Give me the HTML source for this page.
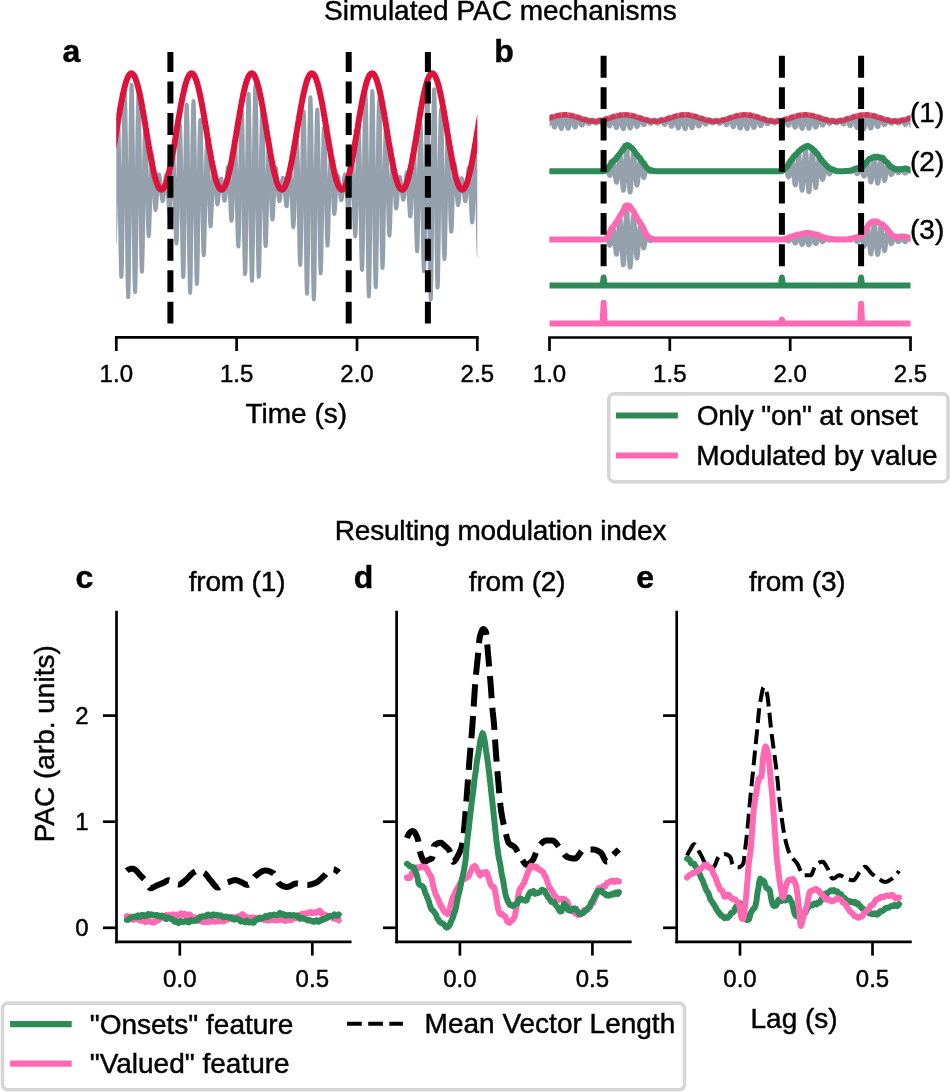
<!DOCTYPE html>
<html><head><meta charset="utf-8"><style>
html,body{margin:0;padding:0;background:#fff;}
svg{display:block;will-change:transform;}
text{font-family:"Liberation Sans", sans-serif;fill:#000;stroke:#000;stroke-width:0.45px;}
</style></head><body>
<svg width="950" height="1092" viewBox="0 0 950 1092">
<rect width="950" height="1092" fill="#fff"/>
<text x="324.1" y="20.2" font-size="28" font-weight="400" text-anchor="start" >Simulated PAC mechanisms</text>
<text x="334.7" y="539.8" font-size="28" font-weight="400" text-anchor="start"  textLength="331.7" lengthAdjust="spacing">Resulting modulation index</text>
<text x="62.6" y="62.2" font-size="32" font-weight="700" text-anchor="start" >a</text>
<text x="494.3" y="61.8" font-size="32" font-weight="700" text-anchor="start" >b</text>
<text x="75.5" y="587.8" font-size="32" font-weight="700" text-anchor="start" >c</text>
<text x="353.7" y="587.6" font-size="32" font-weight="700" text-anchor="start" >d</text>
<text x="636.2" y="587.8" font-size="32" font-weight="700" text-anchor="start" >e</text>
<defs><clipPath id="clipa"><rect x="116.3" y="40" width="361" height="300"/></clipPath><clipPath id="clipb"><rect x="549.5" y="40" width="361" height="300"/></clipPath></defs>
<g clip-path="url(#clipa)">
<path d="M113.9,232.6 L114.2,239.4 L114.6,241.8 L114.9,239.2 L115.2,231.5 L115.6,219.2 L115.9,203.2 L116.2,184.9 L116.6,166.2 L116.9,148.6 L117.2,133.9 L117.6,123.6 L117.9,119 L118.2,120.8 L118.6,129.1 L118.9,143.5 L119.2,162.8 L119.6,185.3 L119.9,209.9 L120.2,233.6 L120.6,254 L120.9,269 L121.2,276.9 L121.5,276.7 L121.9,268.2 L122.2,252 L122.5,229.2 L122.9,202 L123.2,173.6 L123.5,146.8 L123.9,123.1 L124.2,105 L124.5,94.3 L124.9,92.1 L125.2,98.9 L125.5,114.2 L125.9,136.7 L126.2,164.5 L126.5,195.2 L126.9,226.7 L127.2,255 L127.5,277.6 L127.9,292.2 L128.2,297.3 L128.5,292.4 L128.9,277.8 L129.2,254.8 L129.5,225.5 L129.9,192.6 L130.2,161.1 L130.5,132.2 L130.9,108.5 L131.2,92.2 L131.5,84.8 L131.9,86.9 L132.2,98.4 L132.5,118.1 L132.9,144.3 L133.2,174.4 L133.5,206.3 L133.9,236.8 L134.2,262.6 L134.5,281.4 L134.9,291.4 L135.2,291.9 L135.5,282.9 L135.9,265.3 L136.2,241 L136.5,212.2 L136.9,181.8 L137.2,152.9 L137.5,127.8 L137.9,108.8 L138.2,97.5 L138.5,94.7 L138.9,100.6 L139.2,114.4 L139.5,134.5 L139.9,159.1 L140.2,185.6 L140.5,212.5 L140.9,236.5 L141.2,255.3 L141.5,267.4 L141.9,271.9 L142.2,268.6 L142.5,258.2 L142.9,241.8 L143.2,221.2 L143.5,198.5 L143.9,176.6 L144.2,157.4 L144.5,141.8 L144.8,131.2 L145.2,126.3 L145.5,127.3 L145.8,133.8 L146.2,144.9 L146.5,159.4 L146.8,175.8 L147.2,192.5 L147.5,208.3 L147.8,221.4 L148.2,230.7 L148.5,235.6 L148.8,236 L149.2,232 L149.5,224.3 L149.8,213.9 L150.2,201.9 L150.5,189.6 L150.8,177.9 L151.2,168 L151.5,160.8 L151.8,156.6 L152.2,155.6 L152.5,157.7 L152.8,162.3 L153.2,169 L153.5,176.9 L153.8,185.1 L154.2,193.1 L154.5,200.1 L154.8,205.4 L155.2,208.7 L155.5,210 L155.8,209.2 L156.2,206.6 L156.5,202.6 L156.8,197.7 L157.2,192.4 L157.5,187.2 L157.8,182.4 L158.2,178.5 L158.5,175.8 L158.8,174.4 L159.2,174.5 L159.5,175.7 L159.8,178 L160.2,181.1 L160.5,184.6 L160.8,188.2 L161.2,192 L161.5,195.5 L161.8,198.3 L162.2,200.2 L162.5,201.2 L162.8,201 L163.2,199.7 L163.5,197.4 L163.8,194.2 L164.2,190.2 L164.5,186.5 L164.8,183 L165.2,179.8 L165.5,177.1 L165.8,175.3 L166.2,174.6 L166.5,175.2 L166.8,177.1 L167.2,180.4 L167.5,184.7 L167.8,190.1 L168.2,196.6 L168.5,202.9 L168.8,208.4 L169.1,212.4 L169.5,214.4 L169.8,214.1 L170.1,211.3 L170.5,205.9 L170.8,198.3 L171.1,189.2 L171.5,180.5 L171.8,172.1 L172.1,164.6 L172.5,158.8 L172.8,155.4 L173.1,155 L173.5,157.9 L173.8,163.9 L174.1,172.8 L174.5,183.7 L174.8,197.2 L175.1,211.6 L175.5,224.6 L175.8,235 L176.1,241.6 L176.5,243.4 L176.8,240.1 L177.1,231.6 L177.5,218.6 L177.8,202 L178.1,183.7 L178.5,166.4 L178.8,150.4 L179.1,137.2 L179.5,128.4 L179.8,124.8 L180.1,127.1 L180.5,135.4 L180.8,149 L181.1,166.8 L181.5,187.3 L181.8,212.1 L182.1,235.8 L182.5,255.7 L182.8,270 L183.1,277 L183.5,275.9 L183.8,266.5 L184.1,249.7 L184.5,226.6 L184.8,199.5 L185.1,173.4 L185.5,149.8 L185.8,129.4 L186.1,114.1 L186.5,105.5 L186.8,104.5 L187.1,111.2 L187.5,125.3 L187.8,145.4 L188.1,169.8 L188.5,197.5 L188.8,227.8 L189.1,254.8 L189.5,275.8 L189.8,288.9 L190.1,292.8 L190.5,287 L190.8,272.1 L191.1,249.5 L191.5,221.2 L191.8,189.8 L192.1,163.1 L192.4,139 L192.8,119.5 L193.1,106.4 L193.4,101 L193.8,103.7 L194.1,114.1 L194.4,131.3 L194.8,153.6 L195.1,178.9 L195.4,207.5 L195.8,235.6 L196.1,259 L196.4,275.6 L196.8,284 L197.1,283.4 L197.4,274.2 L197.8,257.3 L198.1,234.5 L198.4,207.9 L198.8,181.8 L199.1,160.5 L199.4,142.2 L199.8,128.7 L200.1,121.1 L200.4,119.7 L200.8,124.7 L201.1,135.4 L201.4,150.6 L201.8,168.7 L202.1,188 L202.4,209.7 L202.8,228.8 L203.1,243.4 L203.4,252.5 L203.8,255.4 L204.1,252.1 L204.4,243.2 L204.8,229.6 L205.1,213 L205.4,195 L205.8,178.4 L206.1,164.2 L206.4,153 L206.8,145.6 L207.1,142.5 L207.4,143.8 L207.8,149 L208.1,157.5 L208.4,168.3 L208.8,180.2 L209.1,192.8 L209.4,205.4 L209.8,215.7 L210.1,222.8 L210.4,226.3 L210.8,226.1 L211.1,222.5 L211.4,216.1 L211.8,207.7 L212.1,198.2 L212.4,188.6 L212.8,180.8 L213.1,174.3 L213.4,169.7 L213.8,167.1 L214.1,166.7 L214.4,168.3 L214.8,171.6 L215.1,176.1 L215.4,181.3 L215.7,186.7 L216.1,192.3 L216.4,197.4 L216.7,201.3 L217.1,203.6 L217.4,204.5 L217.7,203.8 L218.1,201.9 L218.4,198.9 L218.7,195.2 L219.1,191.2 L219.4,187.5 L219.7,184.6 L220.1,182.1 L220.4,180.1 L220.7,179 L221.1,178.6 L221.4,179.1 L221.7,180.5 L222.1,182.6 L222.4,185.3 L222.7,188.5 L223.1,191.8 L223.4,194.9 L223.7,197.6 L224.1,199.6 L224.4,200.8 L224.7,200.8 L225.1,199.7 L225.4,197.5 L225.7,194.2 L226.1,190 L226.4,185 L226.7,179.6 L227.1,174.7 L227.4,170.5 L227.7,167.8 L228.1,166.8 L228.4,167.9 L228.7,171.1 L229.1,176.3 L229.4,183.2 L229.7,191.2 L230.1,199.3 L230.4,207.1 L230.7,213.7 L231.1,218.5 L231.4,220.7 L231.7,219.9 L232.1,216.1 L232.4,209.1 L232.7,199.7 L233.1,188.4 L233.4,176.5 L233.7,164.8 L234.1,154.7 L234.4,147 L234.7,142.9 L235.1,143 L235.4,147.4 L235.7,156 L236.1,168.4 L236.4,183.4 L236.7,199.1 L237.1,214.5 L237.4,228.2 L237.7,238.8 L238.1,245.2 L238.4,246.5 L238.7,242.3 L239.1,232.8 L239.4,218.7 L239.7,201 L240,180.8 L240.4,159.2 L240.7,139.5 L241,123.7 L241.4,113.4 L241.7,109.8 L242,113.5 L242.4,124.4 L242.7,141.7 L243,163.9 L243.4,189.1 L243.7,213.5 L244,236.2 L244.4,255.1 L244.7,268.1 L245,274.1 L245.4,272.1 L245.7,262.3 L246,245.4 L246.4,222.9 L246.7,196.8 L247,169 L247.4,142.3 L247.7,119.5 L248,102.9 L248.4,94 L248.7,93.8 L249,102.4 L249.4,119 L249.7,142.2 L250,169.8 L250.4,198.8 L250.7,225.8 L251,249.5 L251.4,267.6 L251.7,278.4 L252,280.9 L252.4,274.9 L252.7,260.9 L253,240.3 L253.4,215 L253.7,187.3 L254,155.8 L254.4,127.6 L254.7,105.2 L255,90.7 L255.4,85.3 L255.7,89.5 L256,102.7 L256.4,123.6 L256.7,150.1 L257,179.7 L257.4,208.4 L257.7,234.3 L258,255.5 L258.4,270.1 L258.7,276.9 L259,275.5 L259.4,266.2 L259.7,250 L260,228.6 L260.4,204.2 L260.7,179 L261,155.3 L261.4,135.5 L261.7,121.1 L262,113.3 L262.4,112.7 L262.7,119 L263,131.4 L263.3,148.5 L263.7,168.5 L264,189.5 L264.3,208.4 L264.7,224.7 L265,237 L265.3,244.2 L265.7,246.1 L266,242.6 L266.3,234.4 L266.7,222.5 L267,208.1 L267.3,192.7 L267.7,176.3 L268,161.4 L268.3,149.8 L268.7,142.5 L269,139.7 L269.3,141.6 L269.7,147.6 L270,156.9 L270.3,168.4 L270.7,180.9 L271,193 L271.3,203.3 L271.7,211.5 L272,217 L272.3,219.5 L272.7,219 L273,215.8 L273.3,210.4 L273.7,203.4 L274,195.7 L274.3,188 L274.7,180.7 L275,174.7 L275.3,170.5 L275.7,168.2 L276,168 L276.3,169.7 L276.7,172.9 L277,177.2 L277.3,182.1 L277.7,187.2 L278,191.8 L278.3,195.7 L278.7,198.6 L279,200.5 L279.3,201.2 L279.7,200.8 L280,199.4 L280.3,197.1 L280.7,194.1 L281,190.6 L281.3,187.1 L281.7,184 L282,181.2 L282.3,179.2 L282.7,178 L283,177.7 L283.3,178.3 L283.7,179.9 L284,182.3 L284.3,185.3 L284.7,188.8 L285,193.3 L285.3,197.7 L285.7,201.6 L286,204.5 L286.3,206.2 L286.7,206.3 L287,204.7 L287.3,201.3 L287.6,196.4 L288,190.2 L288.3,184.7 L288.6,179.5 L289,174.7 L289.3,170.9 L289.6,168.4 L290,167.6 L290.3,168.8 L290.6,172.1 L291,177.3 L291.3,184.1 L291.6,192.6 L292,202.4 L292.3,211.7 L292.6,219.5 L293,224.9 L293.3,227.2 L293.6,225.8 L294,220.7 L294.3,212.2 L294.6,200.7 L295,187.3 L295.3,174.3 L295.6,161.9 L296,151.2 L296.3,143.4 L296.6,139.5 L297,140.1 L297.3,145.4 L297.6,155 L298,168.4 L298.3,184.4 L298.6,204.5 L299,224.9 L299.3,242.8 L299.6,256.4 L300,264.1 L300.3,265 L300.6,258.7 L301,245.5 L301.3,226.3 L301.6,202.9 L302,179.1 L302.3,157.7 L302.6,138.4 L303,123.3 L303.3,113.8 L303.6,111.1 L304,115.6 L304.3,127 L304.6,144.5 L305,166.5 L305.3,191.7 L305.6,222 L306,249.8 L306.3,272.4 L306.6,287.6 L307,293.9 L307.3,290.4 L307.6,277.4 L308,255.9 L308.3,228 L308.6,196 L309,167.3 L309.3,141.7 L309.6,120.2 L310,104.9 L310.3,97.2 L310.6,97.9 L310.9,107 L311.3,123.7 L311.6,146.4 L311.9,173 L312.3,203.7 L312.6,236.4 L312.9,264.5 L313.3,285.6 L313.6,297.6 L313.9,299.5 L314.3,291.2 L314.6,273.5 L314.9,248.1 L315.3,217.6 L315.6,185.6 L315.9,161.3 L316.3,139.9 L316.6,123.2 L316.9,112.8 L317.3,109.5 L317.6,113.4 L317.9,124.2 L318.3,140.7 L318.6,161.1 L318.9,183.7 L319.3,209.9 L319.6,234.6 L319.9,254.5 L320.3,267.7 L320.6,273.4 L320.9,271.2 L321.3,261.5 L321.6,245.4 L321.9,224.7 L322.3,201.4 L322.6,179.2 L322.9,160.2 L323.3,144.6 L323.6,133.5 L323.9,127.9 L324.3,128.1 L324.6,133.7 L324.9,144.1 L325.3,158 L325.6,174.1 L325.9,191.1 L326.3,210 L326.6,226 L326.9,237.8 L327.3,244.4 L327.6,245.6 L327.9,241.5 L328.3,232.9 L328.6,220.8 L328.9,206.5 L329.3,191.5 L329.6,179.4 L329.9,169.5 L330.3,162.1 L330.6,157.5 L330.9,156.1 L331.3,157.7 L331.6,162 L331.9,168.3 L332.3,176 L332.6,184.2 L332.9,193 L333.3,201.4 L333.6,208 L333.9,212.3 L334.2,214.1 L334.6,213.4 L334.9,210.5 L335.2,205.9 L335.6,200.1 L335.9,193.9 L336.2,187.8 L336.6,183.2 L336.9,179.4 L337.2,176.8 L337.6,175.5 L337.9,175.4 L338.2,176.5 L338.6,178.5 L338.9,181.3 L339.2,184.5 L339.6,187.9 L339.9,191.6 L340.2,195 L340.6,197.7 L340.9,199.4 L341.2,200.2 L341.6,199.9 L341.9,198.6 L342.2,196.5 L342.6,193.6 L342.9,190.3 L343.2,186.8 L343.6,183.2 L343.9,179.9 L344.2,177.2 L344.6,175.3 L344.9,174.6 L345.2,175.2 L345.6,177 L345.9,180.1 L346.2,184.3 L346.6,189.4 L346.9,195 L347.2,200.5 L347.6,205.4 L347.9,209.1 L348.2,211.2 L348.6,211.2 L348.9,208.9 L349.2,204.5 L349.6,198 L349.9,190 L350.2,182.1 L350.6,174.2 L350.9,167.1 L351.2,161.5 L351.6,158 L351.9,157.2 L352.2,159.4 L352.6,164.6 L352.9,172.6 L353.2,182.8 L353.6,194.6 L353.9,207 L354.2,218.6 L354.6,228 L354.9,234.2 L355.2,236.5 L355.6,234.2 L355.9,227.4 L356.2,216.5 L356.6,202.1 L356.9,185.6 L357.2,168.6 L357.6,152.5 L357.9,139 L358.2,129.5 L358.5,125.2 L358.9,126.6 L359.2,134.1 L359.5,147 L359.9,164.5 L360.2,185.1 L360.5,207.7 L360.9,229.6 L361.2,248.5 L361.5,262.5 L361.9,269.9 L362.2,270 L362.5,262.4 L362.9,247.5 L363.2,226.7 L363.5,201.6 L363.9,174.6 L364.2,148.3 L364.5,124.9 L364.9,107 L365.2,96.2 L365.5,93.9 L365.9,100.3 L366.2,115.1 L366.5,137 L366.9,164.2 L367.2,194.3 L367.5,225.6 L367.9,253.9 L368.2,276.5 L368.5,291.2 L368.9,296.6 L369.2,291.9 L369.5,277.6 L369.9,255 L370.2,226 L370.5,193.4 L370.9,163.4 L371.2,136.2 L371.5,113.7 L371.9,98.1 L372.2,90.9 L372.5,92.7 L372.9,103.3 L373.2,121.7 L373.5,146.2 L373.9,174.5 L374.2,204.7 L374.5,233.8 L374.9,258.6 L375.2,276.7 L375.5,286.5 L375.9,287.2 L376.2,278.8 L376.5,262.3 L376.9,239.2 L377.2,211.8 L377.5,183 L377.9,155.6 L378.2,131.9 L378.5,113.7 L378.9,102.9 L379.2,100 L379.5,105.4 L379.9,118.2 L380.2,137.1 L380.5,160.1 L380.9,185.1 L381.2,210.8 L381.5,233.7 L381.8,251.9 L382.2,263.6 L382.5,268.1 L382.8,265.2 L383.2,255.4 L383.5,239.9 L383.8,220.3 L384.2,198.6 L384.5,177.4 L384.8,158.4 L385.2,143.1 L385.5,132.5 L385.8,127.6 L386.2,128.4 L386.5,134.6 L386.8,145.4 L387.2,159.6 L387.5,175.6 L387.8,192 L388.2,207.8 L388.5,220.9 L388.8,230.2 L389.2,235.2 L389.5,235.6 L389.8,231.8 L390.2,224.3 L390.5,214 L390.8,202.2 L391.2,189.9 L391.5,179 L391.8,169.8 L392.2,162.9 L392.5,159 L392.8,158 L393.2,159.8 L393.5,164.1 L393.8,170.3 L394.2,177.5 L394.5,185.1 L394.8,192.6 L395.2,199.2 L395.5,204.3 L395.8,207.4 L396.2,208.6 L396.5,207.9 L396.8,205.5 L397.2,201.8 L397.5,197.3 L397.8,192.3 L398.2,187.6 L398.5,183.6 L398.8,180.5 L399.2,178.2 L399.5,177 L399.8,176.9 L400.2,177.8 L400.5,179.6 L400.8,182.1 L401.2,185 L401.5,188.2 L401.8,191.5 L402.2,194.5 L402.5,197 L402.8,198.8 L403.2,199.8 L403.5,199.7 L403.8,198.7 L404.2,196.6 L404.5,193.8 L404.8,190.2 L405.1,186.2 L405.5,182.2 L405.8,178.4 L406.1,175.3 L406.5,173.1 L406.8,172.3 L407.1,172.9 L407.5,175.1 L407.8,178.9 L408.1,184 L408.5,190.1 L408.8,197 L409.1,203.7 L409.5,209.6 L409.8,214 L410.1,216.2 L410.5,216 L410.8,213 L411.1,207.3 L411.5,199.3 L411.8,189.5 L412.1,178.8 L412.5,168.2 L412.8,158.7 L413.1,151.4 L413.5,147.1 L413.8,146.5 L414.1,150 L414.5,157.4 L414.8,168.5 L415.1,182.2 L415.5,198 L415.8,214.5 L416.1,229.5 L416.5,241.5 L416.8,249.1 L417.1,251.4 L417.5,247.7 L417.8,238.2 L418.1,223.4 L418.5,204.5 L418.8,184.1 L419.1,166.4 L419.5,149.9 L419.8,136.4 L420.1,127.1 L420.5,123.3 L420.8,125.6 L421.1,133.8 L421.5,147.6 L421.8,165.8 L422.1,186.7 L422.5,210 L422.8,232.2 L423.1,250.9 L423.5,264.4 L423.8,271.2 L424.1,270.4 L424.5,261.8 L424.8,246.2 L425.1,224.8 L425.5,199.5 L425.8,171.7 L426.1,144.2 L426.5,120.3 L426.8,102.3 L427.1,92 L427.5,90.6 L427.8,98.2 L428.1,114.4 L428.5,137.6 L428.8,165.9 L429.1,197.2 L429.4,229.5 L429.8,258.4 L430.1,281 L430.4,295.1 L430.8,299.5 L431.1,293.7 L431.4,278 L431.8,254.1 L432.1,224.1 L432.4,190.8 L432.8,160.4 L433.1,132.8 L433.4,110.5 L433.8,95.5 L434.1,89.1 L434.4,91.8 L434.8,103.5 L435.1,122.9 L435.4,148.1 L435.8,176.8 L436.1,207.4 L436.4,236.8 L436.8,261.3 L437.1,278.7 L437.4,287.6 L437.8,287.3 L438.1,278 L438.4,260.6 L438.8,237 L439.1,209.4 L439.4,181.4 L439.8,156.8 L440.1,135.6 L440.4,119.9 L440.8,110.8 L441.1,109.1 L441.4,114.7 L441.8,126.9 L442.1,144.2 L442.4,165.1 L442.8,187.3 L443.1,210.3 L443.4,230.5 L443.8,246.1 L444.1,255.9 L444.4,259.1 L444.8,255.7 L445.1,246.5 L445.4,232.3 L445.8,214.8 L446.1,195.8 L446.4,176.4 L446.8,158.6 L447.1,144.4 L447.4,135 L447.8,131 L448.1,132.4 L448.4,138.8 L448.8,149.4 L449.1,162.8 L449.4,177.8 L449.8,193 L450.1,207.5 L450.4,219.4 L450.8,227.6 L451.1,231.7 L451.4,231.6 L451.8,227.6 L452.1,220.3 L452.4,210.8 L452.7,199.9 L453.1,188.9 L453.4,179.9 L453.7,172.5 L454.1,167.1 L454.4,164.1 L454.7,163.6 L455.1,165.4 L455.4,169.1 L455.7,174.2 L456.1,180.1 L456.4,186.3 L456.7,192.3 L457.1,197.7 L457.4,201.7 L457.7,204.2 L458.1,205.1 L458.4,204.5 L458.7,202.5 L459.1,199.4 L459.4,195.6 L459.7,191.4 L460.1,187.5 L460.4,184.2 L460.7,181.5 L461.1,179.5 L461.4,178.4 L461.7,178.1 L462.1,178.8 L462.4,180.3 L462.7,182.5 L463.1,185.3 L463.4,188.4 L463.7,191.8 L464.1,195.1 L464.4,197.9 L464.7,200 L465.1,201.2 L465.4,201.3 L465.7,200.2 L466.1,197.9 L466.4,194.5 L466.7,190.2 L467.1,185.3 L467.4,180.2 L467.7,175.5 L468.1,171.5 L468.4,168.9 L468.7,167.9 L469.1,168.8 L469.4,171.8 L469.7,176.8 L470.1,183.3 L470.4,191.1 L470.7,199.7 L471.1,207.9 L471.4,215 L471.7,220.1 L472.1,222.5 L472.4,221.8 L472.7,217.8 L473.1,210.6 L473.4,200.6 L473.7,188.7 L474.1,176.1 L474.4,163.9 L474.7,153.1 L475.1,145 L475.4,140.6 L475.7,140.5 L476.1,145 L476.4,154 L476.7,166.9 L477,182.7 L477.4,200.5 L477.7,218.4 L478,234.5 L478.4,247.1 L478.7,254.7 L479,256.4 L479.4,251.7 L479.7,240.7" fill="none" stroke="#94a0ac" stroke-width="3.9" stroke-linejoin="round" stroke-linecap="round" />
<path d="M113.9,146 L114.2,144 L114.6,142 L114.9,140 L115.2,138 L115.6,136 L115.9,134 L116.2,132 L116.6,129.9 L116.9,127.9 L117.2,125.9 L117.6,123.9 L117.9,121.9 L118.2,119.9 L118.6,117.9 L118.9,116 L119.2,114 L119.6,112.1 L119.9,110.2 L120.2,108.3 L120.6,106.5 L120.9,104.7 L121.2,102.9 L121.5,101.2 L121.9,99.5 L122.2,97.8 L122.5,96.2 L122.9,94.6 L123.2,93 L123.5,91.5 L123.9,90.1 L124.2,88.7 L124.5,87.4 L124.9,86.1 L125.2,84.8 L125.5,83.6 L125.9,82.5 L126.2,81.5 L126.5,80.5 L126.9,79.5 L127.2,78.6 L127.5,77.8 L127.9,77.1 L128.2,76.4 L128.5,75.8 L128.9,75.2 L129.2,74.7 L129.5,74.3 L129.9,74 L130.2,73.7 L130.5,73.5 L130.9,73.4 L131.2,73.3 L131.5,73.3 L131.9,73.4 L132.2,73.5 L132.5,73.8 L132.9,74 L133.2,74.4 L133.5,74.8 L133.9,75.3 L134.2,75.9 L134.5,76.5 L134.9,77.2 L135.2,78 L135.5,78.8 L135.9,79.7 L136.2,80.6 L136.5,81.6 L136.9,82.7 L137.2,83.8 L137.5,85 L137.9,86.3 L138.2,87.6 L138.5,88.9 L138.9,90.3 L139.2,91.8 L139.5,93.3 L139.9,94.8 L140.2,96.4 L140.5,98.1 L140.9,99.7 L141.2,101.4 L141.5,103.2 L141.9,105 L142.2,106.8 L142.5,108.6 L142.9,110.5 L143.2,112.4 L143.5,114.3 L143.9,116.3 L144.2,118.2 L144.5,120.2 L144.8,122.2 L145.2,124.2 L145.5,126.2 L145.8,128.2 L146.2,130.3 L146.5,132.3 L146.8,134.3 L147.2,136.3 L147.5,138.3 L147.8,140.3 L148.2,142.3 L148.5,144.3 L148.8,146.3 L149.2,148.2 L149.5,150.2 L149.8,152.1 L150.2,153.9 L150.5,155.8 L150.8,157.6 L151.2,159.4 L151.5,161.2 L151.8,162.9 L152.2,164.6 L152.5,166.2 L152.8,167.8 L153.2,169.4 L153.5,170.9 L153.8,172.4 L154.2,173.8 L154.5,175.1 L154.8,176.5 L155.2,177.7 L155.5,178.9 L155.8,180.1 L156.2,181.1 L156.5,182.2 L156.8,183.1 L157.2,184 L157.5,184.9 L157.8,185.6 L158.2,186.4 L158.5,187 L158.8,187.6 L159.2,188.1 L159.5,188.5 L159.8,188.9 L160.2,189.2 L160.5,189.4 L160.8,189.6 L161.2,189.7 L161.5,189.7 L161.8,189.6 L162.2,189.5 L162.5,189.3 L162.8,189.1 L163.2,188.8 L163.5,188.4 L163.8,187.9 L164.2,187.4 L164.5,186.7 L164.8,186.1 L165.2,185.3 L165.5,184.5 L165.8,183.7 L166.2,182.8 L166.5,181.8 L166.8,180.7 L167.2,179.6 L167.5,178.4 L167.8,177.2 L168.2,175.9 L168.5,174.6 L168.8,173.2 L169.1,171.8 L169.5,170.3 L169.8,168.8 L170.1,167.2 L170.5,165.6 L170.8,163.9 L171.1,162.2 L171.5,160.5 L171.8,158.7 L172.1,156.9 L172.5,155.1 L172.8,153.2 L173.1,151.3 L173.5,149.4 L173.8,147.5 L174.1,145.5 L174.5,143.5 L174.8,141.5 L175.1,139.5 L175.5,137.5 L175.8,135.5 L176.1,133.5 L176.5,131.5 L176.8,129.5 L177.1,127.4 L177.5,125.4 L177.8,123.4 L178.1,121.4 L178.5,119.4 L178.8,117.5 L179.1,115.5 L179.5,113.6 L179.8,111.6 L180.1,109.8 L180.5,107.9 L180.8,106.1 L181.1,104.3 L181.5,102.5 L181.8,100.8 L182.1,99.1 L182.5,97.4 L182.8,95.8 L183.1,94.2 L183.5,92.7 L183.8,91.2 L184.1,89.8 L184.5,88.4 L184.8,87 L185.1,85.8 L185.5,84.5 L185.8,83.4 L186.1,82.3 L186.5,81.2 L186.8,80.2 L187.1,79.3 L187.5,78.4 L187.8,77.6 L188.1,76.9 L188.5,76.2 L188.8,75.6 L189.1,75.1 L189.5,74.6 L189.8,74.2 L190.1,73.9 L190.5,73.7 L190.8,73.5 L191.1,73.3 L191.5,73.3 L191.8,73.3 L192.1,73.4 L192.4,73.6 L192.8,73.8 L193.1,74.1 L193.4,74.5 L193.8,74.9 L194.1,75.4 L194.4,76 L194.8,76.7 L195.1,77.4 L195.4,78.1 L195.8,79 L196.1,79.9 L196.4,80.9 L196.8,81.9 L197.1,83 L197.4,84.1 L197.8,85.3 L198.1,86.6 L198.4,87.9 L198.8,89.3 L199.1,90.7 L199.4,92.1 L199.8,93.7 L200.1,95.2 L200.4,96.8 L200.8,98.5 L201.1,100.1 L201.4,101.9 L201.8,103.6 L202.1,105.4 L202.4,107.2 L202.8,109.1 L203.1,111 L203.4,112.9 L203.8,114.8 L204.1,116.8 L204.4,118.7 L204.8,120.7 L205.1,122.7 L205.4,124.7 L205.8,126.7 L206.1,128.7 L206.4,130.8 L206.8,132.8 L207.1,134.8 L207.4,136.8 L207.8,138.8 L208.1,140.8 L208.4,142.8 L208.8,144.8 L209.1,146.8 L209.4,148.7 L209.8,150.6 L210.1,152.5 L210.4,154.4 L210.8,156.2 L211.1,158.1 L211.4,159.8 L211.8,161.6 L212.1,163.3 L212.4,165 L212.8,166.6 L213.1,168.2 L213.4,169.8 L213.8,171.3 L214.1,172.7 L214.4,174.1 L214.8,175.5 L215.1,176.8 L215.4,178 L215.7,179.2 L216.1,180.3 L216.4,181.4 L216.7,182.4 L217.1,183.4 L217.4,184.2 L217.7,185.1 L218.1,185.8 L218.4,186.5 L218.7,187.1 L219.1,187.7 L219.4,188.2 L219.7,188.6 L220.1,189 L220.4,189.3 L220.7,189.5 L221.1,189.6 L221.4,189.7 L221.7,189.7 L222.1,189.6 L222.4,189.5 L222.7,189.3 L223.1,189 L223.4,188.7 L223.7,188.2 L224.1,187.8 L224.4,187.2 L224.7,186.6 L225.1,185.9 L225.4,185.2 L225.7,184.3 L226.1,183.5 L226.4,182.5 L226.7,181.5 L227.1,180.4 L227.4,179.3 L227.7,178.1 L228.1,176.9 L228.4,175.6 L228.7,174.3 L229.1,172.9 L229.4,171.4 L229.7,169.9 L230.1,168.4 L230.4,166.8 L230.7,165.2 L231.1,163.5 L231.4,161.8 L231.7,160 L232.1,158.3 L232.4,156.4 L232.7,154.6 L233.1,152.7 L233.4,150.8 L233.7,148.9 L234.1,147 L234.4,145 L234.7,143 L235.1,141.1 L235.4,139.1 L235.7,137 L236.1,135 L236.4,133 L236.7,131 L237.1,129 L237.4,126.9 L237.7,124.9 L238.1,122.9 L238.4,120.9 L238.7,118.9 L239.1,117 L239.4,115 L239.7,113.1 L240,111.2 L240.4,109.3 L240.7,107.4 L241,105.6 L241.4,103.8 L241.7,102.1 L242,100.3 L242.4,98.6 L242.7,97 L243,95.4 L243.4,93.8 L243.7,92.3 L244,90.8 L244.4,89.4 L244.7,88 L245,86.7 L245.4,85.5 L245.7,84.2 L246,83.1 L246.4,82 L246.7,81 L247,80 L247.4,79.1 L247.7,78.2 L248,77.5 L248.4,76.7 L248.7,76.1 L249,75.5 L249.4,75 L249.7,74.5 L250,74.2 L250.4,73.8 L250.7,73.6 L251,73.4 L251.4,73.3 L251.7,73.3 L252,73.3 L252.4,73.5 L252.7,73.6 L253,73.9 L253.4,74.2 L253.7,74.6 L254,75 L254.4,75.6 L254.7,76.2 L255,76.8 L255.4,77.6 L255.7,78.3 L256,79.2 L256.4,80.1 L256.7,81.1 L257,82.1 L257.4,83.2 L257.7,84.4 L258,85.6 L258.4,86.9 L258.7,88.2 L259,89.6 L259.4,91 L259.7,92.5 L260,94 L260.4,95.6 L260.7,97.2 L261,98.9 L261.4,100.6 L261.7,102.3 L262,104.1 L262.4,105.9 L262.7,107.7 L263,109.6 L263.3,111.4 L263.7,113.4 L264,115.3 L264.3,117.2 L264.7,119.2 L265,121.2 L265.3,123.2 L265.7,125.2 L266,127.2 L266.3,129.2 L266.7,131.3 L267,133.3 L267.3,135.3 L267.7,137.3 L268,139.3 L268.3,141.3 L268.7,143.3 L269,145.3 L269.3,147.2 L269.7,149.2 L270,151.1 L270.3,153 L270.7,154.9 L271,156.7 L271.3,158.5 L271.7,160.3 L272,162 L272.3,163.7 L272.7,165.4 L273,167 L273.3,168.6 L273.7,170.1 L274,171.6 L274.3,173.1 L274.7,174.4 L275,175.8 L275.3,177.1 L275.7,178.3 L276,179.5 L276.3,180.6 L276.7,181.7 L277,182.6 L277.3,183.6 L277.7,184.5 L278,185.3 L278.3,186 L278.7,186.7 L279,187.3 L279.3,187.8 L279.7,188.3 L280,188.7 L280.3,189 L280.7,189.3 L281,189.5 L281.3,189.6 L281.7,189.7 L282,189.7 L282.3,189.6 L282.7,189.4 L283,189.2 L283.3,188.9 L283.7,188.6 L284,188.1 L284.3,187.6 L284.7,187.1 L285,186.4 L285.3,185.7 L285.7,185 L286,184.1 L286.3,183.2 L286.7,182.3 L287,181.3 L287.3,180.2 L287.6,179 L288,177.8 L288.3,176.6 L288.6,175.3 L289,173.9 L289.3,172.5 L289.6,171.1 L290,169.6 L290.3,168 L290.6,166.4 L291,164.8 L291.3,163.1 L291.6,161.4 L292,159.6 L292.3,157.8 L292.6,156 L293,154.2 L293.3,152.3 L293.6,150.4 L294,148.4 L294.3,146.5 L294.6,144.5 L295,142.6 L295.3,140.6 L295.6,138.6 L296,136.6 L296.3,134.5 L296.6,132.5 L297,130.5 L297.3,128.5 L297.6,126.4 L298,124.4 L298.3,122.4 L298.6,120.4 L299,118.5 L299.3,116.5 L299.6,114.6 L300,112.6 L300.3,110.7 L300.6,108.8 L301,107 L301.3,105.2 L301.6,103.4 L302,101.6 L302.3,99.9 L302.6,98.2 L303,96.6 L303.3,95 L303.6,93.4 L304,91.9 L304.3,90.5 L304.6,89.1 L305,87.7 L305.3,86.4 L305.6,85.2 L306,84 L306.3,82.8 L306.6,81.7 L307,80.7 L307.3,79.8 L307.6,78.9 L308,78 L308.3,77.3 L308.6,76.6 L309,75.9 L309.3,75.4 L309.6,74.9 L310,74.4 L310.3,74.1 L310.6,73.8 L310.9,73.6 L311.3,73.4 L311.6,73.3 L311.9,73.3 L312.3,73.4 L312.6,73.5 L312.9,73.7 L313.3,74 L313.6,74.3 L313.9,74.7 L314.3,75.2 L314.6,75.7 L314.9,76.3 L315.3,77 L315.6,77.7 L315.9,78.5 L316.3,79.4 L316.6,80.4 L316.9,81.3 L317.3,82.4 L317.6,83.5 L317.9,84.7 L318.3,85.9 L318.6,87.2 L318.9,88.6 L319.3,89.9 L319.6,91.4 L319.9,92.9 L320.3,94.4 L320.6,96 L320.9,97.6 L321.3,99.3 L321.6,101 L321.9,102.7 L322.3,104.5 L322.6,106.3 L322.9,108.1 L323.3,110 L323.6,111.9 L323.9,113.8 L324.3,115.8 L324.6,117.7 L324.9,119.7 L325.3,121.7 L325.6,123.7 L325.9,125.7 L326.3,127.7 L326.6,129.7 L326.9,131.7 L327.3,133.8 L327.6,135.8 L327.9,137.8 L328.3,139.8 L328.6,141.8 L328.9,143.8 L329.3,145.8 L329.6,147.7 L329.9,149.6 L330.3,151.6 L330.6,153.4 L330.9,155.3 L331.3,157.1 L331.6,158.9 L331.9,160.7 L332.3,162.4 L332.6,164.1 L332.9,165.8 L333.3,167.4 L333.6,169 L333.9,170.5 L334.2,172 L334.6,173.4 L334.9,174.8 L335.2,176.1 L335.6,177.4 L335.9,178.6 L336.2,179.8 L336.6,180.9 L336.9,181.9 L337.2,182.9 L337.6,183.8 L337.9,184.7 L338.2,185.4 L338.6,186.2 L338.9,186.8 L339.2,187.4 L339.6,188 L339.9,188.4 L340.2,188.8 L340.6,189.1 L340.9,189.4 L341.2,189.5 L341.6,189.7 L341.9,189.7 L342.2,189.7 L342.6,189.6 L342.9,189.4 L343.2,189.2 L343.6,188.8 L343.9,188.5 L344.2,188 L344.6,187.5 L344.9,186.9 L345.2,186.3 L345.6,185.5 L345.9,184.8 L346.2,183.9 L346.6,183 L346.9,182 L347.2,181 L347.6,179.9 L347.9,178.8 L348.2,177.5 L348.6,176.3 L348.9,175 L349.2,173.6 L349.6,172.2 L349.9,170.7 L350.2,169.2 L350.6,167.6 L350.9,166 L351.2,164.4 L351.6,162.7 L351.9,160.9 L352.2,159.2 L352.6,157.4 L352.9,155.6 L353.2,153.7 L353.6,151.8 L353.9,149.9 L354.2,148 L354.6,146 L354.9,144.1 L355.2,142.1 L355.6,140.1 L355.9,138.1 L356.2,136.1 L356.6,134 L356.9,132 L357.2,130 L357.6,128 L357.9,126 L358.2,123.9 L358.5,121.9 L358.9,120 L359.2,118 L359.5,116 L359.9,114.1 L360.2,112.2 L360.5,110.3 L360.9,108.4 L361.2,106.6 L361.5,104.7 L361.9,103 L362.2,101.2 L362.5,99.5 L362.9,97.8 L363.2,96.2 L363.5,94.6 L363.9,93.1 L364.2,91.6 L364.5,90.1 L364.9,88.7 L365.2,87.4 L365.5,86.1 L365.9,84.9 L366.2,83.7 L366.5,82.6 L366.9,81.5 L367.2,80.5 L367.5,79.5 L367.9,78.7 L368.2,77.8 L368.5,77.1 L368.9,76.4 L369.2,75.8 L369.5,75.2 L369.9,74.8 L370.2,74.3 L370.5,74 L370.9,73.7 L371.2,73.5 L371.5,73.4 L371.9,73.3 L372.2,73.3 L372.5,73.4 L372.9,73.5 L373.2,73.7 L373.5,74 L373.9,74.4 L374.2,74.8 L374.5,75.3 L374.9,75.9 L375.2,76.5 L375.5,77.2 L375.9,77.9 L376.2,78.8 L376.5,79.6 L376.9,80.6 L377.2,81.6 L377.5,82.7 L377.9,83.8 L378.2,85 L378.5,86.2 L378.9,87.5 L379.2,88.9 L379.5,90.3 L379.9,91.7 L380.2,93.2 L380.5,94.8 L380.9,96.4 L381.2,98 L381.5,99.7 L381.8,101.4 L382.2,103.2 L382.5,104.9 L382.8,106.8 L383.2,108.6 L383.5,110.5 L383.8,112.4 L384.2,114.3 L384.5,116.2 L384.8,118.2 L385.2,120.2 L385.5,122.2 L385.8,124.2 L386.2,126.2 L386.5,128.2 L386.8,130.2 L387.2,132.2 L387.5,134.3 L387.8,136.3 L388.2,138.3 L388.5,140.3 L388.8,142.3 L389.2,144.3 L389.5,146.2 L389.8,148.2 L390.2,150.1 L390.5,152 L390.8,153.9 L391.2,155.8 L391.5,157.6 L391.8,159.4 L392.2,161.1 L392.5,162.9 L392.8,164.5 L393.2,166.2 L393.5,167.8 L393.8,169.3 L394.2,170.9 L394.5,172.3 L394.8,173.7 L395.2,175.1 L395.5,176.4 L395.8,177.7 L396.2,178.9 L396.5,180 L396.8,181.1 L397.2,182.1 L397.5,183.1 L397.8,184 L398.2,184.9 L398.5,185.6 L398.8,186.3 L399.2,187 L399.5,187.6 L399.8,188.1 L400.2,188.5 L400.5,188.9 L400.8,189.2 L401.2,189.4 L401.5,189.6 L401.8,189.7 L402.2,189.7 L402.5,189.7 L402.8,189.5 L403.2,189.3 L403.5,189.1 L403.8,188.8 L404.2,188.4 L404.5,187.9 L404.8,187.4 L405.1,186.8 L405.5,186.1 L405.8,185.4 L406.1,184.6 L406.5,183.7 L406.8,182.8 L407.1,181.8 L407.5,180.7 L407.8,179.6 L408.1,178.5 L408.5,177.2 L408.8,176 L409.1,174.6 L409.5,173.2 L409.8,171.8 L410.1,170.3 L410.5,168.8 L410.8,167.2 L411.1,165.6 L411.5,163.9 L411.8,162.2 L412.1,160.5 L412.5,158.7 L412.8,156.9 L413.1,155.1 L413.5,153.2 L413.8,151.4 L414.1,149.4 L414.5,147.5 L414.8,145.5 L415.1,143.6 L415.5,141.6 L415.8,139.6 L416.1,137.6 L416.5,135.6 L416.8,133.5 L417.1,131.5 L417.5,129.5 L417.8,127.5 L418.1,125.5 L418.5,123.5 L418.8,121.5 L419.1,119.5 L419.5,117.5 L419.8,115.5 L420.1,113.6 L420.5,111.7 L420.8,109.8 L421.1,107.9 L421.5,106.1 L421.8,104.3 L422.1,102.5 L422.5,100.8 L422.8,99.1 L423.1,97.4 L423.5,95.8 L423.8,94.2 L424.1,92.7 L424.5,91.2 L424.8,89.8 L425.1,88.4 L425.5,87.1 L425.8,85.8 L426.1,84.6 L426.5,83.4 L426.8,82.3 L427.1,81.2 L427.5,80.2 L427.8,79.3 L428.1,78.5 L428.5,77.7 L428.8,76.9 L429.1,76.3 L429.4,75.6 L429.8,75.1 L430.1,74.6 L430.4,74.2 L430.8,73.9 L431.1,73.7 L431.4,73.5 L431.8,73.4 L432.1,73.3 L432.4,73.3 L432.8,73.4 L433.1,73.6 L433.4,73.8 L433.8,74.1 L434.1,74.5 L434.4,74.9 L434.8,75.4 L435.1,76 L435.4,76.6 L435.8,77.4 L436.1,78.1 L436.4,79 L436.8,79.9 L437.1,80.8 L437.4,81.9 L437.8,82.9 L438.1,84.1 L438.4,85.3 L438.8,86.5 L439.1,87.9 L439.4,89.2 L439.8,90.6 L440.1,92.1 L440.4,93.6 L440.8,95.2 L441.1,96.8 L441.4,98.4 L441.8,100.1 L442.1,101.8 L442.4,103.6 L442.8,105.4 L443.1,107.2 L443.4,109.1 L443.8,110.9 L444.1,112.8 L444.4,114.8 L444.8,116.7 L445.1,118.7 L445.4,120.7 L445.8,122.7 L446.1,124.7 L446.4,126.7 L446.8,128.7 L447.1,130.7 L447.4,132.7 L447.8,134.8 L448.1,136.8 L448.4,138.8 L448.8,140.8 L449.1,142.8 L449.4,144.8 L449.8,146.7 L450.1,148.7 L450.4,150.6 L450.8,152.5 L451.1,154.4 L451.4,156.2 L451.8,158 L452.1,159.8 L452.4,161.6 L452.7,163.3 L453.1,164.9 L453.4,166.6 L453.7,168.2 L454.1,169.7 L454.4,171.2 L454.7,172.7 L455.1,174.1 L455.4,175.4 L455.7,176.7 L456.1,178 L456.4,179.2 L456.7,180.3 L457.1,181.4 L457.4,182.4 L457.7,183.3 L458.1,184.2 L458.4,185 L458.7,185.8 L459.1,186.5 L459.4,187.1 L459.7,187.7 L460.1,188.2 L460.4,188.6 L460.7,189 L461.1,189.2 L461.4,189.5 L461.7,189.6 L462.1,189.7 L462.4,189.7 L462.7,189.6 L463.1,189.5 L463.4,189.3 L463.7,189 L464.1,188.7 L464.4,188.3 L464.7,187.8 L465.1,187.2 L465.4,186.6 L465.7,185.9 L466.1,185.2 L466.4,184.4 L466.7,183.5 L467.1,182.5 L467.4,181.5 L467.7,180.5 L468.1,179.4 L468.4,178.2 L468.7,176.9 L469.1,175.6 L469.4,174.3 L469.7,172.9 L470.1,171.5 L470.4,170 L470.7,168.4 L471.1,166.8 L471.4,165.2 L471.7,163.5 L472.1,161.8 L472.4,160.1 L472.7,158.3 L473.1,156.5 L473.4,154.7 L473.7,152.8 L474.1,150.9 L474.4,149 L474.7,147 L475.1,145.1 L475.4,143.1 L475.7,141.1 L476.1,139.1 L476.4,137.1 L476.7,135.1 L477,133.1 L477.4,131 L477.7,129 L478,127 L478.4,125 L478.7,123 L479,121 L479.4,119 L479.7,117" fill="none" stroke="#dc143c" stroke-width="6" stroke-linejoin="round" stroke-linecap="round" />
</g>
<line x1="170.4" y1="323.6" x2="170.4" y2="52.1" stroke="#000" stroke-width="6" stroke-linecap="butt" stroke-dasharray="21.95 9.49"/>
<line x1="348.7" y1="323.6" x2="348.7" y2="52.1" stroke="#000" stroke-width="6" stroke-linecap="butt" stroke-dasharray="21.95 9.49"/>
<line x1="427.9" y1="323.6" x2="427.9" y2="52.1" stroke="#000" stroke-width="6" stroke-linecap="butt" stroke-dasharray="21.95 9.49"/>
<line x1="116.3" y1="337.4" x2="477.3" y2="337.4" stroke="#000" stroke-width="2.7" stroke-linecap="square" />
<line x1="116.3" y1="337.4" x2="116.3" y2="351" stroke="#000" stroke-width="2.7" stroke-linecap="butt" />
<text x="116.3" y="382" font-size="24" font-weight="400" text-anchor="middle" >1.0</text>
<line x1="236.6" y1="337.4" x2="236.6" y2="351" stroke="#000" stroke-width="2.7" stroke-linecap="butt" />
<text x="236.6" y="382" font-size="24" font-weight="400" text-anchor="middle" >1.5</text>
<line x1="357" y1="337.4" x2="357" y2="351" stroke="#000" stroke-width="2.7" stroke-linecap="butt" />
<text x="357" y="382" font-size="24" font-weight="400" text-anchor="middle" >2.0</text>
<line x1="477.3" y1="337.4" x2="477.3" y2="351" stroke="#000" stroke-width="2.7" stroke-linecap="butt" />
<text x="477.3" y="382" font-size="24" font-weight="400" text-anchor="middle" >2.5</text>
<text x="296.3" y="423.1" font-size="28" font-weight="400" text-anchor="middle" >Time (s)</text>
<g clip-path="url(#clipb)">
<path d="M547.1,124.9 L547.4,125.4 L547.8,125.5 L548.1,125.3 L548.4,124.7 L548.8,123.8 L549.1,122.6 L549.4,121.3 L549.8,120 L550.1,118.8 L550.4,117.7 L550.8,117 L551.1,116.7 L551.4,116.9 L551.8,117.5 L552.1,118.5 L552.4,119.8 L552.8,121.4 L553.1,123 L553.4,124.6 L553.8,125.9 L554.1,126.9 L554.4,127.4 L554.7,127.3 L555.1,126.8 L555.4,125.7 L555.7,124.2 L556.1,122.5 L556.4,120.6 L556.7,118.7 L557.1,117.1 L557.4,115.9 L557.7,115.2 L558.1,115.1 L558.4,115.5 L558.7,116.6 L559.1,118.1 L559.4,120 L559.7,122 L560.1,124.1 L560.4,125.9 L560.7,127.4 L561.1,128.3 L561.4,128.7 L561.7,128.3 L562.1,127.4 L562.4,125.9 L562.7,124 L563.1,121.9 L563.4,119.7 L563.7,117.7 L564.1,116.1 L564.4,114.9 L564.7,114.4 L565.1,114.6 L565.4,115.4 L565.7,116.7 L566.1,118.5 L566.4,120.6 L566.7,122.8 L567.1,124.8 L567.4,126.6 L567.7,127.8 L568.1,128.5 L568.4,128.5 L568.7,127.9 L569.1,126.8 L569.4,125.1 L569.7,123.2 L570.1,121.1 L570.4,119.2 L570.7,117.4 L571.1,116.1 L571.4,115.3 L571.7,115.1 L572.1,115.5 L572.4,116.5 L572.7,117.9 L573.1,119.6 L573.4,121.4 L573.7,123.2 L574.1,124.8 L574.4,126.1 L574.7,126.9 L575.1,127.3 L575.4,127.1 L575.7,126.4 L576.1,125.3 L576.4,123.9 L576.7,122.3 L577.1,120.7 L577.4,119.3 L577.7,118.1 L578,117.3 L578.4,116.9 L578.7,117 L579,117.4 L579.4,118.3 L579.7,119.4 L580,120.6 L580.4,121.9 L580.7,123.1 L581,124.1 L581.4,124.9 L581.7,125.3 L582,125.3 L582.4,125 L582.7,124.5 L583,123.7 L583.4,122.7 L583.7,121.7 L584,120.7 L584.4,119.9 L584.7,119.3 L585,118.9 L585.4,118.8 L585.7,118.9 L586,119.3 L586.4,119.8 L586.7,120.5 L587,121.3 L587.4,122 L587.7,122.7 L588,123.2 L588.4,123.6 L588.7,123.7 L589,123.7 L589.4,123.5 L589.7,123.1 L590,122.6 L590.4,122 L590.7,121.5 L591,120.9 L591.4,120.5 L591.7,120.1 L592,119.9 L592.4,119.9 L592.7,120 L593,120.2 L593.4,120.6 L593.7,121.1 L594,121.6 L594.4,122.1 L594.7,122.5 L595,122.9 L595.4,123.1 L595.7,123.3 L596,123.2 L596.4,123.1 L596.7,122.8 L597,122.3 L597.4,121.8 L597.7,121.3 L598,120.7 L598.4,120.3 L598.7,119.9 L599,119.7 L599.4,119.6 L599.7,119.8 L600,120.1 L600.4,120.5 L600.7,121.1 L601,121.8 L601.4,122.5 L601.7,123.1 L602,123.6 L602.3,124 L602.7,124.2 L603,124.1 L603.3,123.8 L603.7,123.3 L604,122.5 L604.3,121.7 L604.7,120.7 L605,119.9 L605.3,119.1 L605.7,118.5 L606,118.2 L606.3,118.2 L606.7,118.5 L607,119.2 L607.3,120 L607.7,121.1 L608,122.3 L608.3,123.5 L608.7,124.5 L609,125.4 L609.3,125.9 L609.7,126 L610,125.7 L610.3,125 L610.7,124 L611,122.7 L611.3,121.2 L611.7,119.7 L612,118.3 L612.3,117.2 L612.7,116.5 L613,116.2 L613.3,116.4 L613.7,117.2 L614,118.3 L614.3,119.8 L614.7,121.5 L615,123.3 L615.3,124.9 L615.7,126.3 L616,127.3 L616.3,127.8 L616.7,127.7 L617,127 L617.3,125.9 L617.7,124.2 L618,122.4 L618.3,120.4 L618.7,118.5 L619,116.8 L619.3,115.6 L619.7,114.9 L620,114.8 L620.3,115.3 L620.7,116.5 L621,118.1 L621.3,120.1 L621.7,122.2 L622,124.3 L622.3,126.2 L622.7,127.6 L623,128.5 L623.3,128.8 L623.7,128.4 L624,127.3 L624.3,125.8 L624.7,123.8 L625,121.7 L625.3,119.5 L625.6,117.6 L626,116 L626.3,114.9 L626.6,114.5 L627,114.7 L627.3,115.5 L627.6,116.9 L628,118.8 L628.3,120.8 L628.6,122.9 L629,124.9 L629.3,126.5 L629.6,127.7 L630,128.3 L630.3,128.3 L630.6,127.6 L631,126.5 L631.3,124.8 L631.6,123 L632,121 L632.3,119.1 L632.6,117.5 L633,116.3 L633.3,115.7 L633.6,115.5 L634,116 L634.3,116.9 L634.6,118.2 L635,119.8 L635.3,121.6 L635.6,123.2 L636,124.7 L636.3,125.8 L636.6,126.6 L637,126.8 L637.3,126.6 L637.6,125.9 L638,124.8 L638.3,123.5 L638.6,122.1 L639,120.7 L639.3,119.4 L639.6,118.4 L640,117.7 L640.3,117.4 L640.6,117.5 L641,117.9 L641.3,118.7 L641.6,119.7 L642,120.8 L642.3,122 L642.6,123 L643,123.9 L643.3,124.5 L643.6,124.8 L644,124.8 L644.3,124.6 L644.6,124 L645,123.3 L645.3,122.5 L645.6,121.6 L646,120.8 L646.3,120.1 L646.6,119.5 L647,119.2 L647.3,119.1 L647.6,119.3 L648,119.6 L648.3,120.1 L648.6,120.7 L648.9,121.4 L649.3,122 L649.6,122.6 L649.9,123 L650.3,123.4 L650.6,123.5 L650.9,123.5 L651.3,123.3 L651.6,122.9 L651.9,122.5 L652.3,122 L652.6,121.4 L652.9,120.9 L653.3,120.5 L653.6,120.2 L653.9,120 L654.3,119.9 L654.6,120 L654.9,120.3 L655.3,120.7 L655.6,121.1 L655.9,121.6 L656.3,122.1 L656.6,122.6 L656.9,123 L657.3,123.2 L657.6,123.4 L657.9,123.3 L658.3,123.2 L658.6,122.8 L658.9,122.4 L659.3,121.8 L659.6,121.2 L659.9,120.6 L660.3,120.1 L660.6,119.7 L660.9,119.4 L661.3,119.4 L661.6,119.5 L661.9,119.9 L662.3,120.4 L662.6,121.1 L662.9,121.9 L663.3,122.7 L663.6,123.4 L663.9,124 L664.3,124.4 L664.6,124.6 L664.9,124.5 L665.3,124.1 L665.6,123.4 L665.9,122.6 L666.3,121.6 L666.6,120.5 L666.9,119.5 L667.3,118.7 L667.6,118 L667.9,117.7 L668.3,117.8 L668.6,118.2 L668.9,118.9 L669.3,119.9 L669.6,121.2 L669.9,122.5 L670.3,123.8 L670.6,125 L670.9,125.9 L671.3,126.4 L671.6,126.5 L671.9,126.1 L672.3,125.3 L672.6,124.1 L672.9,122.6 L673.2,121 L673.6,119.4 L673.9,117.9 L674.2,116.8 L674.6,116 L674.9,115.8 L675.2,116.1 L675.6,116.9 L675.9,118.2 L676.2,119.8 L676.6,121.6 L676.9,123.5 L677.2,125.3 L677.6,126.7 L677.9,127.7 L678.2,128.2 L678.6,128 L678.9,127.2 L679.2,125.9 L679.6,124.2 L679.9,122.2 L680.2,120.2 L680.6,118.2 L680.9,116.5 L681.2,115.3 L681.6,114.6 L681.9,114.6 L682.2,115.3 L682.6,116.5 L682.9,118.2 L683.2,120.2 L683.6,122.4 L683.9,124.5 L684.2,126.3 L684.6,127.7 L684.9,128.6 L685.2,128.8 L685.6,128.3 L685.9,127.2 L686.2,125.6 L686.6,123.7 L686.9,121.5 L687.2,119.4 L687.6,117.5 L687.9,116 L688.2,115 L688.6,114.6 L688.9,114.9 L689.2,115.8 L689.6,117.2 L689.9,119 L690.2,121 L690.6,123 L690.9,124.9 L691.2,126.5 L691.6,127.5 L691.9,128 L692.2,127.9 L692.6,127.3 L692.9,126.1 L693.2,124.5 L693.6,122.8 L693.9,120.9 L694.2,119.2 L694.6,117.7 L694.9,116.6 L695.2,116 L695.6,116 L695.9,116.4 L696.2,117.3 L696.5,118.6 L696.9,120.1 L697.2,121.7 L697.5,123.2 L697.9,124.5 L698.2,125.5 L698.5,126.1 L698.9,126.3 L699.2,126.1 L699.5,125.4 L699.9,124.4 L700.2,123.2 L700.5,122 L700.9,120.7 L701.2,119.6 L701.5,118.7 L701.9,118.1 L702.2,117.9 L702.5,118 L702.9,118.4 L703.2,119.1 L703.5,120 L703.9,121 L704.2,122 L704.5,122.9 L704.9,123.6 L705.2,124.2 L705.5,124.4 L705.9,124.4 L706.2,124.1 L706.5,123.7 L706.9,123 L707.2,122.3 L707.5,121.6 L707.9,120.8 L708.2,120.2 L708.5,119.8 L708.9,119.5 L709.2,119.5 L709.5,119.6 L709.9,119.9 L710.2,120.3 L710.5,120.9 L710.9,121.4 L711.2,122 L711.5,122.5 L711.9,122.9 L712.2,123.2 L712.5,123.3 L712.9,123.3 L713.2,123.1 L713.5,122.8 L713.9,122.4 L714.2,121.9 L714.5,121.4 L714.9,120.9 L715.2,120.5 L715.5,120.2 L715.9,120 L716.2,119.9 L716.5,120 L716.9,120.3 L717.2,120.6 L717.5,121.1 L717.9,121.6 L718.2,122.2 L718.5,122.7 L718.9,123.1 L719.2,123.4 L719.5,123.6 L719.9,123.5 L720.2,123.3 L720.5,122.9 L720.8,122.4 L721.2,121.8 L721.5,121.1 L721.8,120.4 L722.2,119.8 L722.5,119.4 L722.8,119.1 L723.2,119 L723.5,119.2 L723.8,119.6 L724.2,120.3 L724.5,121.1 L724.8,122 L725.2,122.9 L725.5,123.7 L725.8,124.4 L726.2,124.9 L726.5,125 L726.8,124.9 L727.2,124.4 L727.5,123.6 L727.8,122.6 L728.2,121.5 L728.5,120.3 L728.8,119.2 L729.2,118.2 L729.5,117.5 L729.8,117.2 L730.2,117.3 L730.5,117.8 L730.8,118.7 L731.2,119.8 L731.5,121.2 L731.8,122.7 L732.2,124.2 L732.5,125.4 L732.8,126.4 L733.2,126.9 L733.5,126.9 L733.8,126.5 L734.2,125.5 L734.5,124.2 L734.8,122.6 L735.2,120.8 L735.5,119.1 L735.8,117.5 L736.2,116.3 L736.5,115.6 L736.8,115.4 L737.2,115.8 L737.5,116.7 L737.8,118.1 L738.2,119.8 L738.5,121.8 L738.8,123.8 L739.2,125.6 L739.5,127.1 L739.8,128 L740.2,128.4 L740.5,128.2 L740.8,127.4 L741.2,126 L741.5,124.2 L741.8,122.1 L742.2,119.9 L742.5,118 L742.8,116.3 L743.2,115.1 L743.5,114.5 L743.8,114.5 L744.1,115.3 L744.5,116.6 L744.8,118.3 L745.1,120.4 L745.5,122.6 L745.8,124.7 L746.1,126.5 L746.5,127.8 L746.8,128.6 L747.1,128.7 L747.5,128.2 L747.8,127 L748.1,125.4 L748.5,123.5 L748.8,121.4 L749.1,119.3 L749.5,117.5 L749.8,116 L750.1,115.1 L750.5,114.8 L750.8,115.2 L751.1,116.1 L751.5,117.5 L751.8,119.2 L752.1,121.2 L752.5,123.1 L752.8,124.9 L753.1,126.3 L753.5,127.3 L753.8,127.7 L754.1,127.5 L754.5,126.9 L754.8,125.7 L755.1,124.2 L755.5,122.5 L755.8,120.8 L756.1,119.2 L756.5,117.9 L756.8,116.9 L757.1,116.5 L757.5,116.4 L757.8,116.9 L758.1,117.8 L758.5,119 L758.8,120.3 L759.1,121.8 L759.5,123.2 L759.8,124.3 L760.1,125.2 L760.5,125.7 L760.8,125.8 L761.1,125.6 L761.5,124.9 L761.8,124 L762.1,123 L762.5,121.8 L762.8,120.7 L763.1,119.7 L763.5,119 L763.8,118.5 L764.1,118.3 L764.5,118.5 L764.8,118.9 L765.1,119.5 L765.5,120.3 L765.8,121.1 L766.1,122 L766.5,122.8 L766.8,123.4 L767.1,123.8 L767.4,124 L767.8,124 L768.1,123.8 L768.4,123.4 L768.8,122.8 L769.1,122.2 L769.4,121.5 L769.8,120.9 L770.1,120.4 L770.4,120 L770.8,119.8 L771.1,119.7 L771.4,119.8 L771.8,120.1 L772.1,120.5 L772.4,121 L772.8,121.5 L773.1,122 L773.4,122.5 L773.8,122.9 L774.1,123.1 L774.4,123.3 L774.8,123.2 L775.1,123.1 L775.4,122.7 L775.8,122.3 L776.1,121.9 L776.4,121.4 L776.8,120.9 L777.1,120.4 L777.4,120.1 L777.8,119.9 L778.1,119.8 L778.4,119.9 L778.8,120.2 L779.1,120.6 L779.4,121.1 L779.8,121.7 L780.1,122.3 L780.4,122.9 L780.8,123.3 L781.1,123.7 L781.4,123.8 L781.8,123.8 L782.1,123.5 L782.4,123.1 L782.8,122.5 L783.1,121.7 L783.4,120.9 L783.8,120.2 L784.1,119.5 L784.4,119 L784.8,118.7 L785.1,118.6 L785.4,118.9 L785.8,119.4 L786.1,120.2 L786.4,121.1 L786.8,122.1 L787.1,123.2 L787.4,124.1 L787.8,124.9 L788.1,125.4 L788.4,125.5 L788.8,125.3 L789.1,124.7 L789.4,123.8 L789.8,122.7 L790.1,121.4 L790.4,120 L790.8,118.8 L791.1,117.7 L791.4,117 L791.7,116.7 L792.1,116.9 L792.4,117.4 L792.7,118.4 L793.1,119.8 L793.4,121.3 L793.7,123 L794.1,124.5 L794.4,125.9 L794.7,126.8 L795.1,127.4 L795.4,127.3 L795.7,126.8 L796.1,125.7 L796.4,124.3 L796.7,122.5 L797.1,120.6 L797.4,118.8 L797.7,117.2 L798.1,115.9 L798.4,115.2 L798.7,115 L799.1,115.5 L799.4,116.5 L799.7,118.1 L800.1,119.9 L800.4,122 L800.7,124 L801.1,125.9 L801.4,127.4 L801.7,128.3 L802.1,128.7 L802.4,128.3 L802.7,127.4 L803.1,125.9 L803.4,124 L803.7,121.9 L804.1,119.8 L804.4,117.8 L804.7,116.1 L805.1,115 L805.4,114.4 L805.7,114.6 L806.1,115.3 L806.4,116.7 L806.7,118.5 L807.1,120.6 L807.4,122.7 L807.7,124.8 L808.1,126.5 L808.4,127.8 L808.7,128.5 L809.1,128.5 L809.4,128 L809.7,126.8 L810.1,125.2 L810.4,123.2 L810.7,121.2 L811.1,119.2 L811.4,117.5 L811.7,116.2 L812.1,115.4 L812.4,115.1 L812.7,115.5 L813.1,116.4 L813.4,117.8 L813.7,119.5 L814.1,121.4 L814.4,123.2 L814.7,124.8 L815,126.1 L815.4,126.9 L815.7,127.3 L816,127.1 L816.4,126.4 L816.7,125.3 L817,123.9 L817.4,122.3 L817.7,120.8 L818,119.3 L818.4,118.1 L818.7,117.3 L819,116.9 L819.4,116.9 L819.7,117.4 L820,118.2 L820.4,119.3 L820.7,120.6 L821,121.9 L821.4,123.1 L821.7,124.1 L822,124.8 L822.4,125.3 L822.7,125.3 L823,125.1 L823.4,124.5 L823.7,123.7 L824,122.7 L824.4,121.7 L824.7,120.8 L825,119.9 L825.4,119.3 L825.7,118.9 L826,118.8 L826.4,118.9 L826.7,119.3 L827,119.8 L827.4,120.5 L827.7,121.3 L828,122 L828.4,122.7 L828.7,123.2 L829,123.6 L829.4,123.7 L829.7,123.7 L830,123.5 L830.4,123.1 L830.7,122.6 L831,122.1 L831.4,121.5 L831.7,120.9 L832,120.5 L832.4,120.1 L832.7,119.9 L833,119.9 L833.4,120 L833.7,120.2 L834,120.6 L834.4,121 L834.7,121.5 L835,122 L835.4,122.5 L835.7,122.9 L836,123.1 L836.4,123.3 L836.7,123.2 L837,123.1 L837.4,122.8 L837.7,122.3 L838,121.8 L838.3,121.3 L838.7,120.8 L839,120.3 L839.3,119.9 L839.7,119.7 L840,119.6 L840.3,119.7 L840.7,120 L841,120.5 L841.3,121.1 L841.7,121.8 L842,122.4 L842.3,123.1 L842.7,123.6 L843,124 L843.3,124.2 L843.7,124.1 L844,123.8 L844.3,123.3 L844.7,122.5 L845,121.7 L845.3,120.8 L845.7,119.9 L846,119.1 L846.3,118.5 L846.7,118.2 L847,118.2 L847.3,118.5 L847.7,119.1 L848,120 L848.3,121.1 L848.7,122.3 L849,123.5 L849.3,124.5 L849.7,125.4 L850,125.9 L850.3,126 L850.7,125.7 L851,125 L851.3,124 L851.7,122.7 L852,121.2 L852.3,119.7 L852.7,118.4 L853,117.3 L853.3,116.5 L853.7,116.2 L854,116.4 L854.3,117.1 L854.7,118.3 L855,119.8 L855.3,121.5 L855.7,123.2 L856,124.9 L856.3,126.3 L856.7,127.3 L857,127.8 L857.3,127.7 L857.7,127.1 L858,125.9 L858.3,124.3 L858.7,122.4 L859,120.4 L859.3,118.5 L859.7,116.8 L860,115.6 L860.3,114.9 L860.7,114.8 L861,115.3 L861.3,116.5 L861.7,118.1 L862,120 L862.3,122.2 L862.6,124.3 L863,126.1 L863.3,127.6 L863.6,128.5 L864,128.8 L864.3,128.4 L864.6,127.4 L865,125.8 L865.3,123.9 L865.6,121.7 L866,119.6 L866.3,117.6 L866.6,116 L867,114.9 L867.3,114.5 L867.6,114.7 L868,115.5 L868.3,116.9 L868.6,118.7 L869,120.8 L869.3,122.9 L869.6,124.8 L870,126.5 L870.3,127.7 L870.6,128.3 L871,128.3 L871.3,127.7 L871.6,126.5 L872,124.9 L872.3,123 L872.6,121.1 L873,119.2 L873.3,117.6 L873.6,116.4 L874,115.7 L874.3,115.5 L874.6,115.9 L875,116.9 L875.3,118.2 L875.6,119.8 L876,121.5 L876.3,123.2 L876.6,124.7 L877,125.8 L877.3,126.6 L877.6,126.8 L878,126.6 L878.3,125.9 L878.6,124.9 L879,123.6 L879.3,122.2 L879.6,120.7 L880,119.4 L880.3,118.4 L880.6,117.7 L881,117.4 L881.3,117.5 L881.6,117.9 L882,118.7 L882.3,119.7 L882.6,120.8 L883,121.9 L883.3,123 L883.6,123.9 L884,124.5 L884.3,124.8 L884.6,124.8 L885,124.6 L885.3,124.1 L885.6,123.3 L885.9,122.5 L886.3,121.6 L886.6,120.8 L886.9,120.1 L887.3,119.6 L887.6,119.2 L887.9,119.1 L888.3,119.3 L888.6,119.6 L888.9,120.1 L889.3,120.7 L889.6,121.4 L889.9,122 L890.3,122.6 L890.6,123 L890.9,123.3 L891.3,123.5 L891.6,123.5 L891.9,123.3 L892.3,122.9 L892.6,122.5 L892.9,122 L893.3,121.4 L893.6,120.9 L893.9,120.5 L894.3,120.2 L894.6,120 L894.9,119.9 L895.3,120 L895.6,120.3 L895.9,120.6 L896.3,121.1 L896.6,121.6 L896.9,122.1 L897.3,122.6 L897.6,123 L897.9,123.2 L898.3,123.4 L898.6,123.3 L898.9,123.2 L899.3,122.8 L899.6,122.4 L899.9,121.8 L900.3,121.2 L900.6,120.6 L900.9,120.1 L901.3,119.7 L901.6,119.4 L901.9,119.4 L902.3,119.5 L902.6,119.9 L902.9,120.4 L903.3,121.1 L903.6,121.8 L903.9,122.6 L904.3,123.4 L904.6,124 L904.9,124.4 L905.3,124.6 L905.6,124.5 L905.9,124.1 L906.3,123.5 L906.6,122.6 L906.9,121.6 L907.3,120.6 L907.6,119.6 L907.9,118.7 L908.3,118.1 L908.6,117.7 L908.9,117.8 L909.3,118.1 L909.6,118.9 L909.9,119.9 L910.2,121.1 L910.6,122.5 L910.9,123.8 L911.2,125 L911.6,125.8 L911.9,126.4 L912.2,126.5 L912.6,126.1 L912.9,125.3" fill="none" stroke="#94a0ac" stroke-width="4.6" stroke-linejoin="round" stroke-linecap="round" />
<path d="M547.1,118.8 L547.4,118.7 L547.8,118.6 L548.1,118.5 L548.4,118.4 L548.8,118.3 L549.1,118.1 L549.4,118 L549.8,117.9 L550.1,117.8 L550.4,117.7 L550.8,117.6 L551.1,117.5 L551.4,117.4 L551.8,117.2 L552.1,117.1 L552.4,117 L552.8,116.9 L553.1,116.8 L553.4,116.7 L553.8,116.6 L554.1,116.5 L554.4,116.4 L554.7,116.3 L555.1,116.2 L555.4,116.1 L555.7,116 L556.1,115.9 L556.4,115.9 L556.7,115.8 L557.1,115.7 L557.4,115.6 L557.7,115.5 L558.1,115.5 L558.4,115.4 L558.7,115.3 L559.1,115.3 L559.4,115.2 L559.7,115.1 L560.1,115.1 L560.4,115 L560.7,115 L561.1,115 L561.4,114.9 L561.7,114.9 L562.1,114.9 L562.4,114.8 L562.7,114.8 L563.1,114.8 L563.4,114.8 L563.7,114.8 L564.1,114.8 L564.4,114.8 L564.7,114.8 L565.1,114.8 L565.4,114.8 L565.7,114.8 L566.1,114.8 L566.4,114.8 L566.7,114.8 L567.1,114.9 L567.4,114.9 L567.7,114.9 L568.1,115 L568.4,115 L568.7,115.1 L569.1,115.1 L569.4,115.2 L569.7,115.2 L570.1,115.3 L570.4,115.3 L570.7,115.4 L571.1,115.5 L571.4,115.5 L571.7,115.6 L572.1,115.7 L572.4,115.8 L572.7,115.9 L573.1,116 L573.4,116 L573.7,116.1 L574.1,116.2 L574.4,116.3 L574.7,116.4 L575.1,116.5 L575.4,116.6 L575.7,116.7 L576.1,116.8 L576.4,116.9 L576.7,117 L577.1,117.2 L577.4,117.3 L577.7,117.4 L578,117.5 L578.4,117.6 L578.7,117.7 L579,117.8 L579.4,117.9 L579.7,118 L580,118.2 L580.4,118.3 L580.7,118.4 L581,118.5 L581.4,118.6 L581.7,118.7 L582,118.8 L582.4,118.9 L582.7,119 L583,119.1 L583.4,119.3 L583.7,119.4 L584,119.5 L584.4,119.6 L584.7,119.7 L585,119.8 L585.4,119.8 L585.7,119.9 L586,120 L586.4,120.1 L586.7,120.2 L587,120.3 L587.4,120.4 L587.7,120.4 L588,120.5 L588.4,120.6 L588.7,120.6 L589,120.7 L589.4,120.8 L589.7,120.8 L590,120.9 L590.4,120.9 L590.7,121 L591,121 L591.4,121.1 L591.7,121.1 L592,121.1 L592.4,121.2 L592.7,121.2 L593,121.2 L593.4,121.2 L593.7,121.2 L594,121.2 L594.4,121.2 L594.7,121.2 L595,121.2 L595.4,121.2 L595.7,121.2 L596,121.2 L596.4,121.2 L596.7,121.2 L597,121.1 L597.4,121.1 L597.7,121.1 L598,121 L598.4,121 L598.7,121 L599,120.9 L599.4,120.9 L599.7,120.8 L600,120.7 L600.4,120.7 L600.7,120.6 L601,120.6 L601.4,120.5 L601.7,120.4 L602,120.3 L602.3,120.2 L602.7,120.2 L603,120.1 L603.3,120 L603.7,119.9 L604,119.8 L604.3,119.7 L604.7,119.6 L605,119.5 L605.3,119.4 L605.7,119.3 L606,119.2 L606.3,119.1 L606.7,119 L607,118.9 L607.3,118.8 L607.7,118.7 L608,118.6 L608.3,118.4 L608.7,118.3 L609,118.2 L609.3,118.1 L609.7,118 L610,117.9 L610.3,117.8 L610.7,117.7 L611,117.5 L611.3,117.4 L611.7,117.3 L612,117.2 L612.3,117.1 L612.7,117 L613,116.9 L613.3,116.8 L613.7,116.7 L614,116.6 L614.3,116.5 L614.7,116.4 L615,116.3 L615.3,116.2 L615.7,116.1 L616,116 L616.3,115.9 L616.7,115.8 L617,115.7 L617.3,115.7 L617.7,115.6 L618,115.5 L618.3,115.4 L618.7,115.4 L619,115.3 L619.3,115.3 L619.7,115.2 L620,115.1 L620.3,115.1 L620.7,115 L621,115 L621.3,115 L621.7,114.9 L622,114.9 L622.3,114.9 L622.7,114.8 L623,114.8 L623.3,114.8 L623.7,114.8 L624,114.8 L624.3,114.8 L624.7,114.8 L625,114.8 L625.3,114.8 L625.6,114.8 L626,114.8 L626.3,114.8 L626.6,114.8 L627,114.8 L627.3,114.9 L627.6,114.9 L628,114.9 L628.3,115 L628.6,115 L629,115.1 L629.3,115.1 L629.6,115.2 L630,115.2 L630.3,115.3 L630.6,115.4 L631,115.4 L631.3,115.5 L631.6,115.6 L632,115.6 L632.3,115.7 L632.6,115.8 L633,115.9 L633.3,116 L633.6,116.1 L634,116.2 L634.3,116.2 L634.6,116.3 L635,116.4 L635.3,116.5 L635.6,116.6 L636,116.7 L636.3,116.9 L636.6,117 L637,117.1 L637.3,117.2 L637.6,117.3 L638,117.4 L638.3,117.5 L638.6,117.6 L639,117.7 L639.3,117.8 L639.6,118 L640,118.1 L640.3,118.2 L640.6,118.3 L641,118.4 L641.3,118.5 L641.6,118.6 L642,118.7 L642.3,118.9 L642.6,119 L643,119.1 L643.3,119.2 L643.6,119.3 L644,119.4 L644.3,119.5 L644.6,119.6 L645,119.7 L645.3,119.8 L645.6,119.9 L646,120 L646.3,120 L646.6,120.1 L647,120.2 L647.3,120.3 L647.6,120.4 L648,120.5 L648.3,120.5 L648.6,120.6 L648.9,120.7 L649.3,120.7 L649.6,120.8 L649.9,120.8 L650.3,120.9 L650.6,120.9 L650.9,121 L651.3,121 L651.6,121.1 L651.9,121.1 L652.3,121.1 L652.6,121.2 L652.9,121.2 L653.3,121.2 L653.6,121.2 L653.9,121.2 L654.3,121.2 L654.6,121.2 L654.9,121.2 L655.3,121.2 L655.6,121.2 L655.9,121.2 L656.3,121.2 L656.6,121.2 L656.9,121.2 L657.3,121.1 L657.6,121.1 L657.9,121.1 L658.3,121 L658.6,121 L658.9,121 L659.3,120.9 L659.6,120.8 L659.9,120.8 L660.3,120.7 L660.6,120.7 L660.9,120.6 L661.3,120.5 L661.6,120.5 L661.9,120.4 L662.3,120.3 L662.6,120.2 L662.9,120.1 L663.3,120.1 L663.6,120 L663.9,119.9 L664.3,119.8 L664.6,119.7 L664.9,119.6 L665.3,119.5 L665.6,119.4 L665.9,119.3 L666.3,119.2 L666.6,119.1 L666.9,119 L667.3,118.9 L667.6,118.8 L667.9,118.6 L668.3,118.5 L668.6,118.4 L668.9,118.3 L669.3,118.2 L669.6,118.1 L669.9,118 L670.3,117.9 L670.6,117.7 L670.9,117.6 L671.3,117.5 L671.6,117.4 L671.9,117.3 L672.3,117.2 L672.6,117.1 L672.9,117 L673.2,116.9 L673.6,116.8 L673.9,116.7 L674.2,116.6 L674.6,116.5 L674.9,116.4 L675.2,116.3 L675.6,116.2 L675.9,116.1 L676.2,116 L676.6,115.9 L676.9,115.8 L677.2,115.7 L677.6,115.6 L677.9,115.6 L678.2,115.5 L678.6,115.4 L678.9,115.4 L679.2,115.3 L679.6,115.2 L679.9,115.2 L680.2,115.1 L680.6,115.1 L680.9,115 L681.2,115 L681.6,114.9 L681.9,114.9 L682.2,114.9 L682.6,114.8 L682.9,114.8 L683.2,114.8 L683.6,114.8 L683.9,114.8 L684.2,114.8 L684.6,114.8 L684.9,114.8 L685.2,114.8 L685.6,114.8 L685.9,114.8 L686.2,114.8 L686.6,114.8 L686.9,114.8 L687.2,114.8 L687.6,114.9 L687.9,114.9 L688.2,114.9 L688.6,115 L688.9,115 L689.2,115.1 L689.6,115.1 L689.9,115.2 L690.2,115.2 L690.6,115.3 L690.9,115.4 L691.2,115.4 L691.6,115.5 L691.9,115.6 L692.2,115.7 L692.6,115.7 L692.9,115.8 L693.2,115.9 L693.6,116 L693.9,116.1 L694.2,116.2 L694.6,116.3 L694.9,116.4 L695.2,116.5 L695.6,116.6 L695.9,116.7 L696.2,116.8 L696.5,116.9 L696.9,117 L697.2,117.1 L697.5,117.2 L697.9,117.3 L698.2,117.4 L698.5,117.5 L698.9,117.6 L699.2,117.8 L699.5,117.9 L699.9,118 L700.2,118.1 L700.5,118.2 L700.9,118.3 L701.2,118.4 L701.5,118.5 L701.9,118.7 L702.2,118.8 L702.5,118.9 L702.9,119 L703.2,119.1 L703.5,119.2 L703.9,119.3 L704.2,119.4 L704.5,119.5 L704.9,119.6 L705.2,119.7 L705.5,119.8 L705.9,119.9 L706.2,120 L706.5,120.1 L706.9,120.2 L707.2,120.2 L707.5,120.3 L707.9,120.4 L708.2,120.5 L708.5,120.5 L708.9,120.6 L709.2,120.7 L709.5,120.7 L709.9,120.8 L710.2,120.9 L710.5,120.9 L710.9,121 L711.2,121 L711.5,121 L711.9,121.1 L712.2,121.1 L712.5,121.1 L712.9,121.2 L713.2,121.2 L713.5,121.2 L713.9,121.2 L714.2,121.2 L714.5,121.2 L714.9,121.2 L715.2,121.2 L715.5,121.2 L715.9,121.2 L716.2,121.2 L716.5,121.2 L716.9,121.2 L717.2,121.2 L717.5,121.1 L717.9,121.1 L718.2,121.1 L718.5,121 L718.9,121 L719.2,120.9 L719.5,120.9 L719.9,120.8 L720.2,120.8 L720.5,120.7 L720.8,120.7 L721.2,120.6 L721.5,120.5 L721.8,120.4 L722.2,120.4 L722.5,120.3 L722.8,120.2 L723.2,120.1 L723.5,120 L723.8,119.9 L724.2,119.9 L724.5,119.8 L724.8,119.7 L725.2,119.6 L725.5,119.5 L725.8,119.4 L726.2,119.3 L726.5,119.2 L726.8,119.1 L727.2,118.9 L727.5,118.8 L727.8,118.7 L728.2,118.6 L728.5,118.5 L728.8,118.4 L729.2,118.3 L729.5,118.2 L729.8,118.1 L730.2,117.9 L730.5,117.8 L730.8,117.7 L731.2,117.6 L731.5,117.5 L731.8,117.4 L732.2,117.3 L732.5,117.2 L732.8,117.1 L733.2,116.9 L733.5,116.8 L733.8,116.7 L734.2,116.6 L734.5,116.5 L734.8,116.4 L735.2,116.3 L735.5,116.2 L735.8,116.1 L736.2,116.1 L736.5,116 L736.8,115.9 L737.2,115.8 L737.5,115.7 L737.8,115.6 L738.2,115.6 L738.5,115.5 L738.8,115.4 L739.2,115.3 L739.5,115.3 L739.8,115.2 L740.2,115.2 L740.5,115.1 L740.8,115.1 L741.2,115 L741.5,115 L741.8,114.9 L742.2,114.9 L742.5,114.9 L742.8,114.8 L743.2,114.8 L743.5,114.8 L743.8,114.8 L744.1,114.8 L744.5,114.8 L744.8,114.8 L745.1,114.8 L745.5,114.8 L745.8,114.8 L746.1,114.8 L746.5,114.8 L746.8,114.8 L747.1,114.8 L747.5,114.9 L747.8,114.9 L748.1,114.9 L748.5,115 L748.8,115 L749.1,115 L749.5,115.1 L749.8,115.1 L750.1,115.2 L750.5,115.3 L750.8,115.3 L751.1,115.4 L751.5,115.5 L751.8,115.5 L752.1,115.6 L752.5,115.7 L752.8,115.8 L753.1,115.8 L753.5,115.9 L753.8,116 L754.1,116.1 L754.5,116.2 L754.8,116.3 L755.1,116.4 L755.5,116.5 L755.8,116.6 L756.1,116.7 L756.5,116.8 L756.8,116.9 L757.1,117 L757.5,117.1 L757.8,117.2 L758.1,117.3 L758.5,117.5 L758.8,117.6 L759.1,117.7 L759.5,117.8 L759.8,117.9 L760.1,118 L760.5,118.1 L760.8,118.2 L761.1,118.4 L761.5,118.5 L761.8,118.6 L762.1,118.7 L762.5,118.8 L762.8,118.9 L763.1,119 L763.5,119.1 L763.8,119.2 L764.1,119.3 L764.5,119.4 L764.8,119.5 L765.1,119.6 L765.5,119.7 L765.8,119.8 L766.1,119.9 L766.5,120 L766.8,120.1 L767.1,120.2 L767.4,120.3 L767.8,120.3 L768.1,120.4 L768.4,120.5 L768.8,120.6 L769.1,120.6 L769.4,120.7 L769.8,120.8 L770.1,120.8 L770.4,120.9 L770.8,120.9 L771.1,121 L771.4,121 L771.8,121.1 L772.1,121.1 L772.4,121.1 L772.8,121.2 L773.1,121.2 L773.4,121.2 L773.8,121.2 L774.1,121.2 L774.4,121.2 L774.8,121.2 L775.1,121.2 L775.4,121.2 L775.8,121.2 L776.1,121.2 L776.4,121.2 L776.8,121.2 L777.1,121.2 L777.4,121.2 L777.8,121.1 L778.1,121.1 L778.4,121.1 L778.8,121 L779.1,121 L779.4,120.9 L779.8,120.9 L780.1,120.8 L780.4,120.8 L780.8,120.7 L781.1,120.6 L781.4,120.6 L781.8,120.5 L782.1,120.4 L782.4,120.4 L782.8,120.3 L783.1,120.2 L783.4,120.1 L783.8,120 L784.1,119.9 L784.4,119.8 L784.8,119.7 L785.1,119.6 L785.4,119.5 L785.8,119.4 L786.1,119.3 L786.4,119.2 L786.8,119.1 L787.1,119 L787.4,118.9 L787.8,118.8 L788.1,118.7 L788.4,118.6 L788.8,118.5 L789.1,118.4 L789.4,118.3 L789.8,118.1 L790.1,118 L790.4,117.9 L790.8,117.8 L791.1,117.7 L791.4,117.6 L791.7,117.5 L792.1,117.4 L792.4,117.2 L792.7,117.1 L793.1,117 L793.4,116.9 L793.7,116.8 L794.1,116.7 L794.4,116.6 L794.7,116.5 L795.1,116.4 L795.4,116.3 L795.7,116.2 L796.1,116.1 L796.4,116 L796.7,115.9 L797.1,115.9 L797.4,115.8 L797.7,115.7 L798.1,115.6 L798.4,115.5 L798.7,115.5 L799.1,115.4 L799.4,115.3 L799.7,115.3 L800.1,115.2 L800.4,115.2 L800.7,115.1 L801.1,115 L801.4,115 L801.7,115 L802.1,114.9 L802.4,114.9 L802.7,114.9 L803.1,114.8 L803.4,114.8 L803.7,114.8 L804.1,114.8 L804.4,114.8 L804.7,114.8 L805.1,114.8 L805.4,114.8 L805.7,114.8 L806.1,114.8 L806.4,114.8 L806.7,114.8 L807.1,114.8 L807.4,114.8 L807.7,114.9 L808.1,114.9 L808.4,114.9 L808.7,115 L809.1,115 L809.4,115.1 L809.7,115.1 L810.1,115.2 L810.4,115.2 L810.7,115.3 L811.1,115.3 L811.4,115.4 L811.7,115.5 L812.1,115.5 L812.4,115.6 L812.7,115.7 L813.1,115.8 L813.4,115.9 L813.7,116 L814.1,116 L814.4,116.1 L814.7,116.2 L815,116.3 L815.4,116.4 L815.7,116.5 L816,116.6 L816.4,116.7 L816.7,116.8 L817,116.9 L817.4,117 L817.7,117.1 L818,117.3 L818.4,117.4 L818.7,117.5 L819,117.6 L819.4,117.7 L819.7,117.8 L820,117.9 L820.4,118 L820.7,118.2 L821,118.3 L821.4,118.4 L821.7,118.5 L822,118.6 L822.4,118.7 L822.7,118.8 L823,118.9 L823.4,119 L823.7,119.1 L824,119.3 L824.4,119.4 L824.7,119.5 L825,119.6 L825.4,119.7 L825.7,119.8 L826,119.8 L826.4,119.9 L826.7,120 L827,120.1 L827.4,120.2 L827.7,120.3 L828,120.4 L828.4,120.4 L828.7,120.5 L829,120.6 L829.4,120.6 L829.7,120.7 L830,120.8 L830.4,120.8 L830.7,120.9 L831,120.9 L831.4,121 L831.7,121 L832,121.1 L832.4,121.1 L832.7,121.1 L833,121.2 L833.4,121.2 L833.7,121.2 L834,121.2 L834.4,121.2 L834.7,121.2 L835,121.2 L835.4,121.2 L835.7,121.2 L836,121.2 L836.4,121.2 L836.7,121.2 L837,121.2 L837.4,121.2 L837.7,121.1 L838,121.1 L838.3,121.1 L838.7,121 L839,121 L839.3,121 L839.7,120.9 L840,120.9 L840.3,120.8 L840.7,120.7 L841,120.7 L841.3,120.6 L841.7,120.6 L842,120.5 L842.3,120.4 L842.7,120.3 L843,120.3 L843.3,120.2 L843.7,120.1 L844,120 L844.3,119.9 L844.7,119.8 L845,119.7 L845.3,119.6 L845.7,119.5 L846,119.4 L846.3,119.3 L846.7,119.2 L847,119.1 L847.3,119 L847.7,118.9 L848,118.8 L848.3,118.7 L848.7,118.6 L849,118.5 L849.3,118.3 L849.7,118.2 L850,118.1 L850.3,118 L850.7,117.9 L851,117.8 L851.3,117.7 L851.7,117.6 L852,117.4 L852.3,117.3 L852.7,117.2 L853,117.1 L853.3,117 L853.7,116.9 L854,116.8 L854.3,116.7 L854.7,116.6 L855,116.5 L855.3,116.4 L855.7,116.3 L856,116.2 L856.3,116.1 L856.7,116 L857,115.9 L857.3,115.8 L857.7,115.8 L858,115.7 L858.3,115.6 L858.7,115.5 L859,115.4 L859.3,115.4 L859.7,115.3 L860,115.3 L860.3,115.2 L860.7,115.1 L861,115.1 L861.3,115 L861.7,115 L862,115 L862.3,114.9 L862.6,114.9 L863,114.9 L863.3,114.8 L863.6,114.8 L864,114.8 L864.3,114.8 L864.6,114.8 L865,114.8 L865.3,114.8 L865.6,114.8 L866,114.8 L866.3,114.8 L866.6,114.8 L867,114.8 L867.3,114.8 L867.6,114.8 L868,114.9 L868.3,114.9 L868.6,114.9 L869,115 L869.3,115 L869.6,115.1 L870,115.1 L870.3,115.2 L870.6,115.2 L871,115.3 L871.3,115.4 L871.6,115.4 L872,115.5 L872.3,115.6 L872.6,115.6 L873,115.7 L873.3,115.8 L873.6,115.9 L874,116 L874.3,116.1 L874.6,116.2 L875,116.2 L875.3,116.3 L875.6,116.4 L876,116.5 L876.3,116.6 L876.6,116.7 L877,116.9 L877.3,117 L877.6,117.1 L878,117.2 L878.3,117.3 L878.6,117.4 L879,117.5 L879.3,117.6 L879.6,117.7 L880,117.8 L880.3,118 L880.6,118.1 L881,118.2 L881.3,118.3 L881.6,118.4 L882,118.5 L882.3,118.6 L882.6,118.7 L883,118.8 L883.3,119 L883.6,119.1 L884,119.2 L884.3,119.3 L884.6,119.4 L885,119.5 L885.3,119.6 L885.6,119.7 L885.9,119.8 L886.3,119.9 L886.6,120 L886.9,120 L887.3,120.1 L887.6,120.2 L887.9,120.3 L888.3,120.4 L888.6,120.5 L888.9,120.5 L889.3,120.6 L889.6,120.7 L889.9,120.7 L890.3,120.8 L890.6,120.8 L890.9,120.9 L891.3,120.9 L891.6,121 L891.9,121 L892.3,121.1 L892.6,121.1 L892.9,121.1 L893.3,121.2 L893.6,121.2 L893.9,121.2 L894.3,121.2 L894.6,121.2 L894.9,121.2 L895.3,121.2 L895.6,121.2 L895.9,121.2 L896.3,121.2 L896.6,121.2 L896.9,121.2 L897.3,121.2 L897.6,121.2 L897.9,121.1 L898.3,121.1 L898.6,121.1 L898.9,121 L899.3,121 L899.6,121 L899.9,120.9 L900.3,120.9 L900.6,120.8 L900.9,120.7 L901.3,120.7 L901.6,120.6 L901.9,120.5 L902.3,120.5 L902.6,120.4 L902.9,120.3 L903.3,120.2 L903.6,120.1 L903.9,120.1 L904.3,120 L904.6,119.9 L904.9,119.8 L905.3,119.7 L905.6,119.6 L905.9,119.5 L906.3,119.4 L906.6,119.3 L906.9,119.2 L907.3,119.1 L907.6,119 L907.9,118.9 L908.3,118.8 L908.6,118.6 L908.9,118.5 L909.3,118.4 L909.6,118.3 L909.9,118.2 L910.2,118.1 L910.6,118 L910.9,117.9 L911.2,117.7 L911.6,117.6 L911.9,117.5 L912.2,117.4 L912.6,117.3 L912.9,117.2" fill="none" stroke="#dc143c" stroke-width="5.5" stroke-linejoin="round" stroke-linecap="round" stroke-opacity="0.72"/>
<path d="M547.1,171.2 L547.4,171.2 L547.8,171.2 L548.1,171.2 L548.4,171.2 L548.8,171.2 L549.1,171.2 L549.4,171.2 L549.8,171.2 L550.1,171.2 L550.4,171.2 L550.8,171.2 L551.1,171.2 L551.4,171.2 L551.8,171.2 L552.1,171.2 L552.4,171.2 L552.8,171.2 L553.1,171.2 L553.4,171.2 L553.8,171.2 L554.1,171.2 L554.4,171.2 L554.7,171.2 L555.1,171.2 L555.4,171.2 L555.7,171.2 L556.1,171.2 L556.4,171.2 L556.7,171.2 L557.1,171.2 L557.4,171.2 L557.7,171.2 L558.1,171.2 L558.4,171.2 L558.7,171.2 L559.1,171.2 L559.4,171.2 L559.7,171.2 L560.1,171.2 L560.4,171.2 L560.7,171.2 L561.1,171.2 L561.4,171.2 L561.7,171.2 L562.1,171.2 L562.4,171.2 L562.7,171.2 L563.1,171.2 L563.4,171.2 L563.7,171.2 L564.1,171.2 L564.4,171.2 L564.7,171.2 L565.1,171.2 L565.4,171.2 L565.7,171.2 L566.1,171.2 L566.4,171.2 L566.7,171.2 L567.1,171.2 L567.4,171.2 L567.7,171.2 L568.1,171.2 L568.4,171.2 L568.7,171.2 L569.1,171.2 L569.4,171.2 L569.7,171.2 L570.1,171.2 L570.4,171.2 L570.7,171.2 L571.1,171.2 L571.4,171.2 L571.7,171.2 L572.1,171.2 L572.4,171.2 L572.7,171.2 L573.1,171.2 L573.4,171.2 L573.7,171.2 L574.1,171.2 L574.4,171.2 L574.7,171.2 L575.1,171.2 L575.4,171.2 L575.7,171.2 L576.1,171.2 L576.4,171.2 L576.7,171.2 L577.1,171.2 L577.4,171.2 L577.7,171.2 L578,171.2 L578.4,171.2 L578.7,171.2 L579,171.2 L579.4,171.2 L579.7,171.2 L580,171.2 L580.4,171.2 L580.7,171.2 L581,171.2 L581.4,171.2 L581.7,171.2 L582,171.2 L582.4,171.2 L582.7,171.2 L583,171.2 L583.4,171.2 L583.7,171.2 L584,171.2 L584.4,171.2 L584.7,171.2 L585,171.2 L585.4,171.2 L585.7,171.2 L586,171.2 L586.4,171.2 L586.7,171.2 L587,171.2 L587.4,171.2 L587.7,171.2 L588,171.2 L588.4,171.2 L588.7,171.2 L589,171.2 L589.4,171.2 L589.7,171.2 L590,171.2 L590.4,171.2 L590.7,171.2 L591,171.2 L591.4,171.2 L591.7,171.2 L592,171.2 L592.4,171.2 L592.7,171.2 L593,171.2 L593.4,171.2 L593.7,171.2 L594,171.2 L594.4,171.2 L594.7,171.2 L595,171.2 L595.4,171.2 L595.7,171.2 L596,171.2 L596.4,171.2 L596.7,171.2 L597,171.2 L597.4,171.2 L597.7,171.2 L598,171.2 L598.4,171.2 L598.7,171.2 L599,171.2 L599.4,171.2 L599.7,171.2 L600,171.2 L600.4,171.2 L600.7,171.2 L601,171.2 L601.4,171.2 L601.7,171.2 L602,171.2 L602.3,171.2 L602.7,171.2 L603,171.2 L603.3,171.2 L603.7,171.2 L604,171.2 L604.3,171.2 L604.7,171.1 L605,171 L605.3,170.8 L605.7,170.5 L606,170.4 L606.3,170.2 L606.7,170.2 L607,170.3 L607.3,170.5 L607.7,171 L608,171.6 L608.3,172.5 L608.7,173.4 L609,174.4 L609.3,175.2 L609.7,175.6 L610,175.7 L610.3,175.2 L610.7,174.1 L611,172.6 L611.3,170.6 L611.7,168.5 L612,166.5 L612.3,164.7 L612.7,163.5 L613,162.9 L613.3,163.1 L613.7,164.1 L614,165.8 L614.3,168.2 L614.7,171 L615,174 L615.3,177 L615.7,179.5 L616,181.4 L616.3,182.5 L616.7,182.5 L617,181.5 L617.3,179.4 L617.7,176.4 L618,172.7 L618.3,168.7 L618.7,164.7 L619,161.1 L619.3,158.3 L619.7,156.5 L620,156.1 L620.3,157.1 L620.7,159.5 L621,163.1 L621.3,167.6 L621.7,172.7 L622,177.9 L622.3,182.7 L622.7,186.6 L623,189.4 L623.3,190.5 L623.7,189.8 L624,187.3 L624.3,183.2 L624.7,177.7 L625,171.5 L625.3,165 L625.6,158.8 L626,153.8 L626.3,150.3 L626.6,148.7 L627,149.3 L627.3,152 L627.6,156.4 L628,162.2 L628.3,168.7 L628.6,175.4 L629,181.6 L629.3,186.8 L629.6,190.4 L630,192.2 L630.3,192.1 L630.6,190 L631,186.3 L631.3,181.2 L631.6,175.4 L632,169.4 L632.3,163.7 L632.6,158.8 L633,155.3 L633.3,153.4 L633.6,153.2 L634,154.6 L634.3,157.5 L634.6,161.5 L635,166.2 L635.3,171.1 L635.6,175.8 L636,179.8 L636.3,182.9 L636.6,184.8 L637,185.4 L637.3,184.7 L637.6,182.7 L638,179.9 L638.3,176.4 L638.6,172.6 L639,168.8 L639.3,165.5 L639.6,163 L640,161.3 L640.3,160.6 L640.6,161 L641,162.2 L641.3,164.2 L641.6,166.7 L642,169.4 L642.3,172 L642.6,174.3 L643,176.1 L643.3,177.2 L643.6,177.7 L644,177.6 L644.3,176.8 L644.6,175.6 L645,174.1 L645.3,172.6 L645.6,171.2 L646,170.1 L646.3,169.3 L646.6,168.8 L647,168.7 L647.3,168.8 L647.6,169.1 L648,169.5 L648.3,170 L648.6,170.6 L648.9,171 L649.3,171.5 L649.6,171.8 L649.9,172 L650.3,172.1 L650.6,172.1 L650.9,172 L651.3,171.9 L651.6,171.7 L651.9,171.5 L652.3,171.3 L652.6,171.2 L652.9,171 L653.3,171 L653.6,171 L653.9,171 L654.3,171.1 L654.6,171.1 L654.9,171.2 L655.3,171.2 L655.6,171.2 L655.9,171.2 L656.3,171.2 L656.6,171.2 L656.9,171.2 L657.3,171.2 L657.6,171.2 L657.9,171.2 L658.3,171.2 L658.6,171.2 L658.9,171.2 L659.3,171.2 L659.6,171.2 L659.9,171.2 L660.3,171.2 L660.6,171.2 L660.9,171.2 L661.3,171.2 L661.6,171.2 L661.9,171.2 L662.3,171.2 L662.6,171.2 L662.9,171.2 L663.3,171.2 L663.6,171.2 L663.9,171.2 L664.3,171.2 L664.6,171.2 L664.9,171.2 L665.3,171.2 L665.6,171.2 L665.9,171.2 L666.3,171.2 L666.6,171.2 L666.9,171.2 L667.3,171.2 L667.6,171.2 L667.9,171.2 L668.3,171.2 L668.6,171.2 L668.9,171.2 L669.3,171.2 L669.6,171.2 L669.9,171.2 L670.3,171.2 L670.6,171.2 L670.9,171.2 L671.3,171.2 L671.6,171.2 L671.9,171.2 L672.3,171.2 L672.6,171.2 L672.9,171.2 L673.2,171.2 L673.6,171.2 L673.9,171.2 L674.2,171.2 L674.6,171.2 L674.9,171.2 L675.2,171.2 L675.6,171.2 L675.9,171.2 L676.2,171.2 L676.6,171.2 L676.9,171.2 L677.2,171.2 L677.6,171.2 L677.9,171.2 L678.2,171.2 L678.6,171.2 L678.9,171.2 L679.2,171.2 L679.6,171.2 L679.9,171.2 L680.2,171.2 L680.6,171.2 L680.9,171.2 L681.2,171.2 L681.6,171.2 L681.9,171.2 L682.2,171.2 L682.6,171.2 L682.9,171.2 L683.2,171.2 L683.6,171.2 L683.9,171.2 L684.2,171.2 L684.6,171.2 L684.9,171.2 L685.2,171.2 L685.6,171.2 L685.9,171.2 L686.2,171.2 L686.6,171.2 L686.9,171.2 L687.2,171.2 L687.6,171.2 L687.9,171.2 L688.2,171.2 L688.6,171.2 L688.9,171.2 L689.2,171.2 L689.6,171.2 L689.9,171.2 L690.2,171.2 L690.6,171.2 L690.9,171.2 L691.2,171.2 L691.6,171.2 L691.9,171.2 L692.2,171.2 L692.6,171.2 L692.9,171.2 L693.2,171.2 L693.6,171.2 L693.9,171.2 L694.2,171.2 L694.6,171.2 L694.9,171.2 L695.2,171.2 L695.6,171.2 L695.9,171.2 L696.2,171.2 L696.5,171.2 L696.9,171.2 L697.2,171.2 L697.5,171.2 L697.9,171.2 L698.2,171.2 L698.5,171.2 L698.9,171.2 L699.2,171.2 L699.5,171.2 L699.9,171.2 L700.2,171.2 L700.5,171.2 L700.9,171.2 L701.2,171.2 L701.5,171.2 L701.9,171.2 L702.2,171.2 L702.5,171.2 L702.9,171.2 L703.2,171.2 L703.5,171.2 L703.9,171.2 L704.2,171.2 L704.5,171.2 L704.9,171.2 L705.2,171.2 L705.5,171.2 L705.9,171.2 L706.2,171.2 L706.5,171.2 L706.9,171.2 L707.2,171.2 L707.5,171.2 L707.9,171.2 L708.2,171.2 L708.5,171.2 L708.9,171.2 L709.2,171.2 L709.5,171.2 L709.9,171.2 L710.2,171.2 L710.5,171.2 L710.9,171.2 L711.2,171.2 L711.5,171.2 L711.9,171.2 L712.2,171.2 L712.5,171.2 L712.9,171.2 L713.2,171.2 L713.5,171.2 L713.9,171.2 L714.2,171.2 L714.5,171.2 L714.9,171.2 L715.2,171.2 L715.5,171.2 L715.9,171.2 L716.2,171.2 L716.5,171.2 L716.9,171.2 L717.2,171.2 L717.5,171.2 L717.9,171.2 L718.2,171.2 L718.5,171.2 L718.9,171.2 L719.2,171.2 L719.5,171.2 L719.9,171.2 L720.2,171.2 L720.5,171.2 L720.8,171.2 L721.2,171.2 L721.5,171.2 L721.8,171.2 L722.2,171.2 L722.5,171.2 L722.8,171.2 L723.2,171.2 L723.5,171.2 L723.8,171.2 L724.2,171.2 L724.5,171.2 L724.8,171.2 L725.2,171.2 L725.5,171.2 L725.8,171.2 L726.2,171.2 L726.5,171.2 L726.8,171.2 L727.2,171.2 L727.5,171.2 L727.8,171.2 L728.2,171.2 L728.5,171.2 L728.8,171.2 L729.2,171.2 L729.5,171.2 L729.8,171.2 L730.2,171.2 L730.5,171.2 L730.8,171.2 L731.2,171.2 L731.5,171.2 L731.8,171.2 L732.2,171.2 L732.5,171.2 L732.8,171.2 L733.2,171.2 L733.5,171.2 L733.8,171.2 L734.2,171.2 L734.5,171.2 L734.8,171.2 L735.2,171.2 L735.5,171.2 L735.8,171.2 L736.2,171.2 L736.5,171.2 L736.8,171.2 L737.2,171.2 L737.5,171.2 L737.8,171.2 L738.2,171.2 L738.5,171.2 L738.8,171.2 L739.2,171.2 L739.5,171.2 L739.8,171.2 L740.2,171.2 L740.5,171.2 L740.8,171.2 L741.2,171.2 L741.5,171.2 L741.8,171.2 L742.2,171.2 L742.5,171.2 L742.8,171.2 L743.2,171.2 L743.5,171.2 L743.8,171.2 L744.1,171.2 L744.5,171.2 L744.8,171.2 L745.1,171.2 L745.5,171.2 L745.8,171.2 L746.1,171.2 L746.5,171.2 L746.8,171.2 L747.1,171.2 L747.5,171.2 L747.8,171.2 L748.1,171.2 L748.5,171.2 L748.8,171.2 L749.1,171.2 L749.5,171.2 L749.8,171.2 L750.1,171.2 L750.5,171.2 L750.8,171.2 L751.1,171.2 L751.5,171.2 L751.8,171.2 L752.1,171.2 L752.5,171.2 L752.8,171.2 L753.1,171.2 L753.5,171.2 L753.8,171.2 L754.1,171.2 L754.5,171.2 L754.8,171.2 L755.1,171.2 L755.5,171.2 L755.8,171.2 L756.1,171.2 L756.5,171.2 L756.8,171.2 L757.1,171.2 L757.5,171.2 L757.8,171.2 L758.1,171.2 L758.5,171.2 L758.8,171.2 L759.1,171.2 L759.5,171.2 L759.8,171.2 L760.1,171.2 L760.5,171.2 L760.8,171.2 L761.1,171.2 L761.5,171.2 L761.8,171.2 L762.1,171.2 L762.5,171.2 L762.8,171.2 L763.1,171.2 L763.5,171.2 L763.8,171.2 L764.1,171.2 L764.5,171.2 L764.8,171.2 L765.1,171.2 L765.5,171.2 L765.8,171.2 L766.1,171.2 L766.5,171.2 L766.8,171.2 L767.1,171.2 L767.4,171.2 L767.8,171.2 L768.1,171.2 L768.4,171.2 L768.8,171.2 L769.1,171.2 L769.4,171.2 L769.8,171.2 L770.1,171.2 L770.4,171.2 L770.8,171.2 L771.1,171.2 L771.4,171.2 L771.8,171.2 L772.1,171.2 L772.4,171.2 L772.8,171.2 L773.1,171.2 L773.4,171.2 L773.8,171.2 L774.1,171.2 L774.4,171.2 L774.8,171.2 L775.1,171.2 L775.4,171.2 L775.8,171.2 L776.1,171.2 L776.4,171.2 L776.8,171.2 L777.1,171.2 L777.4,171.2 L777.8,171.2 L778.1,171.2 L778.4,171.2 L778.8,171.2 L779.1,171.2 L779.4,171.2 L779.8,171.2 L780.1,171.2 L780.4,171.2 L780.8,171.2 L781.1,171.2 L781.4,171.2 L781.8,171.3 L782.1,171.4 L782.4,171.4 L782.8,171.4 L783.1,171.2 L783.4,171 L783.8,170.6 L784.1,170.1 L784.4,169.6 L784.8,169.3 L785.1,169 L785.4,169 L785.8,169.3 L786.1,169.8 L786.4,170.7 L786.8,171.8 L787.1,173.1 L787.4,174.4 L787.8,175.6 L788.1,176.6 L788.4,177.1 L788.8,177.1 L789.1,176.4 L789.4,175 L789.8,173.1 L790.1,170.8 L790.4,168.3 L790.8,165.8 L791.1,163.7 L791.4,162.1 L791.7,161.3 L792.1,161.4 L792.4,162.4 L792.7,164.4 L793.1,167.2 L793.4,170.6 L793.7,174.3 L794.1,177.9 L794.4,181 L794.7,183.4 L795.1,184.8 L795.4,184.9 L795.7,183.7 L796.1,181.3 L796.4,177.7 L796.7,173.5 L797.1,168.8 L797.4,164.2 L797.7,160 L798.1,156.8 L798.4,154.9 L798.7,154.4 L799.1,155.5 L799.4,158.1 L799.7,162 L800.1,166.8 L800.4,172.2 L800.7,177.7 L801.1,182.7 L801.4,186.7 L801.7,189.4 L802.1,190.5 L802.4,189.8 L802.7,187.3 L803.1,183.3 L803.4,178.1 L803.7,172.1 L804.1,165.9 L804.4,160.2 L804.7,155.3 L805.1,151.9 L805.4,150.2 L805.7,150.5 L806.1,152.7 L806.4,156.7 L806.7,162 L807.1,168.1 L807.4,174.6 L807.7,180.7 L808.1,185.9 L808.4,189.8 L808.7,191.9 L809.1,192 L809.4,190.3 L809.7,186.8 L810.1,181.9 L810.4,176.1 L810.7,170 L811.1,164.1 L811.4,158.9 L811.7,155 L812.1,152.7 L812.4,152.1 L812.7,153.2 L813.1,156 L813.4,160 L813.7,165 L814.1,170.5 L814.4,175.8 L814.7,180.6 L815,184.4 L815.4,186.8 L815.7,187.8 L816,187.1 L816.4,185 L816.7,181.8 L817,177.7 L817.4,173.3 L817.7,168.9 L818,164.9 L818.4,161.7 L818.7,159.6 L819,158.7 L819.4,158.9 L819.7,160.3 L820,162.5 L820.4,165.4 L820.7,168.6 L821,171.9 L821.4,174.8 L821.7,177.3 L822,178.9 L822.4,179.8 L822.7,179.8 L823,179 L823.4,177.5 L823.7,175.7 L824,173.6 L824.4,171.4 L824.7,169.5 L825,168 L825.4,166.9 L825.7,166.3 L826,166.2 L826.4,166.5 L826.7,167.3 L827,168.3 L827.4,169.4 L827.7,170.7 L828,171.8 L828.4,172.8 L828.7,173.5 L829,173.9 L829.4,174.1 L829.7,173.9 L830,173.6 L830.4,173 L830.7,172.4 L831,171.7 L831.4,171.1 L831.7,170.5 L832,170.1 L832.4,169.9 L832.7,169.8 L833,169.9 L833.4,170 L833.7,170.3 L834,170.6 L834.4,170.9 L834.7,171.2 L835,171.4 L835.4,171.5 L835.7,171.5 L836,171.5 L836.4,171.4 L836.7,171.3 L837,171.3 L837.4,171.2 L837.7,171.2 L838,171.2 L838.3,171.2 L838.7,171.2 L839,171.2 L839.3,171.2 L839.7,171.2 L840,171.2 L840.3,171.2 L840.7,171.2 L841,171.2 L841.3,171.2 L841.7,171.2 L842,171.2 L842.3,171.2 L842.7,171.2 L843,171.2 L843.3,171.2 L843.7,171.2 L844,171.2 L844.3,171.2 L844.7,171.2 L845,171.2 L845.3,171.2 L845.7,171.1 L846,171.1 L846.3,171.1 L846.7,171 L847,171 L847.3,171 L847.7,171 L848,171.1 L848.3,171.2 L848.7,171.3 L849,171.4 L849.3,171.5 L849.7,171.6 L850,171.7 L850.3,171.7 L850.7,171.7 L851,171.7 L851.3,171.6 L851.7,171.4 L852,171.1 L852.3,170.8 L852.7,170.5 L853,170.2 L853.3,169.9 L853.7,169.8 L854,169.8 L854.3,169.9 L854.7,170.2 L855,170.6 L855.3,171.2 L855.7,171.8 L856,172.4 L856.3,173 L856.7,173.5 L857,173.7 L857.3,173.8 L857.7,173.6 L858,173.1 L858.3,172.4 L858.7,171.6 L859,170.6 L859.3,169.7 L859.7,168.8 L860,168.1 L860.3,167.7 L860.7,167.6 L861,167.8 L861.3,168.3 L861.7,169.2 L862,170.3 L862.3,171.5 L862.6,172.9 L863,174.1 L863.3,175.2 L863.6,175.9 L864,176.3 L864.3,176.2 L864.6,175.7 L865,174.7 L865.3,173.2 L865.6,171.3 L866,169.3 L866.3,167.2 L866.6,165.3 L867,163.8 L867.3,162.9 L867.6,162.8 L868,163.5 L868.3,165 L868.6,167.3 L869,170 L869.3,173 L869.6,176 L870,178.6 L870.3,180.6 L870.6,181.8 L871,182.1 L871.3,181.3 L871.6,179.6 L872,177 L872.3,173.8 L872.6,170.2 L873,166.7 L873.3,163.5 L873.6,160.9 L874,159.3 L874.3,158.8 L874.6,159.5 L875,161.3 L875.3,164 L875.6,167.3 L876,171 L876.3,174.7 L876.6,178.1 L877,180.8 L877.3,182.6 L877.6,183.4 L878,183 L878.3,181.6 L878.6,179.2 L879,176.1 L879.3,172.6 L879.6,169 L880,165.6 L880.3,162.8 L880.6,160.8 L881,159.8 L881.3,159.8 L881.6,160.9 L882,162.9 L882.3,165.7 L882.6,168.9 L883,172.1 L883.3,175.2 L883.6,177.8 L884,179.6 L884.3,180.6 L884.6,180.7 L885,179.9 L885.3,178.4 L885.6,176.3 L885.9,173.8 L886.3,171.3 L886.6,168.9 L886.9,166.9 L887.3,165.5 L887.6,164.7 L887.9,164.6 L888.3,165.1 L888.6,166.2 L888.9,167.6 L889.3,169.1 L889.6,170.7 L889.9,172.1 L890.3,173.2 L890.6,174.1 L890.9,174.6 L891.3,174.8 L891.6,174.6 L891.9,174.2 L892.3,173.5 L892.6,172.7 L892.9,171.8 L893.3,170.9 L893.6,170.2 L893.9,169.6 L894.3,169.2 L894.6,169 L894.9,169.1 L895.3,169.3 L895.6,169.7 L895.9,170.1 L896.3,170.7 L896.6,171.2 L896.9,171.7 L897.3,172.1 L897.6,172.5 L897.9,172.7 L898.3,172.8 L898.6,172.8 L898.9,172.6 L899.3,172.3 L899.6,171.9 L899.9,171.4 L900.3,170.9 L900.6,170.4 L900.9,169.9 L901.3,169.6 L901.6,169.3 L901.9,169.3 L902.3,169.4 L902.6,169.8 L902.9,170.2 L903.3,170.8 L903.6,171.4 L903.9,172 L904.3,172.6 L904.6,173 L904.9,173.2 L905.3,173.3 L905.6,173.1 L905.9,172.8 L906.3,172.3 L906.6,171.8 L906.9,171.2 L907.3,170.7 L907.6,170.2 L907.9,169.9 L908.3,169.7 L908.6,169.7 L908.9,169.8 L909.3,170.1 L909.6,170.4 L909.9,170.7 L910.2,171.1 L910.6,171.4 L910.9,171.7 L911.2,172 L911.6,172.2 L911.9,172.3 L912.2,172.2 L912.6,172.1 L912.9,171.9" fill="none" stroke="#94a0ac" stroke-width="4.6" stroke-linejoin="round" stroke-linecap="round" />
<path d="M547.1,171.2 L547.4,171.2 L547.8,171.2 L548.1,171.2 L548.4,171.2 L548.8,171.2 L549.1,171.2 L549.4,171.2 L549.8,171.2 L550.1,171.2 L550.4,171.2 L550.8,171.2 L551.1,171.2 L551.4,171.2 L551.8,171.2 L552.1,171.2 L552.4,171.2 L552.8,171.2 L553.1,171.2 L553.4,171.2 L553.8,171.2 L554.1,171.2 L554.4,171.2 L554.7,171.2 L555.1,171.2 L555.4,171.2 L555.7,171.2 L556.1,171.2 L556.4,171.2 L556.7,171.2 L557.1,171.2 L557.4,171.2 L557.7,171.2 L558.1,171.2 L558.4,171.2 L558.7,171.2 L559.1,171.2 L559.4,171.2 L559.7,171.2 L560.1,171.2 L560.4,171.2 L560.7,171.2 L561.1,171.2 L561.4,171.2 L561.7,171.2 L562.1,171.2 L562.4,171.2 L562.7,171.2 L563.1,171.2 L563.4,171.2 L563.7,171.2 L564.1,171.2 L564.4,171.2 L564.7,171.2 L565.1,171.2 L565.4,171.2 L565.7,171.2 L566.1,171.2 L566.4,171.2 L566.7,171.2 L567.1,171.2 L567.4,171.2 L567.7,171.2 L568.1,171.2 L568.4,171.2 L568.7,171.2 L569.1,171.2 L569.4,171.2 L569.7,171.2 L570.1,171.2 L570.4,171.2 L570.7,171.2 L571.1,171.2 L571.4,171.2 L571.7,171.2 L572.1,171.2 L572.4,171.2 L572.7,171.2 L573.1,171.2 L573.4,171.2 L573.7,171.2 L574.1,171.2 L574.4,171.2 L574.7,171.2 L575.1,171.2 L575.4,171.2 L575.7,171.2 L576.1,171.2 L576.4,171.2 L576.7,171.2 L577.1,171.2 L577.4,171.2 L577.7,171.2 L578,171.2 L578.4,171.2 L578.7,171.2 L579,171.2 L579.4,171.2 L579.7,171.2 L580,171.2 L580.4,171.2 L580.7,171.2 L581,171.2 L581.4,171.2 L581.7,171.2 L582,171.2 L582.4,171.2 L582.7,171.2 L583,171.2 L583.4,171.2 L583.7,171.2 L584,171.2 L584.4,171.2 L584.7,171.2 L585,171.2 L585.4,171.2 L585.7,171.2 L586,171.2 L586.4,171.2 L586.7,171.2 L587,171.2 L587.4,171.2 L587.7,171.2 L588,171.2 L588.4,171.2 L588.7,171.2 L589,171.2 L589.4,171.2 L589.7,171.2 L590,171.2 L590.4,171.2 L590.7,171.2 L591,171.2 L591.4,171.2 L591.7,171.2 L592,171.2 L592.4,171.2 L592.7,171.2 L593,171.2 L593.4,171.2 L593.7,171.2 L594,171.2 L594.4,171.2 L594.7,171.2 L595,171.2 L595.4,171.2 L595.7,171.2 L596,171.2 L596.4,171.2 L596.7,171.2 L597,171.2 L597.4,171.2 L597.7,171.2 L598,171.2 L598.4,171.2 L598.7,171.2 L599,171.2 L599.4,171.2 L599.7,171.2 L600,171.2 L600.4,171.2 L600.7,171.2 L601,171.2 L601.4,171.2 L601.7,171.2 L602,171.2 L602.3,171.2 L602.7,171.2 L603,171.2 L603.3,171.2 L603.7,171.1 L604,171.1 L604.3,170.9 L604.7,170.8 L605,170.7 L605.3,170.5 L605.7,170.4 L606,170.2 L606.3,170.1 L606.7,169.9 L607,169.7 L607.3,169.4 L607.7,168.9 L608,168.5 L608.3,167.9 L608.7,167.5 L609,166.9 L609.3,166.6 L609.7,166 L610,165.5 L610.3,165 L610.7,164.2 L611,163.7 L611.3,162.9 L611.7,162.1 L612,161.9 L612.3,161.7 L612.7,161.6 L613,161.5 L613.3,161.1 L613.7,160.8 L614,160.4 L614.3,160.3 L614.7,160 L615,159.6 L615.3,159.3 L615.7,159 L616,158.6 L616.3,158.1 L616.7,157.7 L617,157.1 L617.3,156.8 L617.7,156.4 L618,155.9 L618.3,155.5 L618.7,154.9 L619,154.8 L619.3,154.5 L619.7,154 L620,153.8 L620.3,153.3 L620.7,152.4 L621,152.1 L621.3,151.6 L621.7,151.1 L622,150.8 L622.3,150.2 L622.7,149.7 L623,149.3 L623.3,148.9 L623.7,148.4 L624,148.1 L624.3,147.4 L624.7,146.8 L625,146.2 L625.3,145.8 L625.6,145.6 L626,145.5 L626.3,145.6 L626.6,145.3 L627,145.2 L627.3,145.1 L627.6,145.1 L628,145.2 L628.3,145.5 L628.6,145.7 L629,146 L629.3,146.1 L629.6,146.1 L630,146.5 L630.3,146.8 L630.6,147.2 L631,147.5 L631.3,147.5 L631.6,147.7 L632,148.1 L632.3,148.4 L632.6,148.9 L633,149.3 L633.3,149.7 L633.6,150 L634,150.5 L634.3,150.9 L634.6,151.5 L635,152 L635.3,152.6 L635.6,153.3 L636,153.6 L636.3,154 L636.6,154.4 L637,154.6 L637.3,154.9 L637.6,155.4 L638,156 L638.3,156.4 L638.6,156.9 L639,157.1 L639.3,157.3 L639.6,157.6 L640,158 L640.3,158.7 L640.6,159 L641,159.7 L641.3,160.4 L641.6,160.8 L642,161.4 L642.3,162 L642.6,162.3 L643,162.6 L643.3,162.9 L643.6,163.1 L644,163.8 L644.3,164.4 L644.6,164.9 L645,165.3 L645.3,165.6 L645.6,166 L646,166.6 L646.3,167.2 L646.6,167.7 L647,168.1 L647.3,168.4 L647.6,168.7 L648,168.9 L648.3,169.2 L648.6,169.4 L648.9,169.6 L649.3,169.8 L649.6,169.8 L649.9,169.9 L650.3,169.9 L650.6,170 L650.9,170.2 L651.3,170.3 L651.6,170.4 L651.9,170.5 L652.3,170.6 L652.6,170.6 L652.9,170.7 L653.3,170.9 L653.6,170.9 L653.9,171 L654.3,171 L654.6,171.1 L654.9,171.1 L655.3,171.2 L655.6,171.2 L655.9,171.2 L656.3,171.2 L656.6,171.2 L656.9,171.2 L657.3,171.2 L657.6,171.2 L657.9,171.2 L658.3,171.2 L658.6,171.2 L658.9,171.2 L659.3,171.2 L659.6,171.2 L659.9,171.2 L660.3,171.2 L660.6,171.2 L660.9,171.2 L661.3,171.2 L661.6,171.2 L661.9,171.2 L662.3,171.2 L662.6,171.2 L662.9,171.2 L663.3,171.2 L663.6,171.2 L663.9,171.2 L664.3,171.2 L664.6,171.2 L664.9,171.2 L665.3,171.2 L665.6,171.2 L665.9,171.2 L666.3,171.2 L666.6,171.2 L666.9,171.2 L667.3,171.2 L667.6,171.2 L667.9,171.2 L668.3,171.2 L668.6,171.2 L668.9,171.2 L669.3,171.2 L669.6,171.2 L669.9,171.2 L670.3,171.2 L670.6,171.2 L670.9,171.2 L671.3,171.2 L671.6,171.2 L671.9,171.2 L672.3,171.2 L672.6,171.2 L672.9,171.2 L673.2,171.2 L673.6,171.2 L673.9,171.2 L674.2,171.2 L674.6,171.2 L674.9,171.2 L675.2,171.2 L675.6,171.2 L675.9,171.2 L676.2,171.2 L676.6,171.2 L676.9,171.2 L677.2,171.2 L677.6,171.2 L677.9,171.2 L678.2,171.2 L678.6,171.2 L678.9,171.2 L679.2,171.2 L679.6,171.2 L679.9,171.2 L680.2,171.2 L680.6,171.2 L680.9,171.2 L681.2,171.2 L681.6,171.2 L681.9,171.2 L682.2,171.2 L682.6,171.2 L682.9,171.2 L683.2,171.2 L683.6,171.2 L683.9,171.2 L684.2,171.2 L684.6,171.2 L684.9,171.2 L685.2,171.2 L685.6,171.2 L685.9,171.2 L686.2,171.2 L686.6,171.2 L686.9,171.2 L687.2,171.2 L687.6,171.2 L687.9,171.2 L688.2,171.2 L688.6,171.2 L688.9,171.2 L689.2,171.2 L689.6,171.2 L689.9,171.2 L690.2,171.2 L690.6,171.2 L690.9,171.2 L691.2,171.2 L691.6,171.2 L691.9,171.2 L692.2,171.2 L692.6,171.2 L692.9,171.2 L693.2,171.2 L693.6,171.2 L693.9,171.2 L694.2,171.2 L694.6,171.2 L694.9,171.2 L695.2,171.2 L695.6,171.2 L695.9,171.2 L696.2,171.2 L696.5,171.2 L696.9,171.2 L697.2,171.2 L697.5,171.2 L697.9,171.2 L698.2,171.2 L698.5,171.2 L698.9,171.2 L699.2,171.2 L699.5,171.2 L699.9,171.2 L700.2,171.2 L700.5,171.2 L700.9,171.2 L701.2,171.2 L701.5,171.2 L701.9,171.2 L702.2,171.2 L702.5,171.2 L702.9,171.2 L703.2,171.2 L703.5,171.2 L703.9,171.2 L704.2,171.2 L704.5,171.2 L704.9,171.2 L705.2,171.2 L705.5,171.2 L705.9,171.2 L706.2,171.2 L706.5,171.2 L706.9,171.2 L707.2,171.2 L707.5,171.2 L707.9,171.2 L708.2,171.2 L708.5,171.2 L708.9,171.2 L709.2,171.2 L709.5,171.2 L709.9,171.2 L710.2,171.2 L710.5,171.2 L710.9,171.2 L711.2,171.2 L711.5,171.2 L711.9,171.2 L712.2,171.2 L712.5,171.2 L712.9,171.2 L713.2,171.2 L713.5,171.2 L713.9,171.2 L714.2,171.2 L714.5,171.2 L714.9,171.2 L715.2,171.2 L715.5,171.2 L715.9,171.2 L716.2,171.2 L716.5,171.2 L716.9,171.2 L717.2,171.2 L717.5,171.2 L717.9,171.2 L718.2,171.2 L718.5,171.2 L718.9,171.2 L719.2,171.2 L719.5,171.2 L719.9,171.2 L720.2,171.2 L720.5,171.2 L720.8,171.2 L721.2,171.2 L721.5,171.2 L721.8,171.2 L722.2,171.2 L722.5,171.2 L722.8,171.2 L723.2,171.2 L723.5,171.2 L723.8,171.2 L724.2,171.2 L724.5,171.2 L724.8,171.2 L725.2,171.2 L725.5,171.2 L725.8,171.2 L726.2,171.2 L726.5,171.2 L726.8,171.2 L727.2,171.2 L727.5,171.2 L727.8,171.2 L728.2,171.2 L728.5,171.2 L728.8,171.2 L729.2,171.2 L729.5,171.2 L729.8,171.2 L730.2,171.2 L730.5,171.2 L730.8,171.2 L731.2,171.2 L731.5,171.2 L731.8,171.2 L732.2,171.2 L732.5,171.2 L732.8,171.2 L733.2,171.2 L733.5,171.2 L733.8,171.2 L734.2,171.2 L734.5,171.2 L734.8,171.2 L735.2,171.2 L735.5,171.2 L735.8,171.2 L736.2,171.2 L736.5,171.2 L736.8,171.2 L737.2,171.2 L737.5,171.2 L737.8,171.2 L738.2,171.2 L738.5,171.2 L738.8,171.2 L739.2,171.2 L739.5,171.2 L739.8,171.2 L740.2,171.2 L740.5,171.2 L740.8,171.2 L741.2,171.2 L741.5,171.2 L741.8,171.2 L742.2,171.2 L742.5,171.2 L742.8,171.2 L743.2,171.2 L743.5,171.2 L743.8,171.2 L744.1,171.2 L744.5,171.2 L744.8,171.2 L745.1,171.2 L745.5,171.2 L745.8,171.2 L746.1,171.2 L746.5,171.2 L746.8,171.2 L747.1,171.2 L747.5,171.2 L747.8,171.2 L748.1,171.2 L748.5,171.2 L748.8,171.2 L749.1,171.2 L749.5,171.2 L749.8,171.2 L750.1,171.2 L750.5,171.2 L750.8,171.2 L751.1,171.2 L751.5,171.2 L751.8,171.2 L752.1,171.2 L752.5,171.2 L752.8,171.2 L753.1,171.2 L753.5,171.2 L753.8,171.2 L754.1,171.2 L754.5,171.2 L754.8,171.2 L755.1,171.2 L755.5,171.2 L755.8,171.2 L756.1,171.2 L756.5,171.2 L756.8,171.2 L757.1,171.2 L757.5,171.2 L757.8,171.2 L758.1,171.2 L758.5,171.2 L758.8,171.2 L759.1,171.2 L759.5,171.2 L759.8,171.2 L760.1,171.2 L760.5,171.2 L760.8,171.2 L761.1,171.2 L761.5,171.2 L761.8,171.2 L762.1,171.2 L762.5,171.2 L762.8,171.2 L763.1,171.2 L763.5,171.2 L763.8,171.2 L764.1,171.2 L764.5,171.2 L764.8,171.2 L765.1,171.2 L765.5,171.2 L765.8,171.2 L766.1,171.2 L766.5,171.2 L766.8,171.2 L767.1,171.2 L767.4,171.2 L767.8,171.2 L768.1,171.2 L768.4,171.2 L768.8,171.2 L769.1,171.2 L769.4,171.2 L769.8,171.2 L770.1,171.2 L770.4,171.2 L770.8,171.2 L771.1,171.2 L771.4,171.2 L771.8,171.2 L772.1,171.2 L772.4,171.2 L772.8,171.2 L773.1,171.2 L773.4,171.2 L773.8,171.2 L774.1,171.2 L774.4,171.2 L774.8,171.2 L775.1,171.2 L775.4,171.2 L775.8,171.2 L776.1,171.2 L776.4,171.2 L776.8,171.2 L777.1,171.2 L777.4,171.2 L777.8,171.2 L778.1,171.2 L778.4,171.2 L778.8,171.2 L779.1,171.2 L779.4,171.2 L779.8,171.2 L780.1,171.2 L780.4,171.2 L780.8,171.2 L781.1,171.2 L781.4,171.2 L781.8,171.1 L782.1,170.9 L782.4,170.7 L782.8,170.5 L783.1,170.3 L783.4,170 L783.8,169.8 L784.1,169.6 L784.4,169.3 L784.8,169 L785.1,168.7 L785.4,168.4 L785.8,167.9 L786.1,167.4 L786.4,167 L786.8,166.5 L787.1,166.3 L787.4,166 L787.8,165.4 L788.1,164.9 L788.4,164.3 L788.8,163.6 L789.1,163.3 L789.4,162.6 L789.8,161.9 L790.1,161.5 L790.4,160.8 L790.8,160.4 L791.1,160.3 L791.4,159.9 L791.7,159.8 L792.1,159.5 L792.4,158.8 L792.7,158.2 L793.1,157.5 L793.4,157 L793.7,156.8 L794.1,156.3 L794.4,155.8 L794.7,155.6 L795.1,155.1 L795.4,154.8 L795.7,154.7 L796.1,154.3 L796.4,153.9 L796.7,153.7 L797.1,153.3 L797.4,153 L797.7,152.7 L798.1,152.1 L798.4,151.8 L798.7,151.4 L799.1,151.1 L799.4,150.8 L799.7,150.7 L800.1,150.5 L800.4,150 L800.7,149.7 L801.1,149.2 L801.4,148.9 L801.7,148.7 L802.1,148.6 L802.4,148.3 L802.7,148.2 L803.1,147.9 L803.4,147.7 L803.7,147.6 L804.1,147.7 L804.4,147.5 L804.7,147.2 L805.1,146.9 L805.4,146.6 L805.7,146.4 L806.1,146.3 L806.4,146.4 L806.7,146.1 L807.1,146.1 L807.4,146.1 L807.7,145.9 L808.1,146 L808.4,146.1 L808.7,146.3 L809.1,146.6 L809.4,146.7 L809.7,146.9 L810.1,147.1 L810.4,147.4 L810.7,147.8 L811.1,148 L811.4,148.2 L811.7,148.3 L812.1,148.5 L812.4,148.7 L812.7,149.1 L813.1,149.4 L813.4,150 L813.7,150.3 L814.1,150.5 L814.4,150.6 L814.7,150.8 L815,151.4 L815.4,151.8 L815.7,152.2 L816,152.6 L816.4,152.7 L816.7,153.2 L817,153.7 L817.4,153.9 L817.7,154.3 L818,154.7 L818.4,155.2 L818.7,156 L819,156.6 L819.4,157.1 L819.7,157.4 L820,157.8 L820.4,158.4 L820.7,158.9 L821,159.4 L821.4,159.8 L821.7,160.2 L822,160.5 L822.4,160.9 L822.7,161.4 L823,161.7 L823.4,162.2 L823.7,162.7 L824,163 L824.4,163.4 L824.7,163.8 L825,164.1 L825.4,164.5 L825.7,164.9 L826,165.2 L826.4,165.6 L826.7,165.9 L827,166 L827.4,166.4 L827.7,166.5 L828,166.8 L828.4,167.4 L828.7,167.8 L829,168.1 L829.4,168.3 L829.7,168.2 L830,168.2 L830.4,168.6 L830.7,168.6 L831,168.8 L831.4,169 L831.7,169.1 L832,169.4 L832.4,169.4 L832.7,169.6 L833,169.7 L833.4,169.8 L833.7,170 L834,170.1 L834.4,170.1 L834.7,170.3 L835,170.5 L835.4,170.6 L835.7,170.8 L836,170.9 L836.4,170.9 L836.7,171 L837,171.1 L837.4,171.2 L837.7,171.2 L838,171.2 L838.3,171.2 L838.7,171.2 L839,171.2 L839.3,171.2 L839.7,171.2 L840,171.2 L840.3,171.2 L840.7,171.2 L841,171.2 L841.3,171.2 L841.7,171.2 L842,171.2 L842.3,171.2 L842.7,171.2 L843,171.2 L843.3,171.2 L843.7,171.2 L844,171.2 L844.3,171.1 L844.7,171.1 L845,171.1 L845.3,171.1 L845.7,171.1 L846,171.1 L846.3,171 L846.7,171 L847,171 L847.3,171 L847.7,170.9 L848,170.9 L848.3,170.9 L848.7,170.8 L849,170.8 L849.3,170.7 L849.7,170.7 L850,170.6 L850.3,170.6 L850.7,170.5 L851,170.5 L851.3,170.4 L851.7,170.3 L852,170.1 L852.3,170 L852.7,169.9 L853,169.7 L853.3,169.7 L853.7,169.5 L854,169.4 L854.3,169.2 L854.7,169 L855,168.8 L855.3,168.7 L855.7,168.6 L856,168.6 L856.3,168.6 L856.7,168.6 L857,168.4 L857.3,168.2 L857.7,168.1 L858,168 L858.3,167.9 L858.7,167.8 L859,167.6 L859.3,167.4 L859.7,167.2 L860,167.2 L860.3,167 L860.7,166.9 L861,166.8 L861.3,166.6 L861.7,166.5 L862,166.3 L862.3,166.5 L862.6,166.3 L863,166.3 L863.3,166.2 L863.6,165.7 L864,165.4 L864.3,165 L864.6,164.6 L865,164.4 L865.3,164 L865.6,163.4 L866,163 L866.3,162.3 L866.6,161.9 L867,161.7 L867.3,161.2 L867.6,161 L868,160.6 L868.3,160.2 L868.6,159.8 L869,159.4 L869.3,158.9 L869.6,158.7 L870,158.8 L870.3,158.6 L870.6,158.7 L871,158.4 L871.3,158 L871.6,157.9 L872,157.6 L872.3,157.6 L872.6,157.6 L873,157.5 L873.3,157.4 L873.6,157.1 L874,156.9 L874.3,156.8 L874.6,156.8 L875,156.9 L875.3,157.1 L875.6,156.9 L876,156.8 L876.3,156.9 L876.6,156.7 L877,156.9 L877.3,156.9 L877.6,156.7 L878,156.8 L878.3,157.2 L878.6,157.5 L879,157.6 L879.3,157.5 L879.6,157.3 L880,157.3 L880.3,157.4 L880.6,157.5 L881,157.7 L881.3,157.8 L881.6,158 L882,158.2 L882.3,158.1 L882.6,158.1 L883,158.1 L883.3,158.6 L883.6,159 L884,159.4 L884.3,160.1 L884.6,160.5 L885,160.7 L885.3,161.1 L885.6,161.3 L885.9,161.4 L886.3,161.7 L886.6,161.9 L886.9,162 L887.3,162.6 L887.6,162.8 L887.9,163.1 L888.3,163.7 L888.6,163.9 L888.9,164.6 L889.3,165.2 L889.6,165.6 L889.9,166.1 L890.3,166.2 L890.6,166.4 L890.9,166.6 L891.3,166.7 L891.6,167.1 L891.9,167.2 L892.3,167.4 L892.6,167.6 L892.9,167.8 L893.3,168 L893.6,168.4 L893.9,168.6 L894.3,168.6 L894.6,168.8 L894.9,169 L895.3,169 L895.6,169.2 L895.9,169.2 L896.3,169.1 L896.6,169.1 L896.9,169.2 L897.3,169.3 L897.6,169.3 L897.9,169.3 L898.3,169.3 L898.6,169.2 L898.9,169.2 L899.3,169.1 L899.6,169.2 L899.9,169.2 L900.3,169.3 L900.6,169.3 L900.9,169.2 L901.3,169.1 L901.6,169 L901.9,169 L902.3,168.9 L902.6,168.9 L902.9,168.9 L903.3,168.8 L903.6,168.8 L903.9,168.7 L904.3,168.6 L904.6,168.6 L904.9,168.7 L905.3,168.8 L905.6,168.6 L905.9,168.7 L906.3,168.5 L906.6,168.6 L906.9,168.9 L907.3,169.1 L907.6,169.2 L907.9,169.3 L908.3,169.4 L908.6,169.5 L908.9,169.6 L909.3,169.8 L909.6,169.9 L909.9,170 L910.2,170 L910.6,170 L910.9,170 L911.2,169.9 L911.6,169.9 L911.9,169.9 L912.2,169.9 L912.6,169.9 L912.9,170" fill="none" stroke="#2e8b57" stroke-width="6" stroke-linejoin="round" stroke-linecap="round" />
<path d="M547.1,239.6 L547.4,239.6 L547.8,239.6 L548.1,239.6 L548.4,239.6 L548.8,239.6 L549.1,239.6 L549.4,239.6 L549.8,239.6 L550.1,239.6 L550.4,239.6 L550.8,239.6 L551.1,239.6 L551.4,239.6 L551.8,239.6 L552.1,239.6 L552.4,239.6 L552.8,239.6 L553.1,239.6 L553.4,239.6 L553.8,239.6 L554.1,239.6 L554.4,239.6 L554.7,239.6 L555.1,239.6 L555.4,239.6 L555.7,239.6 L556.1,239.6 L556.4,239.6 L556.7,239.6 L557.1,239.6 L557.4,239.6 L557.7,239.6 L558.1,239.6 L558.4,239.6 L558.7,239.6 L559.1,239.6 L559.4,239.6 L559.7,239.6 L560.1,239.6 L560.4,239.6 L560.7,239.6 L561.1,239.6 L561.4,239.6 L561.7,239.6 L562.1,239.6 L562.4,239.6 L562.7,239.6 L563.1,239.6 L563.4,239.6 L563.7,239.6 L564.1,239.6 L564.4,239.6 L564.7,239.6 L565.1,239.6 L565.4,239.6 L565.7,239.6 L566.1,239.6 L566.4,239.6 L566.7,239.6 L567.1,239.6 L567.4,239.6 L567.7,239.6 L568.1,239.6 L568.4,239.6 L568.7,239.6 L569.1,239.6 L569.4,239.6 L569.7,239.6 L570.1,239.6 L570.4,239.6 L570.7,239.6 L571.1,239.6 L571.4,239.6 L571.7,239.6 L572.1,239.6 L572.4,239.6 L572.7,239.6 L573.1,239.6 L573.4,239.6 L573.7,239.6 L574.1,239.6 L574.4,239.6 L574.7,239.6 L575.1,239.6 L575.4,239.6 L575.7,239.6 L576.1,239.6 L576.4,239.6 L576.7,239.6 L577.1,239.6 L577.4,239.6 L577.7,239.6 L578,239.6 L578.4,239.6 L578.7,239.6 L579,239.6 L579.4,239.6 L579.7,239.6 L580,239.6 L580.4,239.6 L580.7,239.6 L581,239.6 L581.4,239.6 L581.7,239.6 L582,239.6 L582.4,239.6 L582.7,239.6 L583,239.6 L583.4,239.6 L583.7,239.6 L584,239.6 L584.4,239.6 L584.7,239.6 L585,239.6 L585.4,239.6 L585.7,239.6 L586,239.6 L586.4,239.6 L586.7,239.6 L587,239.6 L587.4,239.6 L587.7,239.6 L588,239.6 L588.4,239.6 L588.7,239.6 L589,239.6 L589.4,239.6 L589.7,239.6 L590,239.6 L590.4,239.6 L590.7,239.6 L591,239.6 L591.4,239.6 L591.7,239.6 L592,239.6 L592.4,239.6 L592.7,239.6 L593,239.6 L593.4,239.6 L593.7,239.6 L594,239.6 L594.4,239.6 L594.7,239.6 L595,239.6 L595.4,239.6 L595.7,239.6 L596,239.6 L596.4,239.6 L596.7,239.6 L597,239.6 L597.4,239.6 L597.7,239.6 L598,239.6 L598.4,239.6 L598.7,239.6 L599,239.6 L599.4,239.6 L599.7,239.6 L600,239.6 L600.4,239.6 L600.7,239.6 L601,239.6 L601.4,239.6 L601.7,239.6 L602,239.6 L602.3,239.6 L602.7,239.6 L603,239.6 L603.3,239.6 L603.7,239.6 L604,239.7 L604.3,239.6 L604.7,239.5 L605,239.3 L605.3,239 L605.7,238.7 L606,238.5 L606.3,238.3 L606.7,238.3 L607,238.4 L607.3,238.7 L607.7,239.3 L608,240.2 L608.3,241.3 L608.7,242.5 L609,243.8 L609.3,244.8 L609.7,245.5 L610,245.5 L610.3,244.9 L610.7,243.5 L611,241.4 L611.3,238.9 L611.7,236.1 L612,233.4 L612.3,231.1 L612.7,229.4 L613,228.6 L613.3,228.9 L613.7,230.2 L614,232.5 L614.3,235.7 L614.7,239.4 L615,243.3 L615.3,247.2 L615.7,250.6 L616,253.1 L616.3,254.5 L616.7,254.5 L617,253.1 L617.3,250.4 L617.7,246.4 L618,241.6 L618.3,236.3 L618.7,231 L619,226.3 L619.3,222.6 L619.7,220.3 L620,219.7 L620.3,221 L620.7,224.1 L621,228.9 L621.3,234.9 L621.7,241.6 L622,248.4 L622.3,254.7 L622.7,259.9 L623,263.5 L623.3,265 L623.7,264.1 L624,260.8 L624.3,255.4 L624.7,248.2 L625,240 L625.3,231.4 L625.6,223.3 L626,216.7 L626.3,212.1 L626.6,210 L627,210.8 L627.3,214.3 L627.6,220.1 L628,227.7 L628.3,236.3 L628.6,245.1 L629,253.3 L629.3,260.1 L629.6,264.9 L630,267.3 L630.3,267.1 L630.6,264.3 L631,259.4 L631.3,252.8 L631.6,245.2 L632,237.2 L632.3,229.7 L632.6,223.3 L633,218.7 L633.3,216.1 L633.6,215.9 L634,217.8 L634.3,221.6 L634.6,226.8 L635,233 L635.3,239.4 L635.6,245.6 L636,250.9 L636.3,255 L636.6,257.5 L637,258.3 L637.3,257.3 L637.6,254.8 L638,251 L638.3,246.4 L638.6,241.4 L639,236.5 L639.3,232.2 L639.6,228.8 L640,226.5 L640.3,225.7 L640.6,226.1 L641,227.8 L641.3,230.4 L641.6,233.7 L642,237.2 L642.3,240.6 L642.6,243.7 L643,246 L643.3,247.6 L643.6,248.2 L644,248 L644.3,247 L644.6,245.4 L645,243.5 L645.3,241.5 L645.6,239.6 L646,238.1 L646.3,237.1 L646.6,236.5 L647,236.3 L647.3,236.5 L647.6,236.9 L648,237.4 L648.3,238.1 L648.6,238.7 L648.9,239.4 L649.3,240 L649.6,240.4 L649.9,240.7 L650.3,240.8 L650.6,240.8 L650.9,240.7 L651.3,240.5 L651.6,240.2 L651.9,240 L652.3,239.7 L652.6,239.5 L652.9,239.4 L653.3,239.3 L653.6,239.3 L653.9,239.4 L654.3,239.4 L654.6,239.5 L654.9,239.5 L655.3,239.6 L655.6,239.6 L655.9,239.6 L656.3,239.6 L656.6,239.6 L656.9,239.6 L657.3,239.6 L657.6,239.6 L657.9,239.6 L658.3,239.6 L658.6,239.6 L658.9,239.6 L659.3,239.6 L659.6,239.6 L659.9,239.6 L660.3,239.6 L660.6,239.6 L660.9,239.6 L661.3,239.6 L661.6,239.6 L661.9,239.6 L662.3,239.6 L662.6,239.6 L662.9,239.6 L663.3,239.6 L663.6,239.6 L663.9,239.6 L664.3,239.6 L664.6,239.6 L664.9,239.6 L665.3,239.6 L665.6,239.6 L665.9,239.6 L666.3,239.6 L666.6,239.6 L666.9,239.6 L667.3,239.6 L667.6,239.6 L667.9,239.6 L668.3,239.6 L668.6,239.6 L668.9,239.6 L669.3,239.6 L669.6,239.6 L669.9,239.6 L670.3,239.6 L670.6,239.6 L670.9,239.6 L671.3,239.6 L671.6,239.6 L671.9,239.6 L672.3,239.6 L672.6,239.6 L672.9,239.6 L673.2,239.6 L673.6,239.6 L673.9,239.6 L674.2,239.6 L674.6,239.6 L674.9,239.6 L675.2,239.6 L675.6,239.6 L675.9,239.6 L676.2,239.6 L676.6,239.6 L676.9,239.6 L677.2,239.6 L677.6,239.6 L677.9,239.6 L678.2,239.6 L678.6,239.6 L678.9,239.6 L679.2,239.6 L679.6,239.6 L679.9,239.6 L680.2,239.6 L680.6,239.6 L680.9,239.6 L681.2,239.6 L681.6,239.6 L681.9,239.6 L682.2,239.6 L682.6,239.6 L682.9,239.6 L683.2,239.6 L683.6,239.6 L683.9,239.6 L684.2,239.6 L684.6,239.6 L684.9,239.6 L685.2,239.6 L685.6,239.6 L685.9,239.6 L686.2,239.6 L686.6,239.6 L686.9,239.6 L687.2,239.6 L687.6,239.6 L687.9,239.6 L688.2,239.6 L688.6,239.6 L688.9,239.6 L689.2,239.6 L689.6,239.6 L689.9,239.6 L690.2,239.6 L690.6,239.6 L690.9,239.6 L691.2,239.6 L691.6,239.6 L691.9,239.6 L692.2,239.6 L692.6,239.6 L692.9,239.6 L693.2,239.6 L693.6,239.6 L693.9,239.6 L694.2,239.6 L694.6,239.6 L694.9,239.6 L695.2,239.6 L695.6,239.6 L695.9,239.6 L696.2,239.6 L696.5,239.6 L696.9,239.6 L697.2,239.6 L697.5,239.6 L697.9,239.6 L698.2,239.6 L698.5,239.6 L698.9,239.6 L699.2,239.6 L699.5,239.6 L699.9,239.6 L700.2,239.6 L700.5,239.6 L700.9,239.6 L701.2,239.6 L701.5,239.6 L701.9,239.6 L702.2,239.6 L702.5,239.6 L702.9,239.6 L703.2,239.6 L703.5,239.6 L703.9,239.6 L704.2,239.6 L704.5,239.6 L704.9,239.6 L705.2,239.6 L705.5,239.6 L705.9,239.6 L706.2,239.6 L706.5,239.6 L706.9,239.6 L707.2,239.6 L707.5,239.6 L707.9,239.6 L708.2,239.6 L708.5,239.6 L708.9,239.6 L709.2,239.6 L709.5,239.6 L709.9,239.6 L710.2,239.6 L710.5,239.6 L710.9,239.6 L711.2,239.6 L711.5,239.6 L711.9,239.6 L712.2,239.6 L712.5,239.6 L712.9,239.6 L713.2,239.6 L713.5,239.6 L713.9,239.6 L714.2,239.6 L714.5,239.6 L714.9,239.6 L715.2,239.6 L715.5,239.6 L715.9,239.6 L716.2,239.6 L716.5,239.6 L716.9,239.6 L717.2,239.6 L717.5,239.6 L717.9,239.6 L718.2,239.6 L718.5,239.6 L718.9,239.6 L719.2,239.6 L719.5,239.6 L719.9,239.6 L720.2,239.6 L720.5,239.6 L720.8,239.6 L721.2,239.6 L721.5,239.6 L721.8,239.6 L722.2,239.6 L722.5,239.6 L722.8,239.6 L723.2,239.6 L723.5,239.6 L723.8,239.6 L724.2,239.6 L724.5,239.6 L724.8,239.6 L725.2,239.6 L725.5,239.6 L725.8,239.6 L726.2,239.6 L726.5,239.6 L726.8,239.6 L727.2,239.6 L727.5,239.6 L727.8,239.6 L728.2,239.6 L728.5,239.6 L728.8,239.6 L729.2,239.6 L729.5,239.6 L729.8,239.6 L730.2,239.6 L730.5,239.6 L730.8,239.6 L731.2,239.6 L731.5,239.6 L731.8,239.6 L732.2,239.6 L732.5,239.6 L732.8,239.6 L733.2,239.6 L733.5,239.6 L733.8,239.6 L734.2,239.6 L734.5,239.6 L734.8,239.6 L735.2,239.6 L735.5,239.6 L735.8,239.6 L736.2,239.6 L736.5,239.6 L736.8,239.6 L737.2,239.6 L737.5,239.6 L737.8,239.6 L738.2,239.6 L738.5,239.6 L738.8,239.6 L739.2,239.6 L739.5,239.6 L739.8,239.6 L740.2,239.6 L740.5,239.6 L740.8,239.6 L741.2,239.6 L741.5,239.6 L741.8,239.6 L742.2,239.6 L742.5,239.6 L742.8,239.6 L743.2,239.6 L743.5,239.6 L743.8,239.6 L744.1,239.6 L744.5,239.6 L744.8,239.6 L745.1,239.6 L745.5,239.6 L745.8,239.6 L746.1,239.6 L746.5,239.6 L746.8,239.6 L747.1,239.6 L747.5,239.6 L747.8,239.6 L748.1,239.6 L748.5,239.6 L748.8,239.6 L749.1,239.6 L749.5,239.6 L749.8,239.6 L750.1,239.6 L750.5,239.6 L750.8,239.6 L751.1,239.6 L751.5,239.6 L751.8,239.6 L752.1,239.6 L752.5,239.6 L752.8,239.6 L753.1,239.6 L753.5,239.6 L753.8,239.6 L754.1,239.6 L754.5,239.6 L754.8,239.6 L755.1,239.6 L755.5,239.6 L755.8,239.6 L756.1,239.6 L756.5,239.6 L756.8,239.6 L757.1,239.6 L757.5,239.6 L757.8,239.6 L758.1,239.6 L758.5,239.6 L758.8,239.6 L759.1,239.6 L759.5,239.6 L759.8,239.6 L760.1,239.6 L760.5,239.6 L760.8,239.6 L761.1,239.6 L761.5,239.6 L761.8,239.6 L762.1,239.6 L762.5,239.6 L762.8,239.6 L763.1,239.6 L763.5,239.6 L763.8,239.6 L764.1,239.6 L764.5,239.6 L764.8,239.6 L765.1,239.6 L765.5,239.6 L765.8,239.6 L766.1,239.6 L766.5,239.6 L766.8,239.6 L767.1,239.6 L767.4,239.6 L767.8,239.6 L768.1,239.6 L768.4,239.6 L768.8,239.6 L769.1,239.6 L769.4,239.6 L769.8,239.6 L770.1,239.6 L770.4,239.6 L770.8,239.6 L771.1,239.6 L771.4,239.6 L771.8,239.6 L772.1,239.6 L772.4,239.6 L772.8,239.6 L773.1,239.6 L773.4,239.6 L773.8,239.6 L774.1,239.6 L774.4,239.6 L774.8,239.6 L775.1,239.6 L775.4,239.6 L775.8,239.6 L776.1,239.6 L776.4,239.6 L776.8,239.6 L777.1,239.6 L777.4,239.6 L777.8,239.6 L778.1,239.6 L778.4,239.6 L778.8,239.6 L779.1,239.6 L779.4,239.6 L779.8,239.6 L780.1,239.6 L780.4,239.6 L780.8,239.6 L781.1,239.6 L781.4,239.6 L781.8,239.6 L782.1,239.7 L782.4,239.7 L782.8,239.7 L783.1,239.6 L783.4,239.5 L783.8,239.4 L784.1,239.3 L784.4,239.2 L784.8,239.1 L785.1,239 L785.4,239 L785.8,239.1 L786.1,239.2 L786.4,239.5 L786.8,239.8 L787.1,240.1 L787.4,240.4 L787.8,240.8 L788.1,241 L788.4,241.2 L788.8,241.1 L789.1,241 L789.4,240.6 L789.8,240.1 L790.1,239.5 L790.4,238.8 L790.8,238.2 L791.1,237.6 L791.4,237.2 L791.7,237 L792.1,237 L792.4,237.3 L792.7,237.8 L793.1,238.6 L793.4,239.4 L793.7,240.4 L794.1,241.3 L794.4,242.2 L794.7,242.8 L795.1,243.2 L795.4,243.2 L795.7,242.9 L796.1,242.2 L796.4,241.3 L796.7,240.2 L797.1,239 L797.4,237.8 L797.7,236.7 L798.1,235.8 L798.4,235.3 L798.7,235.2 L799.1,235.5 L799.4,236.2 L799.7,237.2 L800.1,238.4 L800.4,239.9 L800.7,241.3 L801.1,242.6 L801.4,243.7 L801.7,244.4 L802.1,244.7 L802.4,244.5 L802.7,243.8 L803.1,242.8 L803.4,241.4 L803.7,239.8 L804.1,238.2 L804.4,236.7 L804.7,235.4 L805.1,234.5 L805.4,234.1 L805.7,234.2 L806.1,234.8 L806.4,235.8 L806.7,237.2 L807.1,238.8 L807.4,240.5 L807.7,242.1 L808.1,243.5 L808.4,244.5 L808.7,245 L809.1,245.1 L809.4,244.6 L809.7,243.7 L810.1,242.4 L810.4,240.9 L810.7,239.3 L811.1,237.7 L811.4,236.4 L811.7,235.4 L812.1,234.7 L812.4,234.6 L812.7,234.9 L813.1,235.6 L813.4,236.7 L813.7,238 L814.1,239.4 L814.4,240.8 L814.7,242.1 L815,243.1 L815.4,243.7 L815.7,243.9 L816,243.8 L816.4,243.2 L816.7,242.4 L817,241.3 L817.4,240.1 L817.7,239 L818,237.9 L818.4,237.1 L818.7,236.6 L819,236.3 L819.4,236.4 L819.7,236.7 L820,237.3 L820.4,238.1 L820.7,238.9 L821,239.8 L821.4,240.6 L821.7,241.2 L822,241.6 L822.4,241.9 L822.7,241.8 L823,241.6 L823.4,241.3 L823.7,240.8 L824,240.2 L824.4,239.7 L824.7,239.2 L825,238.8 L825.4,238.5 L825.7,238.3 L826,238.3 L826.4,238.4 L826.7,238.6 L827,238.8 L827.4,239.1 L827.7,239.5 L828,239.8 L828.4,240 L828.7,240.2 L829,240.3 L829.4,240.4 L829.7,240.3 L830,240.2 L830.4,240.1 L830.7,239.9 L831,239.7 L831.4,239.6 L831.7,239.4 L832,239.3 L832.4,239.3 L832.7,239.2 L833,239.2 L833.4,239.3 L833.7,239.4 L834,239.4 L834.4,239.5 L834.7,239.6 L835,239.6 L835.4,239.7 L835.7,239.7 L836,239.7 L836.4,239.7 L836.7,239.6 L837,239.6 L837.4,239.6 L837.7,239.6 L838,239.6 L838.3,239.6 L838.7,239.6 L839,239.6 L839.3,239.6 L839.7,239.6 L840,239.6 L840.3,239.6 L840.7,239.6 L841,239.6 L841.3,239.6 L841.7,239.6 L842,239.6 L842.3,239.6 L842.7,239.6 L843,239.6 L843.3,239.6 L843.7,239.6 L844,239.6 L844.3,239.6 L844.7,239.6 L845,239.6 L845.3,239.6 L845.7,239.5 L846,239.5 L846.3,239.4 L846.7,239.4 L847,239.4 L847.3,239.4 L847.7,239.4 L848,239.5 L848.3,239.5 L848.7,239.7 L849,239.8 L849.3,240 L849.7,240.1 L850,240.2 L850.3,240.3 L850.7,240.3 L851,240.2 L851.3,240 L851.7,239.8 L852,239.5 L852.3,239.2 L852.7,238.9 L853,238.6 L853.3,238.4 L853.7,238.3 L854,238.3 L854.3,238.4 L854.7,238.7 L855,239.1 L855.3,239.6 L855.7,240.1 L856,240.6 L856.3,241.1 L856.7,241.5 L857,241.7 L857.3,241.7 L857.7,241.6 L858,241.2 L858.3,240.6 L858.7,239.9 L859,239.1 L859.3,238.3 L859.7,237.6 L860,236.9 L860.3,236.5 L860.7,236.3 L861,236.5 L861.3,236.9 L861.7,237.6 L862,238.7 L862.3,240 L862.6,241.5 L863,243 L863.3,244.4 L863.6,245.6 L864,246.3 L864.3,246.4 L864.6,245.7 L865,244.4 L865.3,242.3 L865.6,239.8 L866,237 L866.3,234.2 L866.6,231.7 L867,229.7 L867.3,228.6 L867.6,228.4 L868,229.4 L868.3,231.4 L868.6,234.4 L869,238 L869.3,242 L869.6,246 L870,249.5 L870.3,252.1 L870.6,253.7 L871,254 L871.3,252.9 L871.6,250.6 L872,247.2 L872.3,242.9 L872.6,238.3 L873,233.7 L873.3,229.6 L873.6,226.4 L874,224.5 L874.3,223.9 L874.6,224.8 L875,227 L875.3,230.4 L875.6,234.7 L876,239.3 L876.3,244 L876.6,248.2 L877,251.5 L877.3,253.7 L877.6,254.6 L878,254.1 L878.3,252.3 L878.6,249.3 L879,245.5 L879.3,241.3 L879.6,236.9 L880,232.9 L880.3,229.6 L880.6,227.3 L881,226.1 L881.3,226.3 L881.6,227.6 L882,230 L882.3,233.2 L882.6,236.9 L883,240.7 L883.3,244.2 L883.6,247.2 L884,249.4 L884.3,250.6 L884.6,250.8 L885,249.8 L885.3,248 L885.6,245.6 L885.9,242.7 L886.3,239.7 L886.6,236.9 L886.9,234.6 L887.3,232.9 L887.6,231.9 L887.9,231.8 L888.3,232.3 L888.6,233.5 L888.9,235.1 L889.3,237 L889.6,238.9 L889.9,240.7 L890.3,242.1 L890.6,243.1 L890.9,243.7 L891.3,243.8 L891.6,243.6 L891.9,243.1 L892.3,242.3 L892.6,241.3 L892.9,240.3 L893.3,239.3 L893.6,238.5 L893.9,237.8 L894.3,237.4 L894.6,237.2 L894.9,237.3 L895.3,237.5 L895.6,237.9 L895.9,238.4 L896.3,239 L896.6,239.6 L896.9,240.2 L897.3,240.8 L897.6,241.3 L897.9,241.6 L898.3,241.8 L898.6,241.8 L898.9,241.6 L899.3,241.1 L899.6,240.6 L899.9,239.9 L900.3,239.1 L900.6,238.4 L900.9,237.7 L901.3,237.2 L901.6,237 L901.9,237 L902.3,237.2 L902.6,237.7 L902.9,238.3 L903.3,239.1 L903.6,239.8 L903.9,240.6 L904.3,241.2 L904.6,241.6 L904.9,241.8 L905.3,241.9 L905.6,241.6 L905.9,241.3 L906.3,240.8 L906.6,240.2 L906.9,239.6 L907.3,239.1 L907.6,238.6 L907.9,238.3 L908.3,238.1 L908.6,238.1 L908.9,238.2 L909.3,238.4 L909.6,238.7 L909.9,239.1 L910.2,239.5 L910.6,239.9 L910.9,240.2 L911.2,240.5 L911.6,240.7 L911.9,240.8 L912.2,240.8 L912.6,240.7 L912.9,240.5" fill="none" stroke="#94a0ac" stroke-width="4.6" stroke-linejoin="round" stroke-linecap="round" />
<path d="M547.1,239.6 L547.4,239.6 L547.8,239.6 L548.1,239.6 L548.4,239.6 L548.8,239.6 L549.1,239.6 L549.4,239.6 L549.8,239.6 L550.1,239.6 L550.4,239.6 L550.8,239.6 L551.1,239.6 L551.4,239.6 L551.8,239.6 L552.1,239.6 L552.4,239.6 L552.8,239.6 L553.1,239.6 L553.4,239.6 L553.8,239.6 L554.1,239.6 L554.4,239.6 L554.7,239.6 L555.1,239.6 L555.4,239.6 L555.7,239.6 L556.1,239.6 L556.4,239.6 L556.7,239.6 L557.1,239.6 L557.4,239.6 L557.7,239.6 L558.1,239.6 L558.4,239.6 L558.7,239.6 L559.1,239.6 L559.4,239.6 L559.7,239.6 L560.1,239.6 L560.4,239.6 L560.7,239.6 L561.1,239.6 L561.4,239.6 L561.7,239.6 L562.1,239.6 L562.4,239.6 L562.7,239.6 L563.1,239.6 L563.4,239.6 L563.7,239.6 L564.1,239.6 L564.4,239.6 L564.7,239.6 L565.1,239.6 L565.4,239.6 L565.7,239.6 L566.1,239.6 L566.4,239.6 L566.7,239.6 L567.1,239.6 L567.4,239.6 L567.7,239.6 L568.1,239.6 L568.4,239.6 L568.7,239.6 L569.1,239.6 L569.4,239.6 L569.7,239.6 L570.1,239.6 L570.4,239.6 L570.7,239.6 L571.1,239.6 L571.4,239.6 L571.7,239.6 L572.1,239.6 L572.4,239.6 L572.7,239.6 L573.1,239.6 L573.4,239.6 L573.7,239.6 L574.1,239.6 L574.4,239.6 L574.7,239.6 L575.1,239.6 L575.4,239.6 L575.7,239.6 L576.1,239.6 L576.4,239.6 L576.7,239.6 L577.1,239.6 L577.4,239.6 L577.7,239.6 L578,239.6 L578.4,239.6 L578.7,239.6 L579,239.6 L579.4,239.6 L579.7,239.6 L580,239.6 L580.4,239.6 L580.7,239.6 L581,239.6 L581.4,239.6 L581.7,239.6 L582,239.6 L582.4,239.6 L582.7,239.6 L583,239.6 L583.4,239.6 L583.7,239.6 L584,239.6 L584.4,239.6 L584.7,239.6 L585,239.6 L585.4,239.6 L585.7,239.6 L586,239.6 L586.4,239.6 L586.7,239.6 L587,239.6 L587.4,239.6 L587.7,239.6 L588,239.6 L588.4,239.6 L588.7,239.6 L589,239.6 L589.4,239.6 L589.7,239.6 L590,239.6 L590.4,239.6 L590.7,239.6 L591,239.6 L591.4,239.6 L591.7,239.6 L592,239.6 L592.4,239.6 L592.7,239.6 L593,239.6 L593.4,239.6 L593.7,239.6 L594,239.6 L594.4,239.6 L594.7,239.6 L595,239.6 L595.4,239.6 L595.7,239.6 L596,239.6 L596.4,239.6 L596.7,239.6 L597,239.6 L597.4,239.6 L597.7,239.6 L598,239.6 L598.4,239.6 L598.7,239.6 L599,239.6 L599.4,239.6 L599.7,239.6 L600,239.6 L600.4,239.6 L600.7,239.6 L601,239.6 L601.4,239.6 L601.7,239.6 L602,239.6 L602.3,239.6 L602.7,239.6 L603,239.6 L603.3,239.6 L603.7,239.5 L604,239.4 L604.3,239.3 L604.7,239.1 L605,239 L605.3,238.8 L605.7,238.7 L606,238.5 L606.3,238.1 L606.7,237.9 L607,237.5 L607.3,237 L607.7,236.6 L608,236 L608.3,235.6 L608.7,235.1 L609,234.3 L609.3,233.3 L609.7,232.5 L610,231.7 L610.3,230.9 L610.7,230.2 L611,229.5 L611.3,228.8 L611.7,228.2 L612,227.7 L612.3,227.2 L612.7,227 L613,227 L613.3,226.5 L613.7,226 L614,225.6 L614.3,225 L614.7,224.7 L615,224.5 L615.3,223.9 L615.7,223.3 L616,222.7 L616.3,222 L616.7,221.6 L617,221 L617.3,220.5 L617.7,220 L618,219.5 L618.3,219 L618.7,218.6 L619,218 L619.3,217.2 L619.7,216.7 L620,216.1 L620.3,215.4 L620.7,214.8 L621,214.3 L621.3,213.8 L621.7,213.5 L622,212.8 L622.3,212.5 L622.7,211.6 L623,210.8 L623.3,210.5 L623.7,209.6 L624,209.1 L624.3,208.2 L624.7,207.5 L625,206.7 L625.3,205.9 L625.6,205.9 L626,205.6 L626.3,205.6 L626.6,205.6 L627,205.4 L627.3,205.6 L627.6,205.7 L628,205.9 L628.3,205.8 L628.6,205.8 L629,205.7 L629.3,205.8 L629.6,206.2 L630,206.5 L630.3,207 L630.6,207.6 L631,208.2 L631.3,208.8 L631.6,209.2 L632,209.7 L632.3,209.9 L632.6,210.2 L633,210.9 L633.3,211.2 L633.6,211.9 L634,212.4 L634.3,212.9 L634.6,213.9 L635,214.5 L635.3,215.3 L635.6,215.7 L636,215.9 L636.3,216.4 L636.6,217.1 L637,218 L637.3,218.7 L637.6,219.3 L638,219.7 L638.3,219.9 L638.6,220.5 L639,221.2 L639.3,221.6 L639.6,222.3 L640,222.7 L640.3,223.2 L640.6,223.5 L641,224 L641.3,224.5 L641.6,225.2 L642,225.9 L642.3,226.5 L642.6,227.4 L643,227.8 L643.3,228.5 L643.6,229 L644,229.6 L644.3,230.5 L644.6,231.4 L645,232.1 L645.3,232.9 L645.6,233.2 L646,233.9 L646.3,234.5 L646.6,234.6 L647,235.6 L647.3,236 L647.6,236.4 L648,236.9 L648.3,236.9 L648.6,237 L648.9,237.2 L649.3,237.4 L649.6,237.6 L649.9,237.8 L650.3,238.1 L650.6,238.3 L650.9,238.5 L651.3,238.5 L651.6,238.6 L651.9,238.7 L652.3,238.7 L652.6,238.9 L652.9,239 L653.3,239.1 L653.6,239.2 L653.9,239.3 L654.3,239.4 L654.6,239.4 L654.9,239.5 L655.3,239.6 L655.6,239.6 L655.9,239.6 L656.3,239.6 L656.6,239.6 L656.9,239.6 L657.3,239.6 L657.6,239.6 L657.9,239.6 L658.3,239.6 L658.6,239.6 L658.9,239.6 L659.3,239.6 L659.6,239.6 L659.9,239.6 L660.3,239.6 L660.6,239.6 L660.9,239.6 L661.3,239.6 L661.6,239.6 L661.9,239.6 L662.3,239.6 L662.6,239.6 L662.9,239.6 L663.3,239.6 L663.6,239.6 L663.9,239.6 L664.3,239.6 L664.6,239.6 L664.9,239.6 L665.3,239.6 L665.6,239.6 L665.9,239.6 L666.3,239.6 L666.6,239.6 L666.9,239.6 L667.3,239.6 L667.6,239.6 L667.9,239.6 L668.3,239.6 L668.6,239.6 L668.9,239.6 L669.3,239.6 L669.6,239.6 L669.9,239.6 L670.3,239.6 L670.6,239.6 L670.9,239.6 L671.3,239.6 L671.6,239.6 L671.9,239.6 L672.3,239.6 L672.6,239.6 L672.9,239.6 L673.2,239.6 L673.6,239.6 L673.9,239.6 L674.2,239.6 L674.6,239.6 L674.9,239.6 L675.2,239.6 L675.6,239.6 L675.9,239.6 L676.2,239.6 L676.6,239.6 L676.9,239.6 L677.2,239.6 L677.6,239.6 L677.9,239.6 L678.2,239.6 L678.6,239.6 L678.9,239.6 L679.2,239.6 L679.6,239.6 L679.9,239.6 L680.2,239.6 L680.6,239.6 L680.9,239.6 L681.2,239.6 L681.6,239.6 L681.9,239.6 L682.2,239.6 L682.6,239.6 L682.9,239.6 L683.2,239.6 L683.6,239.6 L683.9,239.6 L684.2,239.6 L684.6,239.6 L684.9,239.6 L685.2,239.6 L685.6,239.6 L685.9,239.6 L686.2,239.6 L686.6,239.6 L686.9,239.6 L687.2,239.6 L687.6,239.6 L687.9,239.6 L688.2,239.6 L688.6,239.6 L688.9,239.6 L689.2,239.6 L689.6,239.6 L689.9,239.6 L690.2,239.6 L690.6,239.6 L690.9,239.6 L691.2,239.6 L691.6,239.6 L691.9,239.6 L692.2,239.6 L692.6,239.6 L692.9,239.6 L693.2,239.6 L693.6,239.6 L693.9,239.6 L694.2,239.6 L694.6,239.6 L694.9,239.6 L695.2,239.6 L695.6,239.6 L695.9,239.6 L696.2,239.6 L696.5,239.6 L696.9,239.6 L697.2,239.6 L697.5,239.6 L697.9,239.6 L698.2,239.6 L698.5,239.6 L698.9,239.6 L699.2,239.6 L699.5,239.6 L699.9,239.6 L700.2,239.6 L700.5,239.6 L700.9,239.6 L701.2,239.6 L701.5,239.6 L701.9,239.6 L702.2,239.6 L702.5,239.6 L702.9,239.6 L703.2,239.6 L703.5,239.6 L703.9,239.6 L704.2,239.6 L704.5,239.6 L704.9,239.6 L705.2,239.6 L705.5,239.6 L705.9,239.6 L706.2,239.6 L706.5,239.6 L706.9,239.6 L707.2,239.6 L707.5,239.6 L707.9,239.6 L708.2,239.6 L708.5,239.6 L708.9,239.6 L709.2,239.6 L709.5,239.6 L709.9,239.6 L710.2,239.6 L710.5,239.6 L710.9,239.6 L711.2,239.6 L711.5,239.6 L711.9,239.6 L712.2,239.6 L712.5,239.6 L712.9,239.6 L713.2,239.6 L713.5,239.6 L713.9,239.6 L714.2,239.6 L714.5,239.6 L714.9,239.6 L715.2,239.6 L715.5,239.6 L715.9,239.6 L716.2,239.6 L716.5,239.6 L716.9,239.6 L717.2,239.6 L717.5,239.6 L717.9,239.6 L718.2,239.6 L718.5,239.6 L718.9,239.6 L719.2,239.6 L719.5,239.6 L719.9,239.6 L720.2,239.6 L720.5,239.6 L720.8,239.6 L721.2,239.6 L721.5,239.6 L721.8,239.6 L722.2,239.6 L722.5,239.6 L722.8,239.6 L723.2,239.6 L723.5,239.6 L723.8,239.6 L724.2,239.6 L724.5,239.6 L724.8,239.6 L725.2,239.6 L725.5,239.6 L725.8,239.6 L726.2,239.6 L726.5,239.6 L726.8,239.6 L727.2,239.6 L727.5,239.6 L727.8,239.6 L728.2,239.6 L728.5,239.6 L728.8,239.6 L729.2,239.6 L729.5,239.6 L729.8,239.6 L730.2,239.6 L730.5,239.6 L730.8,239.6 L731.2,239.6 L731.5,239.6 L731.8,239.6 L732.2,239.6 L732.5,239.6 L732.8,239.6 L733.2,239.6 L733.5,239.6 L733.8,239.6 L734.2,239.6 L734.5,239.6 L734.8,239.6 L735.2,239.6 L735.5,239.6 L735.8,239.6 L736.2,239.6 L736.5,239.6 L736.8,239.6 L737.2,239.6 L737.5,239.6 L737.8,239.6 L738.2,239.6 L738.5,239.6 L738.8,239.6 L739.2,239.6 L739.5,239.6 L739.8,239.6 L740.2,239.6 L740.5,239.6 L740.8,239.6 L741.2,239.6 L741.5,239.6 L741.8,239.6 L742.2,239.6 L742.5,239.6 L742.8,239.6 L743.2,239.6 L743.5,239.6 L743.8,239.6 L744.1,239.6 L744.5,239.6 L744.8,239.6 L745.1,239.6 L745.5,239.6 L745.8,239.6 L746.1,239.6 L746.5,239.6 L746.8,239.6 L747.1,239.6 L747.5,239.6 L747.8,239.6 L748.1,239.6 L748.5,239.6 L748.8,239.6 L749.1,239.6 L749.5,239.6 L749.8,239.6 L750.1,239.6 L750.5,239.6 L750.8,239.6 L751.1,239.6 L751.5,239.6 L751.8,239.6 L752.1,239.6 L752.5,239.6 L752.8,239.6 L753.1,239.6 L753.5,239.6 L753.8,239.6 L754.1,239.6 L754.5,239.6 L754.8,239.6 L755.1,239.6 L755.5,239.6 L755.8,239.6 L756.1,239.6 L756.5,239.6 L756.8,239.6 L757.1,239.6 L757.5,239.6 L757.8,239.6 L758.1,239.6 L758.5,239.6 L758.8,239.6 L759.1,239.6 L759.5,239.6 L759.8,239.6 L760.1,239.6 L760.5,239.6 L760.8,239.6 L761.1,239.6 L761.5,239.6 L761.8,239.6 L762.1,239.6 L762.5,239.6 L762.8,239.6 L763.1,239.6 L763.5,239.6 L763.8,239.6 L764.1,239.6 L764.5,239.6 L764.8,239.6 L765.1,239.6 L765.5,239.6 L765.8,239.6 L766.1,239.6 L766.5,239.6 L766.8,239.6 L767.1,239.6 L767.4,239.6 L767.8,239.6 L768.1,239.6 L768.4,239.6 L768.8,239.6 L769.1,239.6 L769.4,239.6 L769.8,239.6 L770.1,239.6 L770.4,239.6 L770.8,239.6 L771.1,239.6 L771.4,239.6 L771.8,239.6 L772.1,239.6 L772.4,239.6 L772.8,239.6 L773.1,239.6 L773.4,239.6 L773.8,239.6 L774.1,239.6 L774.4,239.6 L774.8,239.6 L775.1,239.6 L775.4,239.6 L775.8,239.6 L776.1,239.6 L776.4,239.6 L776.8,239.6 L777.1,239.6 L777.4,239.6 L777.8,239.6 L778.1,239.6 L778.4,239.6 L778.8,239.6 L779.1,239.6 L779.4,239.6 L779.8,239.6 L780.1,239.6 L780.4,239.6 L780.8,239.6 L781.1,239.6 L781.4,239.6 L781.8,239.6 L782.1,239.5 L782.4,239.5 L782.8,239.4 L783.1,239.4 L783.4,239.3 L783.8,239.3 L784.1,239.2 L784.4,239.1 L784.8,239 L785.1,238.9 L785.4,238.8 L785.8,238.8 L786.1,238.7 L786.4,238.6 L786.8,238.4 L787.1,238.3 L787.4,238.3 L787.8,238.1 L788.1,238 L788.4,237.9 L788.8,237.6 L789.1,237.5 L789.4,237.3 L789.8,237 L790.1,237 L790.4,236.9 L790.8,236.8 L791.1,236.8 L791.4,236.7 L791.7,236.6 L792.1,236.6 L792.4,236.7 L792.7,236.4 L793.1,236.4 L793.4,236.1 L793.7,235.9 L794.1,235.8 L794.4,235.6 L794.7,235.7 L795.1,235.6 L795.4,235.5 L795.7,235.3 L796.1,235.1 L796.4,234.9 L796.7,234.8 L797.1,234.7 L797.4,234.5 L797.7,234.5 L798.1,234.5 L798.4,234.6 L798.7,234.7 L799.1,234.7 L799.4,234.7 L799.7,234.7 L800.1,234.5 L800.4,234.3 L800.7,234.3 L801.1,234 L801.4,234.1 L801.7,234 L802.1,234.1 L802.4,233.9 L802.7,233.8 L803.1,233.6 L803.4,233.5 L803.7,233.5 L804.1,233.4 L804.4,233.6 L804.7,233.5 L805.1,233.3 L805.4,233.3 L805.7,233 L806.1,232.8 L806.4,232.9 L806.7,232.9 L807.1,233 L807.4,232.9 L807.7,232.9 L808.1,233 L808.4,233.3 L808.7,233.1 L809.1,233.2 L809.4,233.1 L809.7,233.1 L810.1,233.2 L810.4,233.3 L810.7,233.3 L811.1,233.3 L811.4,233.5 L811.7,233.6 L812.1,233.8 L812.4,233.8 L812.7,233.7 L813.1,233.8 L813.4,233.9 L813.7,233.9 L814.1,234.3 L814.4,234.4 L814.7,234.4 L815,234.4 L815.4,234.5 L815.7,234.7 L816,234.8 L816.4,234.9 L816.7,234.7 L817,234.6 L817.4,234.7 L817.7,234.9 L818,235 L818.4,235 L818.7,235.4 L819,235.5 L819.4,235.7 L819.7,236 L820,236.1 L820.4,236.3 L820.7,236.4 L821,236.4 L821.4,236.6 L821.7,236.8 L822,236.8 L822.4,237 L822.7,237 L823,237.1 L823.4,237.4 L823.7,237.6 L824,237.6 L824.4,237.7 L824.7,237.6 L825,237.7 L825.4,237.8 L825.7,238.1 L826,238.2 L826.4,238.2 L826.7,238.2 L827,238.2 L827.4,238.2 L827.7,238.3 L828,238.4 L828.4,238.5 L828.7,238.6 L829,238.6 L829.4,238.7 L829.7,238.7 L830,238.8 L830.4,238.8 L830.7,238.8 L831,238.9 L831.4,238.9 L831.7,239 L832,239.1 L832.4,239.1 L832.7,239.2 L833,239.2 L833.4,239.2 L833.7,239.3 L834,239.3 L834.4,239.3 L834.7,239.4 L835,239.4 L835.4,239.4 L835.7,239.5 L836,239.5 L836.4,239.5 L836.7,239.6 L837,239.6 L837.4,239.6 L837.7,239.6 L838,239.6 L838.3,239.6 L838.7,239.6 L839,239.6 L839.3,239.6 L839.7,239.6 L840,239.6 L840.3,239.6 L840.7,239.6 L841,239.6 L841.3,239.6 L841.7,239.6 L842,239.6 L842.3,239.6 L842.7,239.6 L843,239.6 L843.3,239.6 L843.7,239.6 L844,239.5 L844.3,239.5 L844.7,239.5 L845,239.5 L845.3,239.5 L845.7,239.5 L846,239.4 L846.3,239.4 L846.7,239.4 L847,239.3 L847.3,239.3 L847.7,239.2 L848,239.2 L848.3,239.1 L848.7,239.1 L849,239.1 L849.3,239 L849.7,238.9 L850,238.8 L850.3,238.8 L850.7,238.7 L851,238.6 L851.3,238.5 L851.7,238.5 L852,238.4 L852.3,238.4 L852.7,238.2 L853,238.2 L853.3,238.1 L853.7,238.1 L854,238.1 L854.3,237.9 L854.7,237.9 L855,237.8 L855.3,237.7 L855.7,237.6 L856,237.6 L856.3,237.5 L856.7,237.3 L857,237.4 L857.3,237.3 L857.7,237.1 L858,236.9 L858.3,236.8 L858.7,236.7 L859,236.3 L859.3,236.3 L859.7,236 L860,236.1 L860.3,236.1 L860.7,235.9 L861,235.8 L861.3,235.6 L861.7,235.3 L862,235.1 L862.3,234.6 L862.6,234 L863,233.5 L863.3,232.9 L863.6,232.2 L864,231.8 L864.3,231.1 L864.6,230.7 L865,230.4 L865.3,229.8 L865.6,229.3 L866,228.7 L866.3,228.2 L866.6,227.8 L867,227.4 L867.3,227 L867.6,226.4 L868,225.8 L868.3,225.2 L868.6,224.7 L869,224.3 L869.3,223.9 L869.6,223.9 L870,223.6 L870.3,223 L870.6,222.9 L871,222.3 L871.3,222.1 L871.6,222.5 L872,222.2 L872.3,222.2 L872.6,221.9 L873,221.5 L873.3,221.6 L873.6,221.6 L874,221.5 L874.3,221.6 L874.6,221.4 L875,221.3 L875.3,221.6 L875.6,221.6 L876,221.7 L876.3,221.7 L876.6,221.6 L877,221.6 L877.3,222 L877.6,222 L878,222.3 L878.3,222.5 L878.6,222.6 L879,222.9 L879.3,223.2 L879.6,223.3 L880,223.5 L880.3,223.7 L880.6,223.9 L881,223.9 L881.3,224.1 L881.6,224.3 L882,224.3 L882.3,224.6 L882.6,224.5 L883,224.8 L883.3,225 L883.6,225.5 L884,225.8 L884.3,226.3 L884.6,226.7 L885,227 L885.3,227.4 L885.6,227.5 L885.9,227.7 L886.3,228.1 L886.6,228.6 L886.9,229 L887.3,229.4 L887.6,229.9 L887.9,230.2 L888.3,230.6 L888.6,231.3 L888.9,231.9 L889.3,232.4 L889.6,232.6 L889.9,232.7 L890.3,232.9 L890.6,233.4 L890.9,233.9 L891.3,234.4 L891.6,234.8 L891.9,235 L892.3,235.5 L892.6,235.6 L892.9,235.8 L893.3,236 L893.6,236.1 L893.9,236.3 L894.3,236.4 L894.6,236.5 L894.9,236.5 L895.3,236.7 L895.6,237.1 L895.9,237.2 L896.3,237.4 L896.6,237.4 L896.9,237.2 L897.3,237.2 L897.6,237.1 L897.9,236.9 L898.3,237.1 L898.6,236.9 L898.9,236.9 L899.3,236.9 L899.6,236.7 L899.9,236.8 L900.3,236.7 L900.6,236.7 L900.9,236.7 L901.3,236.7 L901.6,236.4 L901.9,236.5 L902.3,236.7 L902.6,236.7 L902.9,237 L903.3,236.8 L903.6,236.7 L903.9,236.6 L904.3,236.5 L904.6,236.8 L904.9,236.8 L905.3,236.9 L905.6,236.9 L905.9,236.9 L906.3,237.1 L906.6,237.2 L906.9,237.3 L907.3,237.5 L907.6,237.6 L907.9,237.6 L908.3,237.7 L908.6,237.8 L908.9,238 L909.3,238.1 L909.6,238.2 L909.9,238.1 L910.2,238.1 L910.6,238.1 L910.9,238.2 L911.2,238.3 L911.6,238.2 L911.9,238.3 L912.2,238.3 L912.6,238.3 L912.9,238.3" fill="none" stroke="#ff69b4" stroke-width="6" stroke-linejoin="round" stroke-linecap="round" />
<path d="M544.5,285.4 L602.6,285.4 L603.6,277.6 L604.6,285.4 L780.9,285.4 L781.9,277.6 L782.9,285.4 L860.1,285.4 L861.1,277.6 L862.1,285.4 L915.5,285.4" fill="none" stroke="#2e8b57" stroke-width="6" stroke-linejoin="round" stroke-linecap="round" />
<path d="M544.5,323.6 L602.6,323.6 L603.6,302.7 L604.6,323.6 L780.9,323.6 L781.9,319.6 L782.9,323.6 L860.1,323.6 L861.1,303.7 L862.1,323.6 L915.5,323.6" fill="none" stroke="#ff69b4" stroke-width="6" stroke-linejoin="round" stroke-linecap="round" />
</g>
<line x1="603.6" y1="55.7" x2="603.6" y2="266.3" stroke="#000" stroke-width="6" stroke-linecap="butt" stroke-dasharray="21.95 9.49"/>
<line x1="781.9" y1="55.7" x2="781.9" y2="266.3" stroke="#000" stroke-width="6" stroke-linecap="butt" stroke-dasharray="21.95 9.49"/>
<line x1="861.1" y1="55.7" x2="861.1" y2="266.3" stroke="#000" stroke-width="6" stroke-linecap="butt" stroke-dasharray="21.95 9.49"/>
<line x1="549.5" y1="337.5" x2="910.5" y2="337.5" stroke="#000" stroke-width="2.7" stroke-linecap="square" />
<line x1="549.5" y1="337.5" x2="549.5" y2="351" stroke="#000" stroke-width="2.7" stroke-linecap="butt" />
<text x="549.5" y="381.8" font-size="24" font-weight="400" text-anchor="middle" >1.0</text>
<line x1="669.8" y1="337.5" x2="669.8" y2="351" stroke="#000" stroke-width="2.7" stroke-linecap="butt" />
<text x="669.8" y="381.8" font-size="24" font-weight="400" text-anchor="middle" >1.5</text>
<line x1="790.2" y1="337.5" x2="790.2" y2="351" stroke="#000" stroke-width="2.7" stroke-linecap="butt" />
<text x="790.2" y="381.8" font-size="24" font-weight="400" text-anchor="middle" >2.0</text>
<line x1="910.5" y1="337.5" x2="910.5" y2="351" stroke="#000" stroke-width="2.7" stroke-linecap="butt" />
<text x="910.5" y="381.8" font-size="24" font-weight="400" text-anchor="middle" >2.5</text>
<text x="910" y="122" font-size="28" font-weight="400" text-anchor="start" >(1)</text>
<text x="910" y="171.2" font-size="28" font-weight="400" text-anchor="start" >(2)</text>
<text x="910" y="239.2" font-size="28" font-weight="400" text-anchor="start" >(3)</text>
<rect x="608.8" y="393.9" width="339.2" height="87.8" rx="5.5" ry="5.5" fill="#fff" stroke="#d6d6d6" stroke-width="3.6"/>
<line x1="616" y1="415.5" x2="677.9" y2="415.5" stroke="#2e8b57" stroke-width="6.2" stroke-linecap="butt" />
<line x1="616" y1="455.5" x2="677.9" y2="455.5" stroke="#ff69b4" stroke-width="6.2" stroke-linecap="butt" />
<text x="696.7" y="425.2" font-size="28" font-weight="400" text-anchor="start"  textLength="221.2" lengthAdjust="spacing">Only &quot;on&quot; at onset</text>
<text x="696.2" y="465.2" font-size="28" font-weight="400" text-anchor="start"  textLength="241.5" lengthAdjust="spacing">Modulated by value</text>
<path d="M126.8,870.8 L127.4,870.3 L128,869.9 L128.6,869.6 L129.2,869.3 L129.8,869.1 L130.4,868.9 L131,868.8 L131.6,868.7 L132.2,868.7 L132.8,868.7 L133.4,868.8 L134,869.1 L134.6,869.4 L135.2,869.8 L135.8,870.3 L136.4,870.9 L137,871.5 L137.6,872.2 L138.2,872.9 L138.8,873.6 L139.4,874.3 L140,875 L140.6,875.6 L141.2,876.2 L141.8,876.8 L142.4,877.4 L143,878 L143.6,878.7 L144.2,879.3 L144.8,880 L145.4,880.8 L146,881.5 L146.6,882.4 L147.2,883.5 L147.8,884.7 L148.4,885.8 L149,886.9 L149.6,887.7 L150.2,888.1 L150.8,888.2 L151.4,888.1 L152,887.9 L152.6,887.7 L153.2,887.4 L153.8,887.1 L154.4,886.8 L155,886.4 L155.6,886.1 L156.2,885.8 L156.8,885.5 L157.4,885.2 L158,885 L158.6,884.8 L159.2,884.5 L159.8,884.3 L160.4,884 L161,883.8 L161.6,883.5 L162.2,883.3 L162.8,883 L163.4,882.8 L164,882.5 L164.6,882.2 L165.2,881.8 L165.8,881.4 L166.4,881 L167,880.7 L167.6,880.4 L168.2,880.3 L168.8,880.3 L169.4,880.5 L170,880.8 L170.6,881.2 L171.2,881.6 L171.8,882 L172.4,882.4 L173,882.8 L173.6,883 L174.2,883.3 L174.8,883.5 L175.4,883.7 L176,883.9 L176.6,884.1 L177.2,884.3 L177.8,884.4 L178.4,884.5 L179,884.5 L179.6,884.4 L180.2,884.2 L180.8,883.9 L181.4,883.5 L182,883.1 L182.6,882.6 L183.2,882.1 L183.8,881.6 L184.4,881 L185,880.5 L185.6,880.1 L186.2,879.5 L186.8,879 L187.4,878.4 L188,877.8 L188.6,877.1 L189.2,876.5 L189.8,875.8 L190.4,875.2 L191,874.6 L191.6,874 L192.2,873.5 L192.8,873 L193.4,872.6 L194,872.2 L194.6,871.9 L195.2,871.5 L195.8,871.2 L196.4,870.9 L197,870.7 L197.6,870.5 L198.2,870.5 L198.8,870.6 L199.4,870.7 L200,870.8 L200.6,871 L201.2,871.3 L201.8,871.6 L202.4,871.9 L203,872.2 L203.6,872.6 L204.2,872.9 L204.8,873.3 L205.4,873.9 L206,874.5 L206.6,875.2 L207.2,876 L207.8,876.8 L208.4,877.6 L209,878.5 L209.6,879.2 L210.2,880 L210.8,880.6 L211.4,881.3 L212,882.1 L212.6,882.9 L213.2,883.7 L213.8,884.4 L214.4,885.2 L215,885.9 L215.6,886.5 L216.2,886.9 L216.8,887.3 L217.4,887.5 L218,887.6 L218.6,887.5 L219.2,887.1 L219.8,886.7 L220.4,886.1 L221,885.6 L221.6,885 L222.2,884.5 L222.8,884.1 L223.4,883.8 L224,883.6 L224.6,883.3 L225.2,883.1 L225.8,882.9 L226.4,882.8 L227,882.6 L227.6,882.4 L228.2,882.2 L228.8,882 L229.4,881.8 L230,881.5 L230.6,881.3 L231.2,881 L231.8,880.8 L232.4,880.6 L233,880.4 L233.6,880.3 L234.2,880.2 L234.8,880.1 L235.4,880.1 L236,880.2 L236.6,880.3 L237.2,880.5 L237.8,880.7 L238.4,880.9 L239,881.2 L239.6,881.4 L240.2,881.7 L240.8,881.9 L241.4,882.2 L242,882.5 L242.6,882.8 L243.2,883.1 L243.8,883.5 L244.4,883.9 L245,884.2 L245.6,884.5 L246.2,884.7 L246.8,884.8 L247.4,884.9 L248,884.8 L248.6,884.5 L249.2,884 L249.8,883.4 L250.4,882.7 L251,881.9 L251.6,881.1 L252.2,880.2 L252.8,879.3 L253.4,878.5 L254,877.7 L254.6,876.9 L255.2,876.3 L255.8,875.8 L256.4,875.4 L257,874.9 L257.6,874.4 L258.2,874 L258.8,873.5 L259.4,873 L260,872.6 L260.6,872.2 L261.2,871.8 L261.8,871.5 L262.4,871.2 L263,870.9 L263.6,870.7 L264.2,870.6 L264.8,870.5 L265.4,870.5 L266,870.5 L266.6,870.6 L267.2,870.7 L267.8,870.8 L268.4,871 L269,871.2 L269.6,871.4 L270.2,871.6 L270.8,871.9 L271.4,872.2 L272,872.5 L272.6,872.8 L273.2,873.2 L273.8,873.6 L274.4,874.5 L275,875.7 L275.6,877.1 L276.2,878.6 L276.8,880 L277.4,881.4 L278,882.5 L278.6,883.3 L279.2,883.8 L279.8,884.2 L280.4,884.6 L281,885 L281.6,885.3 L282.2,885.7 L282.8,885.9 L283.4,886.2 L284,886.4 L284.6,886.6 L285.2,886.8 L285.8,886.9 L286.4,887 L287,887 L287.6,887 L288.2,886.8 L288.8,886.7 L289.4,886.5 L290,886.2 L290.6,885.9 L291.2,885.6 L291.8,885.3 L292.4,884.9 L293,884.6 L293.6,884.3 L294.2,884 L294.8,883.8 L295.4,883.7 L296,883.5 L296.6,883.5 L297.2,883.5 L297.8,883.5 L298.4,883.6 L299,883.7 L299.6,883.8 L300.2,883.9 L300.8,884 L301.4,884.1 L302,884.2 L302.6,884.3 L303.2,884.4 L303.8,884.5 L304.4,884.6 L305,884.7 L305.6,884.8 L306.2,884.8 L306.8,884.9 L307.4,884.9 L308,884.9 L308.6,884.9 L309.2,884.8 L309.8,884.7 L310.4,884.6 L311,884.4 L311.6,884.3 L312.2,884.1 L312.8,883.9 L313.4,883.7 L314,883.5 L314.6,883.3 L315.2,883 L315.8,882.8 L316.4,882.5 L317,882.2 L317.6,881.8 L318.2,881.3 L318.8,880.8 L319.4,880.3 L320,879.8 L320.6,879.2 L321.2,878.6 L321.8,878 L322.4,877.4 L323,876.9 L323.6,876.3 L324.2,875.8 L324.8,875.3 L325.4,874.7 L326,874 L326.6,873.4 L327.2,872.7 L327.8,872.1 L328.4,871.4 L329,870.9 L329.6,870.4 L330.2,869.9 L330.8,869.6 L331.4,869.3 L332,869.2 L332.6,869.2 L333.2,869.3 L333.8,869.4 L334.4,869.5 L335,869.8 L335.6,870 L336.2,870.4 L336.8,870.8 L337.4,871.2 L338,871.8 L338.6,872.4 L338.8,872.6" fill="none" stroke="#000" stroke-width="6" stroke-linejoin="round" stroke-linecap="butt" stroke-dasharray="22.2 9.6"/>
<path d="M126.8,916 L127.4,916.2 L128,916.5 L128.6,916.4 L129.2,916.7 L129.8,916.9 L130.4,916.6 L131,916.5 L131.6,917.6 L132.2,919 L132.8,919.7 L133.4,919.9 L134,919.2 L134.6,919.2 L135.2,919.1 L135.8,919.1 L136.4,918.9 L137,919 L137.6,919.4 L138.2,919.6 L138.8,919.8 L139.4,919.9 L140,920.8 L140.6,920.7 L141.2,920.8 L141.8,920.6 L142.4,920.7 L143,920.6 L143.6,920.5 L144.2,920.9 L144.8,921.5 L145.4,922.1 L146,921.4 L146.6,921.1 L147.2,920.6 L147.8,921.3 L148.4,921.3 L149,921.4 L149.6,921.6 L150.2,921.9 L150.8,921.7 L151.4,921.9 L152,922.2 L152.6,922.5 L153.2,922.3 L153.8,921.7 L154.4,922.3 L155,921.8 L155.6,921.7 L156.2,920.9 L156.8,920.5 L157.4,920.5 L158,920.4 L158.6,920.2 L159.2,919.6 L159.8,917.9 L160.4,917.5 L161,916.6 L161.6,917.5 L162.2,917.4 L162.8,917.8 L163.4,917.2 L164,916.4 L164.6,916 L165.2,915.7 L165.8,915.3 L166.4,914.9 L167,915.4 L167.6,915.5 L168.2,916 L168.8,915.5 L169.4,915.4 L170,914.9 L170.6,915.1 L171.2,915.3 L171.8,915.3 L172.4,914.9 L173,914.3 L173.6,914.7 L174.2,914.7 L174.8,914.9 L175.4,914.7 L176,915.2 L176.6,915.4 L177.2,914.7 L177.8,915.1 L178.4,915.1 L179,915.4 L179.6,914.6 L180.2,914 L180.8,913.4 L181.4,913.6 L182,914.3 L182.6,914.8 L183.2,914.3 L183.8,913.8 L184.4,913.9 L185,913.9 L185.6,914.9 L186.2,915.5 L186.8,917.1 L187.4,917.2 L188,916.8 L188.6,915.7 L189.2,914.4 L189.8,914.6 L190.4,915 L191,916.6 L191.6,917.2 L192.2,917.6 L192.8,917.6 L193.4,917.8 L194,918.4 L194.6,918.2 L195.2,918.2 L195.8,917.5 L196.4,918.8 L197,919.7 L197.6,920.7 L198.2,920.1 L198.8,920.1 L199.4,920 L200,920.7 L200.6,920.9 L201.2,921.4 L201.8,921.4 L202.4,922 L203,922 L203.6,922.1 L204.2,921.8 L204.8,921.6 L205.4,922 L206,921.9 L206.6,922.2 L207.2,921.7 L207.8,921.3 L208.4,921.5 L209,921.3 L209.6,922 L210.2,921.8 L210.8,921.6 L211.4,921 L212,920.7 L212.6,920.9 L213.2,920.8 L213.8,921.2 L214.4,921.4 L215,921.8 L215.6,921.4 L216.2,921.6 L216.8,921.1 L217.4,921.2 L218,921.3 L218.6,921.5 L219.2,921.3 L219.8,920.7 L220.4,920.7 L221,920.9 L221.6,921.1 L222.2,920.7 L222.8,920.6 L223.4,921.4 L224,921.4 L224.6,921.1 L225.2,920.2 L225.8,919.3 L226.4,919 L227,918.4 L227.6,919.5 L228.2,919.2 L228.8,918.9 L229.4,918.2 L230,918.1 L230.6,917.9 L231.2,917.7 L231.8,917 L232.4,916.9 L233,917 L233.6,917.9 L234.2,918 L234.8,917.6 L235.4,917.2 L236,917.1 L236.6,917.5 L237.2,917.3 L237.8,916.8 L238.4,916.3 L239,915.9 L239.6,916 L240.2,915.9 L240.8,915.6 L241.4,914.8 L242,914.6 L242.6,914.2 L243.2,915.1 L243.8,915.4 L244.4,915.6 L245,916 L245.6,916.4 L246.2,917.1 L246.8,917.6 L247.4,918.1 L248,917.8 L248.6,917.8 L249.2,917.5 L249.8,918.2 L250.4,918.3 L251,918 L251.6,917.8 L252.2,917.4 L252.8,917.5 L253.4,917.7 L254,917.6 L254.6,917.6 L255.2,917.9 L255.8,918.4 L256.4,918.9 L257,918.2 L257.6,918 L258.2,917.7 L258.8,918.4 L259.4,918.6 L260,919.1 L260.6,919.1 L261.2,919.4 L261.8,919.1 L262.4,919.4 L263,919.3 L263.6,919.8 L264.2,919.7 L264.8,920 L265.4,919.7 L266,919.7 L266.6,920 L267.2,920.4 L267.8,920.4 L268.4,920.4 L269,920.1 L269.6,920.4 L270.2,920.2 L270.8,919.4 L271.4,919.5 L272,919.6 L272.6,919.9 L273.2,919.4 L273.8,919 L274.4,920.1 L275,920.4 L275.6,920.1 L276.2,919.6 L276.8,919.3 L277.4,920.5 L278,920 L278.6,919.3 L279.2,918.7 L279.8,919 L280.4,919.6 L281,918.8 L281.6,919.1 L282.2,919.8 L282.8,919.9 L283.4,920.1 L284,919.4 L284.6,920.8 L285.2,920.5 L285.8,920.7 L286.4,920.3 L287,920.3 L287.6,920.1 L288.2,920 L288.8,919.7 L289.4,919.3 L290,919.7 L290.6,919.8 L291.2,920.2 L291.8,919.6 L292.4,919 L293,918.6 L293.6,918.1 L294.2,918.1 L294.8,918.3 L295.4,918.5 L296,918.1 L296.6,917.8 L297.2,917.2 L297.8,916.6 L298.4,916.1 L299,915.2 L299.6,915.5 L300.2,915.3 L300.8,915.3 L301.4,914.2 L302,913.9 L302.6,913.5 L303.2,914 L303.8,913.8 L304.4,913.6 L305,913.6 L305.6,913.7 L306.2,913.6 L306.8,913.6 L307.4,913.1 L308,913.1 L308.6,912.6 L309.2,912.3 L309.8,912.2 L310.4,912 L311,912.6 L311.6,913.2 L312.2,913 L312.8,913 L313.4,912.4 L314,912.5 L314.6,912.2 L315.2,912.3 L315.8,912.9 L316.4,912.6 L317,912.1 L317.6,911.7 L318.2,911.5 L318.8,911.8 L319.4,910.5 L320,911.1 L320.6,911.7 L321.2,913.3 L321.8,913.6 L322.4,914.3 L323,914.4 L323.6,914.8 L324.2,914.3 L324.8,914.6 L325.4,915 L326,915.7 L326.6,915.7 L327.2,915.7 L327.8,915.8 L328.4,916.2 L329,916.4 L329.6,916.6 L330.2,916.6 L330.8,916.3 L331.4,917.2 L332,917.5 L332.6,918.1 L333.2,917.9 L333.8,918.8 L334.4,918.6 L335,918.4 L335.6,918.5 L336.2,919.3 L336.8,919.4 L337.4,919.1 L338,919.3 L338.6,920.1 L338.8,920.5" fill="none" stroke="#ff69b4" stroke-width="6" stroke-linejoin="round" stroke-linecap="round" />
<path d="M126.8,919.9 L127.4,919.8 L128,919.4 L128.6,919.6 L129.2,918.8 L129.8,918.5 L130.4,917.9 L131,917.7 L131.6,917.5 L132.2,917.4 L132.8,917.4 L133.4,917.2 L134,916.6 L134.6,916.5 L135.2,916.4 L135.8,916.8 L136.4,917.1 L137,916.4 L137.6,915.7 L138.2,915.3 L138.8,915.7 L139.4,916.8 L140,916.8 L140.6,916.2 L141.2,915.6 L141.8,915 L142.4,914.7 L143,915.2 L143.6,915.5 L144.2,916.1 L144.8,915.4 L145.4,915.8 L146,915.5 L146.6,915.7 L147.2,914.7 L147.8,914.1 L148.4,914.1 L149,914.9 L149.6,915.5 L150.2,915.1 L150.8,914.6 L151.4,914.2 L152,914.6 L152.6,914.8 L153.2,915.3 L153.8,915 L154.4,915.2 L155,915.3 L155.6,915.5 L156.2,914.9 L156.8,915 L157.4,915.6 L158,916 L158.6,915.9 L159.2,915.6 L159.8,916.3 L160.4,916.7 L161,916 L161.6,916 L162.2,915.6 L162.8,916 L163.4,916.2 L164,916.6 L164.6,917.3 L165.2,918.4 L165.8,918.9 L166.4,919.1 L167,918 L167.6,917.8 L168.2,917.4 L168.8,917.8 L169.4,917.9 L170,918.3 L170.6,918.7 L171.2,919 L171.8,919 L172.4,918.9 L173,919.6 L173.6,920.4 L174.2,921.4 L174.8,921.8 L175.4,921.9 L176,921.9 L176.6,921.2 L177.2,922.2 L177.8,922.5 L178.4,923 L179,921.8 L179.6,921.6 L180.2,921 L180.8,921.1 L181.4,921.2 L182,921.9 L182.6,921.9 L183.2,922 L183.8,921.6 L184.4,921.8 L185,921.3 L185.6,921.3 L186.2,921.3 L186.8,921.1 L187.4,921.9 L188,921.5 L188.6,922.4 L189.2,921.4 L189.8,921.7 L190.4,920.6 L191,920.4 L191.6,920.2 L192.2,920.7 L192.8,920.7 L193.4,920.9 L194,920.3 L194.6,920.7 L195.2,920.3 L195.8,920.6 L196.4,919.8 L197,919.9 L197.6,919.6 L198.2,919.8 L198.8,918.6 L199.4,917.5 L200,916.9 L200.6,917.1 L201.2,917.2 L201.8,916.9 L202.4,916.3 L203,916.6 L203.6,916.6 L204.2,916.4 L204.8,916.1 L205.4,916.2 L206,916.3 L206.6,915.6 L207.2,914.9 L207.8,914.5 L208.4,914.5 L209,915 L209.6,915.5 L210.2,915.8 L210.8,916 L211.4,915.9 L212,915.4 L212.6,914.6 L213.2,914.4 L213.8,914.4 L214.4,914.9 L215,915 L215.6,914.9 L216.2,914.8 L216.8,914.8 L217.4,915.3 L218,915.5 L218.6,915.7 L219.2,915.6 L219.8,915.5 L220.4,915.3 L221,916 L221.6,916.2 L222.2,916.6 L222.8,916.5 L223.4,917.4 L224,916.8 L224.6,917.1 L225.2,916.8 L225.8,917.1 L226.4,916.5 L227,916.8 L227.6,917 L228.2,917.2 L228.8,917.6 L229.4,917.5 L230,917.3 L230.6,917.3 L231.2,918 L231.8,918.8 L232.4,918.3 L233,918.6 L233.6,918.5 L234.2,919.6 L234.8,919 L235.4,919.1 L236,918.6 L236.6,918.6 L237.2,918.5 L237.8,919.2 L238.4,919.7 L239,919.9 L239.6,920 L240.2,920.7 L240.8,921.5 L241.4,921.1 L242,921 L242.6,921.2 L243.2,921.4 L243.8,921.4 L244.4,921.4 L245,922.3 L245.6,922.4 L246.2,921.3 L246.8,920.5 L247.4,920.6 L248,921.5 L248.6,922.3 L249.2,922.6 L249.8,922.4 L250.4,922.3 L251,921.9 L251.6,922.1 L252.2,921.7 L252.8,922.7 L253.4,922.8 L254,922.5 L254.6,921 L255.2,920.3 L255.8,919.7 L256.4,919.5 L257,919.1 L257.6,919.6 L258.2,919.4 L258.8,919.1 L259.4,918.1 L260,917.6 L260.6,917.7 L261.2,917.9 L261.8,918.4 L262.4,918.1 L263,918.3 L263.6,917.8 L264.2,917.8 L264.8,916.6 L265.4,915.9 L266,915.9 L266.6,916.8 L267.2,917.1 L267.8,917 L268.4,916.2 L269,915.8 L269.6,915.1 L270.2,915.4 L270.8,915.5 L271.4,915.5 L272,914.9 L272.6,914.9 L273.2,914.9 L273.8,914.6 L274.4,914.9 L275,914.8 L275.6,915.1 L276.2,914.9 L276.8,915.2 L277.4,915.1 L278,914.8 L278.6,914.1 L279.2,913.9 L279.8,913 L280.4,913.8 L281,913.4 L281.6,914.4 L282.2,913.8 L282.8,914.1 L283.4,913.9 L284,914.3 L284.6,914.9 L285.2,915.6 L285.8,915.7 L286.4,915.8 L287,915.1 L287.6,915.3 L288.2,915.1 L288.8,915.2 L289.4,915 L290,915 L290.6,915.3 L291.2,915.5 L291.8,915.5 L292.4,915.2 L293,915.4 L293.6,915.1 L294.2,915.2 L294.8,915.6 L295.4,915.4 L296,915.5 L296.6,915.4 L297.2,915.9 L297.8,917.2 L298.4,916.3 L299,917.5 L299.6,917.4 L300.2,918.8 L300.8,918.5 L301.4,918.3 L302,917.9 L302.6,918.5 L303.2,918.3 L303.8,918.7 L304.4,919 L305,919.2 L305.6,919.4 L306.2,919.4 L306.8,919.5 L307.4,920.2 L308,920.4 L308.6,920.6 L309.2,920.3 L309.8,920.1 L310.4,920.5 L311,920.6 L311.6,920.7 L312.2,921.3 L312.8,921 L313.4,921.6 L314,921.2 L314.6,921.7 L315.2,921.2 L315.8,920.9 L316.4,920.2 L317,920.4 L317.6,920.8 L318.2,921.7 L318.8,921.8 L319.4,921.4 L320,920.5 L320.6,920 L321.2,919.7 L321.8,920.1 L322.4,920.1 L323,919.6 L323.6,918.7 L324.2,918.6 L324.8,918.8 L325.4,918.8 L326,918.5 L326.6,918.1 L327.2,917.9 L327.8,917.1 L328.4,916.4 L329,916.6 L329.6,916.2 L330.2,916.5 L330.8,915.8 L331.4,916.3 L332,916.3 L332.6,916.4 L333.2,915.4 L333.8,915.2 L334.4,914.5 L335,915 L335.6,915 L336.2,915.3 L336.8,915.7 L337.4,915.6 L338,915.6 L338.6,914.8 L338.8,914.5" fill="none" stroke="#2e8b57" stroke-width="6" stroke-linejoin="round" stroke-linecap="round" />
<path d="M406.9,838 L407.5,836.5 L408.1,835.2 L408.7,834.2 L409.3,833.3 L409.9,832.5 L410.5,832 L411.1,831.6 L411.7,831.3 L412.3,831.1 L412.9,831.1 L413.5,831.2 L414.1,831.7 L414.7,832.3 L415.3,833.3 L415.9,834.4 L416.5,835.7 L417.1,837.1 L417.7,838.7 L418.3,840.9 L418.9,845 L419.5,849.4 L420.1,852.1 L420.7,854.1 L421.3,856 L421.9,857.8 L422.5,859.2 L423.1,860.4 L423.7,861.3 L424.3,861.7 L424.9,861.8 L425.5,861.6 L426.1,861.2 L426.7,860.8 L427.3,860.4 L427.9,860.1 L428.5,859.8 L429.1,859.6 L429.7,859.4 L430.3,859.2 L430.9,858.9 L431.5,858.6 L432.1,858.1 L432.7,855.7 L433.3,850.5 L433.9,846.2 L434.5,845.3 L435.1,844.8 L435.7,844.4 L436.3,844 L436.9,843.7 L437.5,843.4 L438.1,843.2 L438.7,843 L439.3,842.9 L439.9,842.8 L440.5,842.8 L441.1,842.8 L441.7,843.1 L442.3,843.5 L442.9,844 L443.5,844.6 L444.1,845.2 L444.7,845.7 L445.3,846.3 L445.9,846.8 L446.5,847.3 L447.1,847.8 L447.7,848.4 L448.3,849 L448.9,849.8 L449.5,850.8 L450.1,852.5 L450.7,854.8 L451.3,857.2 L451.9,859.5 L452.5,861.2 L453.1,861.8 L453.7,861.7 L454.3,861.3 L454.9,860.7 L455.5,859.9 L456.1,859 L456.7,858 L457.3,856.9 L457.9,855.7 L458.5,854.6 L459.1,853.4 L459.7,852.1 L460.3,850.7 L460.9,849 L461.5,847 L462.1,844.6 L462.7,841.7 L463.3,837.1 L463.9,831.1 L464.5,824.5 L465.1,817.8 L465.7,810.3 L466.3,802.2 L466.9,794.1 L467.5,786.1 L468.1,777.8 L468.7,769.7 L469.3,761.8 L469.9,754.6 L470.5,747.9 L471.1,741.3 L471.7,734.4 L472.3,726.6 L472.9,718.2 L473.5,709.4 L474.1,700 L474.7,690.6 L475.3,682.2 L475.9,675.4 L476.5,669.5 L477.1,663.8 L477.7,658 L478.3,651.1 L478.9,644.1 L479.5,638.6 L480.1,635.9 L480.7,633.7 L481.3,631.9 L481.9,630.5 L482.5,629.5 L483.1,629 L483.7,629.1 L484.3,629.4 L484.9,630.1 L485.5,631 L486.1,632.6 L486.7,637.8 L487.3,645 L487.9,652.4 L488.5,659 L489.1,665.8 L489.7,672.8 L490.3,680.1 L490.9,687.7 L491.5,696.2 L492.1,704.7 L492.7,711.6 L493.3,717 L493.9,722.9 L494.5,730.9 L495.1,740.6 L495.7,749.8 L496.3,757.8 L496.9,765.4 L497.5,772.6 L498.1,779.5 L498.7,786.4 L499.3,793.3 L499.9,799.9 L500.5,805.8 L501.1,810.5 L501.7,814.3 L502.3,817.8 L502.9,820.8 L503.5,823.6 L504.1,826.2 L504.7,828.7 L505.3,831.1 L505.9,833.6 L506.5,836.1 L507.1,838.5 L507.7,840.5 L508.3,842.1 L508.9,843.1 L509.5,843.8 L510.1,844.3 L510.7,844.7 L511.3,845 L511.9,845.3 L512.5,845.6 L513.1,845.9 L513.7,846.3 L514.3,846.8 L514.9,847.4 L515.5,848.2 L516.1,849.1 L516.7,850.1 L517.3,851.2 L517.9,852.4 L518.5,853.5 L519.1,854.6 L519.7,855.7 L520.3,856.7 L520.9,857.5 L521.5,858.5 L522.1,859.5 L522.7,860.5 L523.3,861.5 L523.9,862.4 L524.5,863.2 L525.1,863.9 L525.7,864.4 L526.3,864.7 L526.9,864.7 L527.5,864.6 L528.1,864.3 L528.7,864 L529.3,863.5 L529.9,863 L530.5,862.5 L531.1,861.9 L531.7,861.2 L532.3,860.6 L532.9,859.9 L533.5,858.9 L534.1,857.6 L534.7,856.1 L535.3,854.5 L535.9,852.8 L536.5,851.1 L537.1,849.6 L537.7,848.2 L538.3,847.1 L538.9,846.3 L539.5,845.6 L540.1,844.9 L540.7,844.2 L541.3,843.5 L541.9,842.9 L542.5,842.4 L543.1,841.9 L543.7,841.4 L544.3,841.1 L544.9,840.8 L545.5,840.6 L546.1,840.5 L546.7,840.5 L547.3,840.5 L547.9,840.5 L548.5,840.5 L549.1,840.5 L549.7,840.5 L550.3,840.5 L550.9,840.5 L551.5,840.5 L552.1,840.5 L552.7,840.5 L553.3,840.7 L553.9,841.1 L554.5,841.5 L555.1,842.1 L555.7,842.7 L556.3,843.5 L556.9,844.2 L557.5,845 L558.1,845.8 L558.7,846.6 L559.3,847.3 L559.9,848 L560.5,848.7 L561.1,849.5 L561.7,850.3 L562.3,851.2 L562.9,852.1 L563.5,853 L564.1,853.9 L564.7,854.7 L565.3,855.4 L565.9,856.1 L566.5,856.6 L567.1,857 L567.7,857.2 L568.3,857.4 L568.9,857.6 L569.5,857.8 L570.1,857.9 L570.7,858.1 L571.3,858.2 L571.9,858.3 L572.5,858.4 L573.1,858.5 L573.7,858.5 L574.3,858.6 L574.9,858.6 L575.5,858.5 L576.1,858.2 L576.7,857.8 L577.3,857.1 L577.9,856.4 L578.5,855.6 L579.1,854.7 L579.7,853.8 L580.3,852.9 L580.9,852.1 L581.5,851.3 L582.1,850.6 L582.7,850.1 L583.3,849.7 L583.9,849.5 L584.5,849.5 L585.1,849.5 L585.7,849.5 L586.3,849.5 L586.9,849.5 L587.5,849.5 L588.1,849.5 L588.7,849.5 L589.3,849.5 L589.9,849.5 L590.5,849.5 L591.1,849.5 L591.7,849.5 L592.3,849.5 L592.9,849.5 L593.5,849.5 L594.1,849.6 L594.7,849.7 L595.3,849.8 L595.9,850 L596.5,850.3 L597.1,850.5 L597.7,850.8 L598.3,851.1 L598.9,851.5 L599.5,851.8 L600.1,852.2 L600.7,852.6 L601.3,853.2 L601.9,854 L602.5,855.1 L603.1,856.3 L603.7,857.6 L604.3,858.8 L604.9,859.9 L605.5,860.8 L606.1,861.4 L606.7,861.6 L607.3,861.5 L607.9,861.1 L608.5,860.5 L609.1,859.8 L609.7,859 L610.3,858.1 L610.9,857.3 L611.5,856.5 L612.1,855.9 L612.7,855.3 L613.3,854.7 L613.9,854.1 L614.5,853.6 L615.1,853 L615.7,852.4 L616.3,851.8 L616.9,851.3 L617.5,850.7 L618.1,850.2 L618.7,849.7 L618.9,849.5" fill="none" stroke="#000" stroke-width="6" stroke-linejoin="round" stroke-linecap="butt" stroke-dasharray="22.2 9.6"/>
<path d="M406.9,877.3 L407.5,878.2 L408.1,878.1 L408.7,878.2 L409.3,877.6 L409.9,877.7 L410.5,876.6 L411.1,875 L411.7,873.3 L412.3,873 L412.9,872.8 L413.5,872.1 L414.1,870.9 L414.7,870.1 L415.3,869.4 L415.9,868 L416.5,867.3 L417.1,867.6 L417.7,868 L418.3,868.2 L418.9,867.9 L419.5,867.9 L420.1,867.2 L420.7,866.9 L421.3,866.4 L421.9,866.7 L422.5,866.6 L423.1,866.9 L423.7,867.2 L424.3,866.9 L424.9,866.8 L425.5,867.9 L426.1,868.7 L426.7,869.2 L427.3,869.6 L427.9,871.1 L428.5,872.8 L429.1,873.3 L429.7,874.5 L430.3,875.2 L430.9,876.6 L431.5,877.7 L432.1,880.2 L432.7,883.5 L433.3,886.3 L433.9,888.5 L434.5,890.7 L435.1,892.5 L435.7,894.7 L436.3,895.6 L436.9,896.6 L437.5,898 L438.1,899.3 L438.7,901.1 L439.3,902.1 L439.9,903.7 L440.5,904.8 L441.1,906.5 L441.7,906.8 L442.3,908.1 L442.9,909.2 L443.5,910.8 L444.1,911.2 L444.7,911.4 L445.3,912.6 L445.9,912.9 L446.5,913.5 L447.1,913.4 L447.7,913.9 L448.3,912.9 L448.9,911.6 L449.5,909.7 L450.1,907.6 L450.7,904.7 L451.3,902.1 L451.9,899.8 L452.5,898.3 L453.1,896.6 L453.7,895.7 L454.3,894.4 L454.9,893.1 L455.5,891.7 L456.1,890.3 L456.7,889.8 L457.3,888.2 L457.9,887.4 L458.5,886.2 L459.1,885 L459.7,883.9 L460.3,883.5 L460.9,882.1 L461.5,881.2 L462.1,879.9 L462.7,879.5 L463.3,878.3 L463.9,878.2 L464.5,878 L465.1,878.8 L465.7,878 L466.3,877.9 L466.9,877.1 L467.5,876.9 L468.1,876.8 L468.7,876.1 L469.3,874.8 L469.9,873.1 L470.5,871.8 L471.1,870.6 L471.7,869.2 L472.3,867.8 L472.9,867.1 L473.5,866.7 L474.1,866.4 L474.7,865.9 L475.3,866.2 L475.9,867.1 L476.5,868.7 L477.1,869.9 L477.7,871.3 L478.3,871.9 L478.9,874 L479.5,874.7 L480.1,875.5 L480.7,874.4 L481.3,873 L481.9,872.5 L482.5,872.5 L483.1,873.7 L483.7,872.9 L484.3,873.2 L484.9,872.3 L485.5,873 L486.1,871.9 L486.7,872.8 L487.3,873.5 L487.9,875.8 L488.5,877.3 L489.1,879.4 L489.7,881.8 L490.3,883.4 L490.9,884.9 L491.5,885.7 L492.1,886.5 L492.7,886.9 L493.3,886.9 L493.9,887 L494.5,888.7 L495.1,891.6 L495.7,895.2 L496.3,898.2 L496.9,901.7 L497.5,905.4 L498.1,908.6 L498.7,910.8 L499.3,912.9 L499.9,913.7 L500.5,914.2 L501.1,913.4 L501.7,913.4 L502.3,914.2 L502.9,915.1 L503.5,915.7 L504.1,915.8 L504.7,916 L505.3,916.5 L505.9,917.9 L506.5,919.2 L507.1,921.5 L507.7,921.7 L508.3,922.4 L508.9,922.4 L509.5,922.8 L510.1,922.2 L510.7,921.3 L511.3,920.8 L511.9,920.6 L512.5,920 L513.1,919.3 L513.7,918.4 L514.3,917.3 L514.9,915.4 L515.5,912.4 L516.1,909.1 L516.7,905.6 L517.3,901.7 L517.9,897.9 L518.5,894.3 L519.1,891.5 L519.7,889.3 L520.3,888.2 L520.9,887.5 L521.5,887.2 L522.1,885.9 L522.7,885 L523.3,883.9 L523.9,883.2 L524.5,881.6 L525.1,879.9 L525.7,878.2 L526.3,876.4 L526.9,874.9 L527.5,873.4 L528.1,871.9 L528.7,870.7 L529.3,868.9 L529.9,867.8 L530.5,866.3 L531.1,865.8 L531.7,866 L532.3,866.2 L532.9,867.1 L533.5,867.3 L534.1,867.6 L534.7,867.1 L535.3,866.6 L535.9,866.6 L536.5,866.7 L537.1,867.7 L537.7,867.9 L538.3,869 L538.9,869.3 L539.5,869.9 L540.1,869.8 L540.7,870.1 L541.3,870.6 L541.9,871.3 L542.5,871.6 L543.1,872.2 L543.7,873.6 L544.3,874.9 L544.9,876 L545.5,876.5 L546.1,877.7 L546.7,879.9 L547.3,881.6 L547.9,883.5 L548.5,885 L549.1,887 L549.7,887.8 L550.3,888.6 L550.9,889.1 L551.5,890.6 L552.1,891.4 L552.7,892.2 L553.3,893.4 L553.9,894.3 L554.5,895.2 L555.1,895.9 L555.7,896.8 L556.3,897.6 L556.9,898 L557.5,898.9 L558.1,899.5 L558.7,899.8 L559.3,899.2 L559.9,899 L560.5,898.7 L561.1,899 L561.7,899.2 L562.3,898.8 L562.9,898.8 L563.5,898.9 L564.1,899.7 L564.7,899.4 L565.3,900 L565.9,900.4 L566.5,901.2 L567.1,901.5 L567.7,902.9 L568.3,904.8 L568.9,906.7 L569.5,907.9 L570.1,908.1 L570.7,908.2 L571.3,908.4 L571.9,909.4 L572.5,909.7 L573.1,910.7 L573.7,911.6 L574.3,912.7 L574.9,913.4 L575.5,913.3 L576.1,913.3 L576.7,913.2 L577.3,914.1 L577.9,915 L578.5,915 L579.1,914.9 L579.7,914.3 L580.3,914.7 L580.9,914.1 L581.5,913.7 L582.1,913 L582.7,912.2 L583.3,911.5 L583.9,910.3 L584.5,910.1 L585.1,910 L585.7,910 L586.3,909.3 L586.9,909.3 L587.5,908.7 L588.1,908.1 L588.7,907.5 L589.3,907.5 L589.9,907.3 L590.5,905.6 L591.1,904.3 L591.7,903.7 L592.3,903.5 L592.9,903.4 L593.5,901.8 L594.1,900.8 L594.7,898.7 L595.3,898 L595.9,896.1 L596.5,894.9 L597.1,892.7 L597.7,890.8 L598.3,888.9 L598.9,888.1 L599.5,887.7 L600.1,888 L600.7,888.3 L601.3,888.5 L601.9,887.4 L602.5,886.7 L603.1,886.2 L603.7,886.8 L604.3,886.6 L604.9,886.7 L605.5,885.7 L606.1,884.5 L606.7,883.5 L607.3,882.7 L607.9,882.9 L608.5,882.6 L609.1,882.2 L609.7,881.5 L610.3,881.7 L610.9,881.4 L611.5,881.2 L612.1,880.6 L612.7,880.7 L613.3,880.8 L613.9,881.1 L614.5,881.9 L615.1,881.5 L615.7,881.3 L616.3,880.7 L616.9,881.3 L617.5,881.2 L618.1,881.1 L618.7,881.5 L618.9,881.5" fill="none" stroke="#ff69b4" stroke-width="6" stroke-linejoin="round" stroke-linecap="round" />
<path d="M406.9,863.8 L407.5,864.1 L408.1,864.7 L408.7,865.1 L409.3,865.8 L409.9,866.1 L410.5,866.6 L411.1,866.6 L411.7,866.7 L412.3,866.8 L412.9,867 L413.5,868.1 L414.1,868.9 L414.7,869.9 L415.3,871.1 L415.9,872.8 L416.5,874 L417.1,876.2 L417.7,878.5 L418.3,882.2 L418.9,883.9 L419.5,884.6 L420.1,884.9 L420.7,885.6 L421.3,885.5 L421.9,886 L422.5,886.1 L423.1,886.9 L423.7,888 L424.3,889.3 L424.9,892.1 L425.5,893.4 L426.1,894.8 L426.7,895.8 L427.3,897.8 L427.9,899.1 L428.5,900.6 L429.1,902.3 L429.7,904.6 L430.3,906.5 L430.9,908.2 L431.5,909.4 L432.1,910.1 L432.7,910.3 L433.3,910.9 L433.9,911.7 L434.5,912.6 L435.1,913.5 L435.7,914 L436.3,915.6 L436.9,917.4 L437.5,918.7 L438.1,919.5 L438.7,919.8 L439.3,921.4 L439.9,922.1 L440.5,922.7 L441.1,922.7 L441.7,923 L442.3,923.1 L442.9,923.7 L443.5,923.9 L444.1,924.9 L444.7,925.3 L445.3,926.5 L445.9,926.9 L446.5,927.6 L447.1,927.2 L447.7,927.4 L448.3,926.5 L448.9,926.1 L449.5,924.9 L450.1,924.1 L450.7,922.1 L451.3,921.1 L451.9,919 L452.5,918.8 L453.1,916.5 L453.7,915.1 L454.3,912.4 L454.9,911.7 L455.5,909.3 L456.1,907.2 L456.7,903.5 L457.3,900.4 L457.9,897.3 L458.5,894.9 L459.1,892.7 L459.7,890.3 L460.3,887.1 L460.9,884.3 L461.5,880.9 L462.1,878.2 L462.7,875.9 L463.3,873.2 L463.9,870.3 L464.5,866.9 L465.1,863.4 L465.7,858.9 L466.3,850.8 L466.9,844.4 L467.5,838.4 L468.1,833.4 L468.7,829.3 L469.3,823.3 L469.9,818.3 L470.5,812.7 L471.1,808 L471.7,802.5 L472.3,797.4 L472.9,793.5 L473.5,788.6 L474.1,783.1 L474.7,778 L475.3,774.1 L475.9,769.9 L476.5,764.4 L477.1,760.3 L477.7,756.6 L478.3,754.1 L478.9,749.9 L479.5,746 L480.1,741.9 L480.7,739.2 L481.3,737.1 L481.9,734.8 L482.5,733.2 L483.1,733.8 L483.7,736.2 L484.3,739 L484.9,742.1 L485.5,746.3 L486.1,750.9 L486.7,754.8 L487.3,758.7 L487.9,763 L488.5,768 L489.1,772.8 L489.7,778.1 L490.3,783.1 L490.9,789.1 L491.5,794.5 L492.1,799.9 L492.7,805.1 L493.3,810.7 L493.9,816.7 L494.5,822.3 L495.1,828.2 L495.7,833.9 L496.3,839.4 L496.9,844.1 L497.5,848.7 L498.1,853.1 L498.7,857.1 L499.3,860 L499.9,862.7 L500.5,866.2 L501.1,870.1 L501.7,874.1 L502.3,876.6 L502.9,879.8 L503.5,882.7 L504.1,886.7 L504.7,890 L505.3,893.3 L505.9,896 L506.5,897.7 L507.1,899.7 L507.7,900.6 L508.3,902.1 L508.9,903.1 L509.5,904.5 L510.1,905 L510.7,905.2 L511.3,905.3 L511.9,905.3 L512.5,905.9 L513.1,905.9 L513.7,905.5 L514.3,905 L514.9,904.5 L515.5,904.3 L516.1,904.1 L516.7,904.1 L517.3,903.4 L517.9,902.2 L518.5,900 L519.1,899.4 L519.7,898.8 L520.3,898.5 L520.9,898.6 L521.5,899.1 L522.1,899.8 L522.7,899.9 L523.3,899.7 L523.9,900.4 L524.5,900.3 L525.1,900.5 L525.7,900.7 L526.3,900.6 L526.9,899.8 L527.5,897.9 L528.1,896.2 L528.7,894.7 L529.3,893.7 L529.9,892.7 L530.5,892.1 L531.1,892.1 L531.7,892.8 L532.3,892.3 L532.9,891.7 L533.5,891 L534.1,892.1 L534.7,892.9 L535.3,893.8 L535.9,893.4 L536.5,892.9 L537.1,892.7 L537.7,893 L538.3,892.9 L538.9,892.6 L539.5,892.4 L540.1,892.3 L540.7,891.5 L541.3,890.2 L541.9,889.7 L542.5,889.8 L543.1,890.3 L543.7,890.3 L544.3,890.5 L544.9,891.5 L545.5,892.6 L546.1,894 L546.7,894.7 L547.3,895.7 L547.9,896.9 L548.5,897.9 L549.1,898.5 L549.7,898.9 L550.3,900.2 L550.9,901.1 L551.5,902.1 L552.1,902.1 L552.7,902.3 L553.3,901.8 L553.9,902 L554.5,903 L555.1,904.1 L555.7,905.1 L556.3,905.7 L556.9,906.4 L557.5,907.1 L558.1,907.9 L558.7,909.1 L559.3,910.3 L559.9,911.1 L560.5,911.5 L561.1,911.4 L561.7,911 L562.3,909.2 L562.9,907.7 L563.5,904.9 L564.1,903.8 L564.7,904.1 L565.3,905.2 L565.9,905.8 L566.5,906.1 L567.1,907.8 L567.7,909.2 L568.3,910.2 L568.9,910.2 L569.5,910.1 L570.1,910.8 L570.7,910.7 L571.3,910.4 L571.9,909 L572.5,908.8 L573.1,909 L573.7,909.2 L574.3,909 L574.9,908.3 L575.5,908.5 L576.1,909 L576.7,910.4 L577.3,910.9 L577.9,912 L578.5,912.8 L579.1,913.9 L579.7,913.8 L580.3,913.9 L580.9,913.9 L581.5,913.8 L582.1,913.3 L582.7,912.6 L583.3,912.9 L583.9,911.9 L584.5,911.7 L585.1,910.4 L585.7,910.6 L586.3,910.4 L586.9,910.1 L587.5,909.4 L588.1,907.9 L588.7,907.8 L589.3,907 L589.9,906.6 L590.5,904.5 L591.1,902.8 L591.7,901.8 L592.3,901.1 L592.9,900.3 L593.5,898.8 L594.1,897.2 L594.7,896.3 L595.3,895 L595.9,894.4 L596.5,892.9 L597.1,892.1 L597.7,891 L598.3,891 L598.9,890.9 L599.5,891.4 L600.1,891.4 L600.7,891.6 L601.3,890.7 L601.9,891.3 L602.5,891.5 L603.1,893 L603.7,893.2 L604.3,893.3 L604.9,893.5 L605.5,894.2 L606.1,895.3 L606.7,895.4 L607.3,894.8 L607.9,894.8 L608.5,894.7 L609.1,895.6 L609.7,895 L610.3,894.8 L610.9,894.3 L611.5,894.7 L612.1,894.4 L612.7,894.4 L613.3,893.6 L613.9,894.4 L614.5,893.6 L615.1,893 L615.7,892.5 L616.3,892.8 L616.9,893.8 L617.5,894.1 L618.1,893.8 L618.7,892.8 L618.9,892.2" fill="none" stroke="#2e8b57" stroke-width="6" stroke-linejoin="round" stroke-linecap="round" />
<path d="M687,855.5 L687.6,854.3 L688.2,853.1 L688.8,852 L689.4,851 L690,850 L690.6,849 L691.2,847.9 L691.8,846.8 L692.4,845.8 L693,845 L693.6,844.4 L694.2,844.2 L694.8,844.4 L695.4,845 L696,846 L696.6,847.1 L697.2,848.2 L697.8,849.4 L698.4,850.5 L699,851.5 L699.6,852.6 L700.2,853.6 L700.8,854.7 L701.4,855.9 L702,857 L702.6,858.2 L703.2,859.6 L703.8,860.9 L704.4,862.2 L705,863.3 L705.6,864.1 L706.2,864.9 L706.8,865.6 L707.4,866.3 L708,866.8 L708.6,867.2 L709.2,867.5 L709.8,867.5 L710.4,867.5 L711,867.4 L711.6,867.3 L712.2,867.2 L712.8,867 L713.4,866.9 L714,866.6 L714.6,865.9 L715.2,864.7 L715.8,863.2 L716.4,861.6 L717,860 L717.6,858.5 L718.2,857.3 L718.8,856.4 L719.4,856.1 L720,855.7 L720.6,855.4 L721.2,855.2 L721.8,854.9 L722.4,854.7 L723,854.5 L723.6,854.4 L724.2,854.3 L724.8,854.2 L725.4,854.2 L726,854.3 L726.6,854.4 L727.2,854.7 L727.8,855 L728.4,855.4 L729,855.9 L729.6,856.4 L730.2,857.1 L730.8,858 L731.4,860.4 L732,863.1 L732.6,864.7 L733.2,865.3 L733.8,865.8 L734.4,866.2 L735,866.6 L735.6,866.9 L736.2,867.1 L736.8,867.3 L737.4,867.4 L738,867.4 L738.6,867.3 L739.2,867.2 L739.8,867 L740.4,866.6 L741,866.2 L741.6,865.7 L742.2,865 L742.8,864.3 L743.4,863.2 L744,859.2 L744.6,853.5 L745.2,848.4 L745.8,843.7 L746.4,838.8 L747,833.7 L747.6,828 L748.2,821.6 L748.8,814.7 L749.4,807.7 L750,801.1 L750.6,794.9 L751.2,789 L751.8,783.1 L752.4,777.2 L753,771.2 L753.6,765.3 L754.2,759.3 L754.8,753.4 L755.4,747.4 L756,741.5 L756.6,735.6 L757.2,729.6 L757.8,723.2 L758.4,716.5 L759,710.7 L759.6,706.1 L760.2,702.1 L760.8,698.8 L761.4,695.6 L762,692.5 L762.6,689.7 L763.2,687.7 L763.8,687 L764.4,687.3 L765,688.2 L765.6,689.5 L766.2,691.1 L766.8,692.9 L767.4,695.8 L768,700.2 L768.6,705.4 L769.2,710.7 L769.8,716.5 L770.4,722.8 L771,728.6 L771.6,733.6 L772.2,738.2 L772.8,742.7 L773.4,747.2 L774,751.6 L774.6,756 L775.2,760.4 L775.8,765.1 L776.4,770 L777,775.2 L777.6,780.8 L778.2,787.1 L778.8,793.8 L779.4,799.7 L780,804.9 L780.6,809.8 L781.2,814.3 L781.8,818.6 L782.4,822.7 L783,826.8 L783.6,830.7 L784.2,834.3 L784.8,837.4 L785.4,840.1 L786,842.5 L786.6,844.7 L787.2,846.8 L787.8,848.7 L788.4,850.5 L789,852.1 L789.6,853.5 L790.2,854.7 L790.8,855.8 L791.4,856.7 L792,857.5 L792.6,858.2 L793.2,858.9 L793.8,859.6 L794.4,860.2 L795,860.8 L795.6,861.5 L796.2,862.2 L796.8,863 L797.4,863.9 L798,865 L798.6,866.2 L799.2,867.6 L799.8,869 L800.4,870.4 L801,871.7 L801.6,872.9 L802.2,873.9 L802.8,874.7 L803.4,875.2 L804,875.3 L804.6,875.3 L805.2,875.3 L805.8,875.3 L806.4,875.3 L807,875.3 L807.6,875.3 L808.2,875.3 L808.8,875.3 L809.4,875.3 L810,875.3 L810.6,875.3 L811.2,875.1 L811.8,874.2 L812.4,873 L813,871.4 L813.6,869.7 L814.2,868.1 L814.8,866.7 L815.4,865.6 L816,864.9 L816.6,864.5 L817.2,864 L817.8,863.6 L818.4,863.2 L819,862.8 L819.6,862.5 L820.2,862.2 L820.8,862 L821.4,861.8 L822,861.7 L822.6,861.7 L823.2,861.9 L823.8,862.4 L824.4,863.1 L825,864 L825.6,865 L826.2,866.1 L826.8,867.1 L827.4,868.2 L828,869.2 L828.6,870.5 L829.2,872.1 L829.8,873.7 L830.4,875.2 L831,876.6 L831.6,877.7 L832.2,878.4 L832.8,878.6 L833.4,878.5 L834,878.3 L834.6,878 L835.2,877.6 L835.8,877.2 L836.4,876.7 L837,876.3 L837.6,875.9 L838.2,875.6 L838.8,875.4 L839.4,875.3 L840,875.3 L840.6,875.5 L841.2,875.7 L841.8,876 L842.4,876.4 L843,876.7 L843.6,877.1 L844.2,877.5 L844.8,877.9 L845.4,878.2 L846,878.5 L846.6,878.7 L847.2,878.9 L847.8,879.1 L848.4,879.3 L849,879.5 L849.6,879.7 L850.2,879.9 L850.8,880 L851.4,880.1 L852,880.2 L852.6,880.3 L853.2,880.3 L853.8,880.1 L854.4,879.7 L855,879.1 L855.6,878.3 L856.2,877.4 L856.8,876.5 L857.4,875.5 L858,874.5 L858.6,873.5 L859.2,872.6 L859.8,871.9 L860.4,871.2 L861,870.4 L861.6,869.6 L862.2,868.8 L862.8,868.1 L863.4,867.5 L864,867.1 L864.6,866.8 L865.2,866.8 L865.8,867 L866.4,867.4 L867,868 L867.6,868.6 L868.2,869.4 L868.8,870.1 L869.4,870.9 L870,871.7 L870.6,872.5 L871.2,873.1 L871.8,873.7 L872.4,874.2 L873,874.7 L873.6,875.2 L874.2,875.6 L874.8,876.1 L875.4,876.5 L876,877 L876.6,877.4 L877.2,877.8 L877.8,878.2 L878.4,878.5 L879,878.9 L879.6,879.3 L880.2,879.7 L880.8,880.1 L881.4,880.5 L882,880.9 L882.6,881.2 L883.2,881.5 L883.8,881.7 L884.4,881.9 L885,882 L885.6,882 L886.2,881.9 L886.8,881.7 L887.4,881.5 L888,881.2 L888.6,880.9 L889.2,880.5 L889.8,880.1 L890.4,879.7 L891,879.3 L891.6,878.9 L892.2,878.5 L892.8,878 L893.4,877.5 L894,877 L894.6,876.4 L895.2,875.7 L895.8,875.1 L896.4,874.4 L897,873.6 L897.6,872.9 L898.2,872.1 L898.8,871.3 L899,871" fill="none" stroke="#000" stroke-width="4" stroke-linejoin="round" stroke-linecap="butt" stroke-dasharray="14.8 6.4"/>
<path d="M687,858.7 L687.6,858.8 L688.2,859.3 L688.8,859 L689.4,859.8 L690,860.4 L690.6,862.6 L691.2,863.3 L691.8,863.6 L692.4,863.5 L693,863.4 L693.6,863.9 L694.2,863.7 L694.8,865.2 L695.4,866.3 L696,867.4 L696.6,867.8 L697.2,869 L697.8,870.8 L698.4,872.2 L699,872.9 L699.6,873.9 L700.2,875.2 L700.8,877.1 L701.4,878.3 L702,879.2 L702.6,880.6 L703.2,881.9 L703.8,884 L704.4,885 L705,886.9 L705.6,888.5 L706.2,889.9 L706.8,891.1 L707.4,891.5 L708,892.4 L708.6,893.6 L709.2,895.7 L709.8,897.6 L710.4,899.5 L711,900.3 L711.6,901.1 L712.2,901.9 L712.8,902.9 L713.4,904 L714,904.4 L714.6,905.8 L715.2,906.6 L715.8,908.2 L716.4,908.5 L717,910.2 L717.6,910.7 L718.2,912.3 L718.8,912.2 L719.4,913.1 L720,913.9 L720.6,914.9 L721.2,915.7 L721.8,915.8 L722.4,915.9 L723,916.5 L723.6,917.2 L724.2,917.9 L724.8,918.2 L725.4,917.7 L726,917.6 L726.6,917.2 L727.2,917 L727.8,917.7 L728.4,916.7 L729,916.7 L729.6,915.7 L730.2,914.9 L730.8,913.5 L731.4,912.7 L732,912.6 L732.6,912.7 L733.2,912.2 L733.8,911.7 L734.4,910.4 L735,908.2 L735.6,907.4 L736.2,906.4 L736.8,906.4 L737.4,905.5 L738,904.4 L738.6,904.1 L739.2,903.9 L739.8,904.3 L740.4,903.3 L741,903.5 L741.6,904.3 L742.2,906.2 L742.8,907.8 L743.4,910 L744,911.8 L744.6,914 L745.2,915.6 L745.8,917.9 L746.4,919.6 L747,920.1 L747.6,920 L748.2,919.6 L748.8,919.6 L749.4,918 L750,915.9 L750.6,913.4 L751.2,912.1 L751.8,911 L752.4,910.3 L753,909.2 L753.6,909 L754.2,908.4 L754.8,907.2 L755.4,906 L756,903.2 L756.6,899.7 L757.2,894.9 L757.8,891 L758.4,887.7 L759,883.8 L759.6,880.4 L760.2,878.7 L760.8,879.6 L761.4,880 L762,881.2 L762.6,880.9 L763.2,880.5 L763.8,881 L764.4,882.1 L765,884.4 L765.6,885.6 L766.2,887.4 L766.8,888.4 L767.4,888.3 L768,888.8 L768.6,888.7 L769.2,889.5 L769.8,890.7 L770.4,894 L771,897.8 L771.6,900.4 L772.2,902.9 L772.8,904.3 L773.4,905.7 L774,905.9 L774.6,905.9 L775.2,905.7 L775.8,905.7 L776.4,905 L777,904 L777.6,902 L778.2,900.3 L778.8,899.4 L779.4,899.4 L780,899.4 L780.6,900 L781.2,900.4 L781.8,900.9 L782.4,900.2 L783,900.3 L783.6,899.5 L784.2,899.5 L784.8,899.6 L785.4,900.5 L786,900.4 L786.6,899.7 L787.2,898.6 L787.8,897.6 L788.4,897.2 L789,897.6 L789.6,898.3 L790.2,899.9 L790.8,900.7 L791.4,901.7 L792,902.9 L792.6,905 L793.2,907.6 L793.8,910.7 L794.4,913 L795,914.7 L795.6,915.1 L796.2,916 L796.8,916.1 L797.4,916.5 L798,916.4 L798.6,916.7 L799.2,916.5 L799.8,916 L800.4,915.6 L801,915.2 L801.6,915.5 L802.2,915.2 L802.8,914.6 L803.4,914.1 L804,914 L804.6,913.6 L805.2,913.1 L805.8,911.8 L806.4,910.6 L807,909.3 L807.6,908.3 L808.2,907.2 L808.8,906.7 L809.4,906 L810,905.3 L810.6,904.7 L811.2,905.2 L811.8,905.4 L812.4,905.5 L813,904.7 L813.6,904.4 L814.2,903.6 L814.8,903.6 L815.4,904.2 L816,903.9 L816.6,904.3 L817.2,903.1 L817.8,903.2 L818.4,902.7 L819,902.9 L819.6,902.7 L820.2,901.3 L820.8,900.5 L821.4,899.2 L822,899.7 L822.6,898.6 L823.2,898 L823.8,895.9 L824.4,894.9 L825,893.7 L825.6,893.8 L826.2,893.5 L826.8,893.8 L827.4,892.9 L828,892.4 L828.6,892.3 L829.2,891.9 L829.8,891.2 L830.4,890.6 L831,890.3 L831.6,890.6 L832.2,890.6 L832.8,890.5 L833.4,890.9 L834,890.3 L834.6,891.1 L835.2,891.3 L835.8,891.7 L836.4,891.5 L837,891.2 L837.6,891.9 L838.2,893 L838.8,893.4 L839.4,894.2 L840,894 L840.6,894.7 L841.2,894.3 L841.8,895.9 L842.4,896.7 L843,897.9 L843.6,897.5 L844.2,898.3 L844.8,898.1 L845.4,898.8 L846,899.6 L846.6,900.6 L847.2,900.9 L847.8,900.7 L848.4,900.8 L849,901 L849.6,901.2 L850.2,901.7 L850.8,902 L851.4,901.6 L852,901.8 L852.6,901.8 L853.2,902.5 L853.8,902.8 L854.4,902.9 L855,901.9 L855.6,902.2 L856.2,902.9 L856.8,903.8 L857.4,903.3 L858,903.2 L858.6,904.3 L859.2,905.2 L859.8,905.9 L860.4,906.2 L861,907.4 L861.6,908.1 L862.2,908.4 L862.8,908.3 L863.4,909.4 L864,910.3 L864.6,910.9 L865.2,910.4 L865.8,910.3 L866.4,910.9 L867,911.5 L867.6,912.4 L868.2,912.6 L868.8,913.2 L869.4,913.3 L870,913.6 L870.6,913.4 L871.2,913.3 L871.8,914.1 L872.4,914.1 L873,914.2 L873.6,913.9 L874.2,914.3 L874.8,914.2 L875.4,913.4 L876,913.6 L876.6,914 L877.2,914.6 L877.8,914.2 L878.4,913.8 L879,912.6 L879.6,912.3 L880.2,911.3 L880.8,911.3 L881.4,911.1 L882,911.4 L882.6,910.7 L883.2,910.6 L883.8,909.7 L884.4,909.4 L885,908.6 L885.6,907.9 L886.2,908 L886.8,907.8 L887.4,908 L888,907.9 L888.6,907.5 L889.2,907.4 L889.8,906.6 L890.4,906.5 L891,906.1 L891.6,906.3 L892.2,906.1 L892.8,906.3 L893.4,905.8 L894,905.2 L894.6,904.9 L895.2,905.4 L895.8,905.9 L896.4,906.1 L897,906.1 L897.6,905.9 L898.2,905.4 L898.8,904.4 L899,904.1" fill="none" stroke="#2e8b57" stroke-width="6" stroke-linejoin="round" stroke-linecap="round" />
<path d="M687,877.5 L687.6,876.8 L688.2,876.4 L688.8,875.9 L689.4,875.1 L690,874.7 L690.6,874.4 L691.2,874.2 L691.8,873.8 L692.4,873.4 L693,872.7 L693.6,872.6 L694.2,872.7 L694.8,872.8 L695.4,872.2 L696,872.5 L696.6,872 L697.2,871.6 L697.8,870.4 L698.4,869.8 L699,869.4 L699.6,869.3 L700.2,869.5 L700.8,869.2 L701.4,868.3 L702,867.5 L702.6,867 L703.2,866.1 L703.8,865.5 L704.4,864.8 L705,864.9 L705.6,865.2 L706.2,865.5 L706.8,864.7 L707.4,865.3 L708,866.2 L708.6,867.8 L709.2,867.8 L709.8,867.3 L710.4,867.5 L711,868 L711.6,869.4 L712.2,870.3 L712.8,872.2 L713.4,873.8 L714,874.8 L714.6,875.9 L715.2,876.7 L715.8,878.6 L716.4,880 L717,881.8 L717.6,884.1 L718.2,885 L718.8,886.5 L719.4,887.8 L720,889.3 L720.6,890 L721.2,890.2 L721.8,890.4 L722.4,891.4 L723,892.7 L723.6,894.5 L724.2,896.2 L724.8,896.8 L725.4,896.7 L726,896.4 L726.6,895.7 L727.2,895.2 L727.8,894.5 L728.4,894.8 L729,895.4 L729.6,895.6 L730.2,896.9 L730.8,897.7 L731.4,898.6 L732,898.5 L732.6,898.6 L733.2,899 L733.8,899 L734.4,899.1 L735,899.4 L735.6,900.1 L736.2,900.9 L736.8,901.6 L737.4,901.9 L738,902.4 L738.6,903 L739.2,905 L739.8,907.8 L740.4,912.8 L741,916.2 L741.6,918.2 L742.2,919 L742.8,918.9 L743.4,918.4 L744,914.5 L744.6,910.3 L745.2,904.8 L745.8,899.4 L746.4,893.3 L747,886.5 L747.6,878.9 L748.2,869.8 L748.8,863.6 L749.4,858.5 L750,855 L750.6,849.9 L751.2,843.1 L751.8,835.2 L752.4,826.3 L753,818.8 L753.6,810.9 L754.2,806 L754.8,801.5 L755.4,798.4 L756,794.5 L756.6,790.7 L757.2,786.4 L757.8,782.9 L758.4,780.7 L759,778.3 L759.6,777.5 L760.2,777.3 L760.8,777.1 L761.4,776.7 L762,771.5 L762.6,763.6 L763.2,756.5 L763.8,753 L764.4,749.8 L765,747.4 L765.6,746.5 L766.2,747.4 L766.8,749 L767.4,751.3 L768,753.8 L768.6,758.2 L769.2,762.6 L769.8,769.5 L770.4,775.8 L771,782.8 L771.6,788.8 L772.2,795.1 L772.8,802.8 L773.4,811.5 L774,819.3 L774.6,827.6 L775.2,835.9 L775.8,845.4 L776.4,853.3 L777,860 L777.6,865.2 L778.2,870 L778.8,875.2 L779.4,880 L780,883.6 L780.6,887.3 L781.2,890.3 L781.8,894.4 L782.4,896.5 L783,897.4 L783.6,895.9 L784.2,894.2 L784.8,891.2 L785.4,888.6 L786,885.6 L786.6,884.1 L787.2,882.2 L787.8,881.3 L788.4,880 L789,879.8 L789.6,879.8 L790.2,879.9 L790.8,880.1 L791.4,879.9 L792,879.7 L792.6,879 L793.2,879.1 L793.8,879.8 L794.4,882 L795,882.6 L795.6,884.1 L796.2,886 L796.8,889.9 L797.4,894.5 L798,899.7 L798.6,904.8 L799.2,910.1 L799.8,918 L800.4,924.4 L801,926 L801.6,924.5 L802.2,921.7 L802.8,918.7 L803.4,916.6 L804,915.2 L804.6,913.3 L805.2,910.7 L805.8,908.8 L806.4,907.2 L807,905 L807.6,902.2 L808.2,898.1 L808.8,895.4 L809.4,892.8 L810,891.6 L810.6,891.2 L811.2,891.4 L811.8,890.8 L812.4,890.3 L813,889.9 L813.6,890 L814.2,889.9 L814.8,889.3 L815.4,889.4 L816,888.9 L816.6,889.3 L817.2,890.4 L817.8,890.8 L818.4,891.2 L819,890.9 L819.6,891.8 L820.2,892.6 L820.8,893.9 L821.4,894.3 L822,894.7 L822.6,895 L823.2,896 L823.8,896.8 L824.4,897.7 L825,898.8 L825.6,899.4 L826.2,899.5 L826.8,899.6 L827.4,899.8 L828,899.7 L828.6,899.1 L829.2,899.6 L829.8,900.2 L830.4,900.7 L831,900.7 L831.6,901 L832.2,901.4 L832.8,900.9 L833.4,900.4 L834,900 L834.6,900.4 L835.2,900.1 L835.8,899.5 L836.4,898.8 L837,898.1 L837.6,898.2 L838.2,898.2 L838.8,899.1 L839.4,899 L840,899.4 L840.6,899.4 L841.2,899.9 L841.8,900.8 L842.4,901.6 L843,902.7 L843.6,902.7 L844.2,903.5 L844.8,903.4 L845.4,904.2 L846,904.7 L846.6,906.2 L847.2,907.2 L847.8,908.2 L848.4,909.1 L849,909.9 L849.6,910.9 L850.2,911.7 L850.8,912.3 L851.4,912.6 L852,913 L852.6,913.5 L853.2,914.4 L853.8,915.2 L854.4,916.3 L855,916.5 L855.6,916.2 L856.2,916.3 L856.8,916.8 L857.4,917.8 L858,917.8 L858.6,917.7 L859.2,917.4 L859.8,917 L860.4,916.7 L861,916.5 L861.6,916.6 L862.2,916.3 L862.8,915.3 L863.4,913.8 L864,913.2 L864.6,912.6 L865.2,912.5 L865.8,911.6 L866.4,911 L867,910.3 L867.6,910 L868.2,909.8 L868.8,909.4 L869.4,908.1 L870,906.7 L870.6,905.5 L871.2,905.1 L871.8,905 L872.4,905.1 L873,904.5 L873.6,903.7 L874.2,902.6 L874.8,901.5 L875.4,900.3 L876,899.5 L876.6,899.8 L877.2,899.2 L877.8,899.3 L878.4,898.7 L879,898.7 L879.6,897.9 L880.2,897 L880.8,896.8 L881.4,896.9 L882,896.9 L882.6,897.1 L883.2,897.1 L883.8,897 L884.4,896.7 L885,896.1 L885.6,896 L886.2,895.4 L886.8,895.5 L887.4,895.4 L888,895.5 L888.6,896 L889.2,895.7 L889.8,895.8 L890.4,895.2 L891,895.1 L891.6,895.3 L892.2,894.9 L892.8,895.4 L893.4,895.8 L894,896.6 L894.6,897.5 L895.2,897.9 L895.8,898.4 L896.4,898.3 L897,898 L897.6,898.1 L898.2,897.9 L898.8,897.9 L899,897.6" fill="none" stroke="#ff69b4" stroke-width="6" stroke-linejoin="round" stroke-linecap="round" />
<line x1="116.5" y1="612.2" x2="116.5" y2="941.9" stroke="#000" stroke-width="2.7" stroke-linecap="square" />
<line x1="116.5" y1="941.9" x2="350.2" y2="941.9" stroke="#000" stroke-width="2.7" stroke-linecap="square" />
<line x1="102.9" y1="927.8" x2="116.5" y2="927.8" stroke="#000" stroke-width="2.7" stroke-linecap="butt" />
<line x1="102.9" y1="821.7" x2="116.5" y2="821.7" stroke="#000" stroke-width="2.7" stroke-linecap="butt" />
<line x1="102.9" y1="715.6" x2="116.5" y2="715.6" stroke="#000" stroke-width="2.7" stroke-linecap="butt" />
<line x1="179.8" y1="941.9" x2="179.8" y2="955.6" stroke="#000" stroke-width="2.7" stroke-linecap="butt" />
<text x="179.8" y="986.6" font-size="24" font-weight="400" text-anchor="middle" >0.0</text>
<line x1="312.3" y1="941.9" x2="312.3" y2="955.6" stroke="#000" stroke-width="2.7" stroke-linecap="butt" />
<text x="312.3" y="986.6" font-size="24" font-weight="400" text-anchor="middle" >0.5</text>
<text x="188.7" y="590.5" font-size="28" font-weight="400" text-anchor="start"  textLength="96.8" lengthAdjust="spacing">from (1)</text>
<line x1="396.6" y1="612.2" x2="396.6" y2="941.9" stroke="#000" stroke-width="2.7" stroke-linecap="square" />
<line x1="396.6" y1="941.9" x2="630.3" y2="941.9" stroke="#000" stroke-width="2.7" stroke-linecap="square" />
<line x1="383" y1="927.8" x2="396.6" y2="927.8" stroke="#000" stroke-width="2.7" stroke-linecap="butt" />
<line x1="383" y1="821.7" x2="396.6" y2="821.7" stroke="#000" stroke-width="2.7" stroke-linecap="butt" />
<line x1="383" y1="715.6" x2="396.6" y2="715.6" stroke="#000" stroke-width="2.7" stroke-linecap="butt" />
<line x1="459.9" y1="941.9" x2="459.9" y2="955.6" stroke="#000" stroke-width="2.7" stroke-linecap="butt" />
<text x="459.9" y="986.6" font-size="24" font-weight="400" text-anchor="middle" >0.0</text>
<line x1="592.4" y1="941.9" x2="592.4" y2="955.6" stroke="#000" stroke-width="2.7" stroke-linecap="butt" />
<text x="592.4" y="986.6" font-size="24" font-weight="400" text-anchor="middle" >0.5</text>
<text x="468.8" y="590.5" font-size="28" font-weight="400" text-anchor="start"  textLength="96.8" lengthAdjust="spacing">from (2)</text>
<line x1="676.7" y1="612.2" x2="676.7" y2="941.9" stroke="#000" stroke-width="2.7" stroke-linecap="square" />
<line x1="676.7" y1="941.9" x2="910.4" y2="941.9" stroke="#000" stroke-width="2.7" stroke-linecap="square" />
<line x1="663.1" y1="927.8" x2="676.7" y2="927.8" stroke="#000" stroke-width="2.7" stroke-linecap="butt" />
<line x1="663.1" y1="821.7" x2="676.7" y2="821.7" stroke="#000" stroke-width="2.7" stroke-linecap="butt" />
<line x1="663.1" y1="715.6" x2="676.7" y2="715.6" stroke="#000" stroke-width="2.7" stroke-linecap="butt" />
<line x1="740" y1="941.9" x2="740" y2="955.6" stroke="#000" stroke-width="2.7" stroke-linecap="butt" />
<text x="740" y="986.6" font-size="24" font-weight="400" text-anchor="middle" >0.0</text>
<line x1="872.5" y1="941.9" x2="872.5" y2="955.6" stroke="#000" stroke-width="2.7" stroke-linecap="butt" />
<text x="872.5" y="986.6" font-size="24" font-weight="400" text-anchor="middle" >0.5</text>
<text x="748.9" y="590.5" font-size="28" font-weight="400" text-anchor="start"  textLength="96.8" lengthAdjust="spacing">from (3)</text>
<text x="88.6" y="936.4" font-size="24" font-weight="400" text-anchor="end" >0</text>
<text x="88.6" y="830.3" font-size="24" font-weight="400" text-anchor="end" >1</text>
<text x="88.6" y="724.4" font-size="24" font-weight="400" text-anchor="end" >2</text>
<text transform="translate(54.2,743.8) rotate(-90)" x="0" y="0" font-size="28" text-anchor="middle">PAC (arb. units)</text>
<text x="750.5" y="1027.7" font-size="28" font-weight="400" text-anchor="start" >Lag (s)</text>
<rect x="2.5" y="1003.1" width="682" height="86.7" rx="5.5" ry="5.5" fill="#fff" stroke="#d6d6d6" stroke-width="3.6"/>
<line x1="10.1" y1="1024.1" x2="71.7" y2="1024.1" stroke="#2e8b57" stroke-width="6.2" stroke-linecap="butt" />
<line x1="10.1" y1="1063.6" x2="71.7" y2="1063.6" stroke="#ff69b4" stroke-width="6.2" stroke-linecap="butt" />
<text x="89.7" y="1034" font-size="28" font-weight="400" text-anchor="start" >&quot;Onsets&quot; feature</text>
<text x="89.7" y="1073.4" font-size="28" font-weight="400" text-anchor="start" >&quot;Valued&quot; feature</text>
<line x1="347.1" y1="1023.7" x2="402.9" y2="1023.7" stroke="#000" stroke-width="4" stroke-linecap="butt" stroke-dasharray="14.7 6.4"/>
<text x="424.6" y="1033.1" font-size="28" font-weight="400" text-anchor="start" >Mean Vector Length</text>
</svg></body></html>
